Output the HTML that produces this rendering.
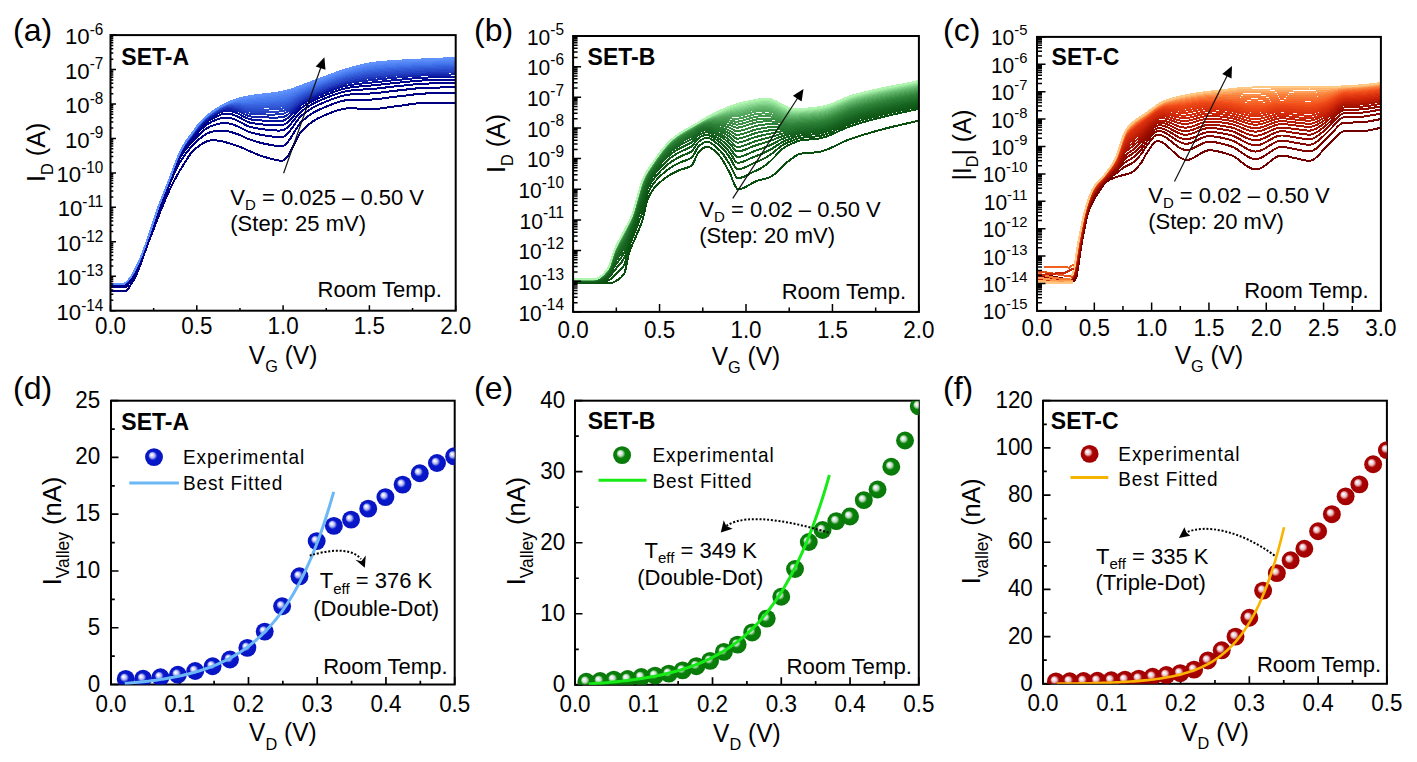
<!DOCTYPE html><html><head><meta charset="utf-8"><style>html,body{margin:0;padding:0;background:#fff;width:1417px;height:762px;overflow:hidden}text{font-family:"Liberation Sans",sans-serif;fill:#000}</style></head><body><svg width="1417" height="762" viewBox="0 0 1417 762" style="display:block">
<defs>
<radialGradient id="gb" cx="0.5" cy="0.5" r="0.5" fx="0.36" fy="0.36"><stop offset="0" stop-color="#ffffff"/><stop offset="0.1" stop-color="#f4f4ff"/><stop offset="0.3" stop-color="#a8b0f0"/><stop offset="0.5" stop-color="#0818cc"/><stop offset="1" stop-color="#0814c0"/></radialGradient>
<radialGradient id="gg" cx="0.5" cy="0.5" r="0.5" fx="0.36" fy="0.36"><stop offset="0" stop-color="#ffffff"/><stop offset="0.1" stop-color="#f4f4ff"/><stop offset="0.3" stop-color="#b8dcb8"/><stop offset="0.5" stop-color="#0a800a"/><stop offset="1" stop-color="#087808"/></radialGradient>
<radialGradient id="gr" cx="0.5" cy="0.5" r="0.5" fx="0.36" fy="0.36"><stop offset="0" stop-color="#ffffff"/><stop offset="0.1" stop-color="#f4f4ff"/><stop offset="0.3" stop-color="#e8b8b8"/><stop offset="0.5" stop-color="#aa0404"/><stop offset="1" stop-color="#a00000"/></radialGradient>
<clipPath id="clipa"><rect x="110.5" y="35.1" width="345.2" height="275.6"/></clipPath>
<clipPath id="clipb"><rect x="573.1" y="36" width="345.8" height="275.9"/></clipPath>
<clipPath id="clipc"><rect x="1037" y="36.9" width="343.9" height="274"/></clipPath>
<clipPath id="clipd"><rect x="111" y="400.7" width="343.7" height="283.8"/></clipPath>
<clipPath id="clipe"><rect x="575" y="400.7" width="343.8" height="284.1"/></clipPath>
<clipPath id="clipf"><rect x="1043" y="400.7" width="343.9" height="283.1"/></clipPath>
</defs>
<rect width="1417" height="762" fill="#fff"/>
<g clip-path="url(#clipa)" fill="none" stroke-width="2.0" stroke-linejoin="round" shape-rendering="crispEdges">
<path d="M110.5 291.06 L112.23 291.06 L113.95 291.06 L115.68 291.06 L117.4 291.06 L119.13 291.06 L120.86 291.06 L122.58 291.06 L124.31 291.06 L126.03 290.83 L127.76 289.35 L129.49 286.75 L131.21 284.02 L132.94 281.28 L134.66 278.18 L136.39 274.66 L138.12 270.56 L139.84 266.16 L141.57 261.45 L143.29 256.58 L145.02 251.72 L146.75 246.88 L148.47 242.25 L150.2 237.79 L151.92 233.4 L153.65 229 L155.38 224.54 L157.1 220.04 L158.83 215.55 L160.55 211.15 L162.28 206.9 L164.01 202.79 L165.73 198.74 L167.46 194.79 L169.18 190.97 L170.91 187.3 L172.64 183.83 L174.36 180.5 L176.09 177.27 L177.81 174.17 L179.54 171.18 L181.27 168.31 L182.99 165.55 L184.72 162.76 L186.44 159.94 L188.17 157.2 L189.9 154.63 L191.62 152.34 L193.35 150.43 L195.07 148.96 L196.8 147.62 L198.53 146.32 L200.25 145.08 L201.98 143.93 L203.7 142.88 L205.43 141.97 L207.16 141.22 L208.88 140.66 L210.61 140.3 L212.33 140.17 L214.06 140.22 L215.79 140.34 L217.51 140.54 L219.24 140.81 L220.96 141.14 L222.69 141.52 L224.42 141.95 L226.14 142.42 L227.87 142.93 L229.59 143.46 L231.32 144.01 L233.05 144.57 L234.77 145.14 L236.5 145.71 L238.22 146.26 L239.95 146.85 L241.68 147.55 L243.4 148.31 L245.13 149.12 L246.85 149.93 L248.58 150.71 L250.31 151.44 L252.03 152.15 L253.76 152.88 L255.48 153.6 L257.21 154.31 L258.94 155 L260.66 155.66 L262.39 156.28 L264.11 156.85 L265.84 157.35 L267.57 157.82 L269.29 158.31 L271.02 158.79 L272.74 159.26 L274.47 159.69 L276.2 160.07 L277.92 160.37 L279.65 160.58 L281.37 160.69 L283.1 160.53 L284.83 159.5 L286.55 157.68 L288.28 155.23 L290 152.3 L291.73 149.02 L293.46 145.56 L295.18 142.06 L296.91 138.67 L298.63 135.53 L300.36 132.81 L302.09 130.64 L303.81 128.95 L305.54 127.34 L307.26 125.81 L308.99 124.36 L310.72 123 L312.44 121.73 L314.17 120.56 L315.89 119.5 L317.62 118.55 L319.35 117.71 L321.07 116.94 L322.8 116.16 L324.52 115.4 L326.25 114.65 L327.98 113.91 L329.7 113.2 L331.43 112.52 L333.15 111.87 L334.88 111.25 L336.61 110.68 L338.33 110.16 L340.06 109.68 L341.78 109.27 L343.51 108.91 L345.24 108.62 L346.96 108.4 L348.69 108.26 L350.41 108.2 L352.14 108.22 L353.87 108.28 L355.59 108.38 L357.32 108.51 L359.04 108.65 L360.77 108.8 L362.5 108.95 L364.22 109.08 L365.95 109.19 L367.67 109.27 L369.4 109.3 L371.13 109.29 L372.85 109.23 L374.58 109.12 L376.3 108.98 L378.03 108.8 L379.76 108.59 L381.48 108.37 L383.21 108.12 L384.93 107.86 L386.66 107.59 L388.39 107.32 L390.11 107.06 L391.84 106.79 L393.56 106.54 L395.29 106.31 L397.02 106.1 L398.74 105.89 L400.47 105.67 L402.19 105.43 L403.92 105.18 L405.65 104.93 L407.37 104.67 L409.1 104.42 L410.82 104.16 L412.55 103.92 L414.28 103.68 L416 103.46 L417.73 103.26 L419.45 103.07 L421.18 102.92 L422.91 102.78 L424.63 102.68 L426.36 102.62 L428.08 102.59 L429.81 102.59 L431.54 102.59 L433.26 102.59 L434.99 102.59 L436.71 102.59 L438.44 102.59 L440.17 102.59 L441.89 102.59 L443.62 102.59 L445.34 102.59 L447.07 102.59 L448.8 102.59 L450.52 102.59 L452.25 102.59 L453.97 102.59 L455.7 102.59" stroke="#000080"/>
<path d="M110.5 287.45 L112.23 287.45 L113.95 287.45 L115.68 287.45 L117.4 287.45 L119.13 287.45 L120.86 287.45 L122.58 287.45 L124.31 287.3 L126.03 286.66 L127.76 285.08 L129.49 282.83 L131.21 280.22 L132.94 277.39 L134.66 274.27 L136.39 270.8 L138.12 266.95 L139.84 262.84 L141.57 258.43 L143.29 253.74 L145.02 248.98 L146.75 244.15 L148.47 239.36 L150.2 234.63 L151.92 229.87 L153.65 225.03 L155.38 220.16 L157.1 215.33 L158.83 210.67 L160.55 206.21 L162.28 201.93 L164.01 197.78 L165.73 193.68 L167.46 189.59 L169.18 185.46 L170.91 181.3 L172.64 177.22 L174.36 173.29 L176.09 169.6 L177.81 166.2 L179.54 163.13 L181.27 160.32 L182.99 157.72 L184.72 155.24 L186.44 152.88 L188.17 150.63 L189.9 148.49 L191.62 146.45 L193.35 144.58 L195.07 142.94 L196.8 141.35 L198.53 139.8 L200.25 138.31 L201.98 136.92 L203.7 135.65 L205.43 134.52 L207.16 133.54 L208.88 132.73 L210.61 132.09 L212.33 131.63 L214.06 131.31 L215.79 131.06 L217.51 130.87 L219.24 130.75 L220.96 130.68 L222.69 130.69 L224.42 130.81 L226.14 131.02 L227.87 131.32 L229.59 131.69 L231.32 132.14 L233.05 132.65 L234.77 133.22 L236.5 133.83 L238.22 134.46 L239.95 135.13 L241.68 135.88 L243.4 136.7 L245.13 137.53 L246.85 138.33 L248.58 139.08 L250.31 139.71 L252.03 140.26 L253.76 140.78 L255.48 141.3 L257.21 141.82 L258.94 142.32 L260.66 142.8 L262.39 143.24 L264.11 143.65 L265.84 144 L267.57 144.33 L269.29 144.67 L271.02 145.01 L272.74 145.33 L274.47 145.62 L276.2 145.86 L277.92 146.04 L279.65 146.15 L281.37 146.17 L283.1 145.96 L284.83 145.07 L286.55 143.55 L288.28 141.52 L290 139.09 L291.73 136.39 L293.46 133.54 L295.18 130.65 L296.91 127.85 L298.63 125.24 L300.36 122.95 L302.09 121.1 L303.81 119.63 L305.54 118.22 L307.26 116.87 L308.99 115.59 L310.72 114.37 L312.44 113.24 L314.17 112.18 L315.89 111.21 L317.62 110.33 L319.35 109.54 L321.07 108.79 L322.8 108.05 L324.52 107.3 L326.25 106.57 L327.98 105.85 L329.7 105.15 L331.43 104.47 L333.15 103.82 L334.88 103.2 L336.61 102.61 L338.33 102.07 L340.06 101.57 L341.78 101.11 L343.51 100.71 L345.24 100.37 L346.96 100.09 L348.69 99.88 L350.41 99.73 L352.14 99.64 L353.87 99.59 L355.59 99.57 L357.32 99.57 L359.04 99.58 L360.77 99.61 L362.5 99.64 L364.22 99.66 L365.95 99.66 L367.67 99.65 L369.4 99.61 L371.13 99.54 L372.85 99.44 L374.58 99.31 L376.3 99.16 L378.03 98.99 L379.76 98.79 L381.48 98.58 L383.21 98.35 L384.93 98.12 L386.66 97.87 L388.39 97.63 L390.11 97.39 L391.84 97.16 L393.56 96.94 L395.29 96.73 L397.02 96.54 L398.74 96.35 L400.47 96.15 L402.19 95.94 L403.92 95.73 L405.65 95.51 L407.37 95.28 L409.1 95.06 L410.82 94.84 L412.55 94.63 L414.28 94.43 L416 94.24 L417.73 94.06 L419.45 93.9 L421.18 93.75 L422.91 93.63 L424.63 93.54 L426.36 93.47 L428.08 93.43 L429.81 93.41 L431.54 93.4 L433.26 93.38 L434.99 93.37 L436.71 93.35 L438.44 93.33 L440.17 93.31 L441.89 93.3 L443.62 93.28 L445.34 93.26 L447.07 93.24 L448.8 93.22 L450.52 93.2 L452.25 93.18 L453.97 93.16 L455.7 93.14" stroke="#000184"/>
<path d="M110.5 285.64 L112.23 285.64 L113.95 285.64 L115.68 285.64 L117.4 285.64 L119.13 285.64 L120.86 285.64 L122.58 285.64 L124.31 285.42 L126.03 284.58 L127.76 282.95 L129.49 280.87 L131.21 278.31 L132.94 275.44 L134.66 272.32 L136.39 268.87 L138.12 265.15 L139.84 261.18 L141.57 256.91 L143.29 252.32 L145.02 247.61 L146.75 242.78 L148.47 237.91 L150.2 233.05 L151.92 228.1 L153.65 223.04 L155.38 217.96 L157.1 212.98 L158.83 208.23 L160.55 203.73 L162.28 199.44 L164.01 195.28 L165.73 191.15 L167.46 186.98 L169.18 182.71 L170.91 178.3 L172.64 173.9 L174.36 169.65 L176.09 165.66 L177.81 162.03 L179.54 158.83 L181.27 155.93 L182.99 153.29 L184.72 150.85 L186.44 148.6 L188.17 146.51 L189.9 144.51 L191.62 142.52 L193.35 140.57 L195.07 138.76 L196.8 136.96 L198.53 135.23 L200.25 133.58 L201.98 132.02 L203.7 130.58 L205.43 129.3 L207.16 128.17 L208.88 127.18 L210.61 126.34 L212.33 125.66 L214.06 125.08 L215.79 124.56 L217.51 124.11 L219.24 123.7 L220.96 123.35 L222.69 123.11 L224.42 123.02 L226.14 123.08 L227.87 123.27 L229.59 123.58 L231.32 124.01 L233.05 124.54 L234.77 125.17 L236.5 125.88 L238.22 126.63 L239.95 127.43 L241.68 128.3 L243.4 129.22 L245.13 130.13 L246.85 130.99 L248.58 131.75 L250.31 132.36 L252.03 132.82 L253.76 133.22 L255.48 133.61 L257.21 134 L258.94 134.39 L260.66 134.75 L262.39 135.09 L264.11 135.39 L265.84 135.65 L267.57 135.9 L269.29 136.14 L271.02 136.39 L272.74 136.62 L274.47 136.82 L276.2 136.97 L277.92 137.08 L279.65 137.12 L281.37 137.08 L283.1 136.85 L284.83 136.04 L286.55 134.7 L288.28 132.93 L290 130.83 L291.73 128.49 L293.46 126.02 L295.18 123.52 L296.91 121.08 L298.63 118.8 L300.36 116.79 L302.09 115.14 L303.81 113.8 L305.54 112.52 L307.26 111.28 L308.99 110.1 L310.72 108.98 L312.44 107.92 L314.17 106.94 L315.89 106.03 L317.62 105.19 L319.35 104.43 L321.07 103.7 L322.8 102.97 L324.52 102.24 L326.25 101.52 L327.98 100.81 L329.7 100.11 L331.43 99.44 L333.15 98.78 L334.88 98.16 L336.61 97.57 L338.33 97.01 L340.06 96.49 L341.78 96.01 L343.51 95.58 L345.24 95.21 L346.96 94.89 L348.69 94.63 L350.41 94.42 L352.14 94.27 L353.87 94.15 L355.59 94.05 L357.32 93.97 L359.04 93.91 L360.77 93.86 L362.5 93.81 L364.22 93.76 L365.95 93.7 L367.67 93.64 L369.4 93.55 L371.13 93.44 L372.85 93.32 L374.58 93.18 L376.3 93.02 L378.03 92.85 L379.76 92.66 L381.48 92.45 L383.21 92.24 L384.93 92.02 L386.66 91.79 L388.39 91.57 L390.11 91.35 L391.84 91.13 L393.56 90.93 L395.29 90.73 L397.02 90.56 L398.74 90.38 L400.47 90.2 L402.19 90.01 L403.92 89.81 L405.65 89.61 L407.37 89.41 L409.1 89.21 L410.82 89.01 L412.55 88.82 L414.28 88.64 L416 88.46 L417.73 88.3 L419.45 88.15 L421.18 88.02 L422.91 87.91 L424.63 87.82 L426.36 87.75 L428.08 87.7 L429.81 87.67 L431.54 87.65 L433.26 87.62 L434.99 87.6 L436.71 87.57 L438.44 87.54 L440.17 87.51 L441.89 87.49 L443.62 87.46 L445.34 87.43 L447.07 87.4 L448.8 87.37 L450.52 87.33 L452.25 87.3 L453.97 87.27 L455.7 87.23" stroke="#000288"/>
<path d="M110.5 284.73 L112.23 284.73 L113.95 284.73 L115.68 284.73 L117.4 284.73 L119.13 284.73 L120.86 284.73 L122.58 284.73 L124.31 284.48 L126.03 283.53 L127.76 281.89 L129.49 279.89 L131.21 277.36 L132.94 274.47 L134.66 271.34 L136.39 267.91 L138.12 264.25 L139.84 260.35 L141.57 256.16 L143.29 251.62 L145.02 246.92 L146.75 242.09 L148.47 237.19 L150.2 232.26 L151.92 227.22 L153.65 222.05 L155.38 216.87 L157.1 211.81 L158.83 207 L160.55 202.5 L162.28 198.2 L164.01 194.03 L165.73 189.89 L167.46 185.68 L169.18 181.33 L170.91 176.8 L172.64 172.23 L174.36 167.8 L176.09 163.62 L177.81 159.82 L179.54 156.48 L181.27 153.46 L182.99 150.71 L184.72 148.21 L186.44 145.94 L188.17 143.87 L189.9 141.88 L191.62 139.87 L193.35 137.82 L195.07 135.84 L196.8 133.89 L198.53 132.03 L200.25 130.26 L201.98 128.59 L203.7 127.04 L205.43 125.64 L207.16 124.4 L208.88 123.3 L210.61 122.32 L212.33 121.47 L214.06 120.72 L215.79 120.02 L217.51 119.37 L219.24 118.77 L220.96 118.23 L222.69 117.8 L224.42 117.57 L226.14 117.51 L227.87 117.61 L229.59 117.87 L231.32 118.27 L233.05 118.81 L234.77 119.47 L236.5 120.23 L238.22 121.04 L239.95 121.91 L241.68 122.85 L243.4 123.82 L245.13 124.77 L246.85 125.66 L248.58 126.42 L250.31 127.01 L252.03 127.4 L253.76 127.7 L255.48 128 L257.21 128.3 L258.94 128.6 L260.66 128.88 L262.39 129.14 L264.11 129.37 L265.84 129.56 L267.57 129.74 L269.29 129.92 L271.02 130.1 L272.74 130.26 L274.47 130.39 L276.2 130.49 L277.92 130.54 L279.65 130.53 L281.37 130.45 L283.1 130.21 L284.83 129.46 L286.55 128.25 L288.28 126.67 L290 124.8 L291.73 122.73 L293.46 120.54 L295.18 118.32 L296.91 116.14 L298.63 114.11 L300.36 112.29 L302.09 110.79 L303.81 109.55 L305.54 108.35 L307.26 107.2 L308.99 106.09 L310.72 105.04 L312.44 104.04 L314.17 103.11 L315.89 102.24 L317.62 101.44 L319.35 100.7 L321.07 99.98 L322.8 99.26 L324.52 98.54 L326.25 97.83 L327.98 97.13 L329.7 96.44 L331.43 95.77 L333.15 95.11 L334.88 94.48 L336.61 93.88 L338.33 93.31 L340.06 92.78 L341.78 92.29 L343.51 91.84 L345.24 91.44 L346.96 91.09 L348.69 90.8 L350.41 90.56 L352.14 90.35 L353.87 90.18 L355.59 90.03 L357.32 89.89 L359.04 89.77 L360.77 89.66 L362.5 89.56 L364.22 89.46 L365.95 89.36 L367.67 89.25 L369.4 89.13 L371.13 89 L372.85 88.85 L374.58 88.7 L376.3 88.55 L378.03 88.37 L379.76 88.18 L381.48 87.99 L383.21 87.78 L384.93 87.57 L386.66 87.36 L388.39 87.15 L390.11 86.94 L391.84 86.74 L393.56 86.54 L395.29 86.36 L397.02 86.19 L398.74 86.03 L400.47 85.86 L402.19 85.68 L403.92 85.49 L405.65 85.31 L407.37 85.12 L409.1 84.94 L410.82 84.76 L412.55 84.58 L414.28 84.41 L416 84.25 L417.73 84.1 L419.45 83.97 L421.18 83.84 L422.91 83.73 L424.63 83.64 L426.36 83.57 L428.08 83.52 L429.81 83.49 L431.54 83.45 L433.26 83.42 L434.99 83.39 L436.71 83.35 L438.44 83.32 L440.17 83.28 L441.89 83.25 L443.62 83.21 L445.34 83.17 L447.07 83.13 L448.8 83.09 L450.52 83.05 L452.25 83.01 L453.97 82.97 L455.7 82.92" stroke="#00048c"/>
<path d="M110.5 284.28 L112.23 284.28 L113.95 284.28 L115.68 284.28 L117.4 284.28 L119.13 284.28 L120.86 284.28 L122.58 284.28 L124.31 284.01 L126.03 283.01 L127.76 281.35 L129.49 279.4 L131.21 276.88 L132.94 273.98 L134.66 270.85 L136.39 267.43 L138.12 263.8 L139.84 259.94 L141.57 255.78 L143.29 251.26 L145.02 246.58 L146.75 241.75 L148.47 236.83 L150.2 231.86 L151.92 226.78 L153.65 221.55 L155.38 216.32 L157.1 211.22 L158.83 206.39 L160.55 201.88 L162.28 197.58 L164.01 193.41 L165.73 189.25 L167.46 185.03 L169.18 180.65 L170.91 176.05 L172.64 171.4 L174.36 166.85 L176.09 162.55 L177.81 158.63 L179.54 155.17 L181.27 152.03 L182.99 149.17 L184.72 146.58 L186.44 144.25 L188.17 142.15 L189.9 140.12 L191.62 138.06 L193.35 135.91 L195.07 133.8 L196.8 131.73 L198.53 129.79 L200.25 127.94 L201.98 126.18 L203.7 124.56 L205.43 123.08 L207.16 121.77 L208.88 120.58 L210.61 119.51 L212.33 118.55 L214.06 117.67 L215.79 116.83 L217.51 116.05 L219.24 115.32 L220.96 114.64 L222.69 114.09 L224.42 113.74 L226.14 113.59 L227.87 113.61 L229.59 113.81 L231.32 114.16 L233.05 114.67 L234.77 115.31 L236.5 116.07 L238.22 116.9 L239.95 117.78 L241.68 118.72 L243.4 119.69 L245.13 120.64 L246.85 121.51 L248.58 122.25 L250.31 122.79 L252.03 123.12 L253.76 123.35 L255.48 123.58 L257.21 123.81 L258.94 124.04 L260.66 124.25 L262.39 124.45 L264.11 124.62 L265.84 124.77 L267.57 124.89 L269.29 125.02 L271.02 125.14 L272.74 125.25 L274.47 125.34 L276.2 125.39 L277.92 125.39 L279.65 125.34 L281.37 125.23 L283.1 124.97 L284.83 124.27 L286.55 123.17 L288.28 121.74 L290 120.06 L291.73 118.19 L293.46 116.22 L295.18 114.22 L296.91 112.25 L298.63 110.41 L300.36 108.75 L302.09 107.36 L303.81 106.2 L305.54 105.07 L307.26 103.98 L308.99 102.94 L310.72 101.94 L312.44 100.99 L314.17 100.1 L315.89 99.26 L317.62 98.49 L319.35 97.76 L321.07 97.05 L322.8 96.34 L324.52 95.63 L326.25 94.93 L327.98 94.23 L329.7 93.54 L331.43 92.87 L333.15 92.22 L334.88 91.59 L336.61 90.98 L338.33 90.41 L340.06 89.86 L341.78 89.36 L343.51 88.9 L345.24 88.47 L346.96 88.1 L348.69 87.78 L350.41 87.51 L352.14 87.27 L353.87 87.05 L355.59 86.86 L357.32 86.68 L359.04 86.51 L360.77 86.36 L362.5 86.21 L364.22 86.07 L365.95 85.93 L367.67 85.79 L369.4 85.64 L371.13 85.49 L372.85 85.34 L374.58 85.18 L376.3 85.02 L378.03 84.84 L379.76 84.66 L381.48 84.47 L383.21 84.27 L384.93 84.07 L386.66 83.87 L388.39 83.66 L390.11 83.47 L391.84 83.27 L393.56 83.09 L395.29 82.92 L397.02 82.76 L398.74 82.6 L400.47 82.43 L402.19 82.27 L403.92 82.09 L405.65 81.92 L407.37 81.75 L409.1 81.58 L410.82 81.41 L412.55 81.24 L414.28 81.09 L416 80.94 L417.73 80.8 L419.45 80.67 L421.18 80.55 L422.91 80.44 L424.63 80.36 L426.36 80.28 L428.08 80.23 L429.81 80.19 L431.54 80.15 L433.26 80.11 L434.99 80.07 L436.71 80.03 L438.44 79.99 L440.17 79.95 L441.89 79.91 L443.62 79.86 L445.34 79.82 L447.07 79.77 L448.8 79.73 L450.52 79.68 L452.25 79.63 L453.97 79.58 L455.7 79.53" stroke="#000590"/>
<path d="M110.5 284.06 L112.23 284.06 L113.95 284.06 L115.68 284.06 L117.4 284.06 L119.13 284.06 L120.86 284.06 L122.58 284.06 L124.31 283.78 L126.03 282.75 L127.76 281.09 L129.49 279.16 L131.21 276.65 L132.94 273.74 L134.66 270.61 L136.39 267.19 L138.12 263.58 L139.84 259.73 L141.57 255.59 L143.29 251.08 L145.02 246.41 L146.75 241.58 L148.47 236.64 L150.2 231.66 L151.92 226.56 L153.65 221.3 L155.38 216.05 L157.1 210.93 L158.83 206.09 L160.55 201.57 L162.28 197.27 L164.01 193.09 L165.73 188.94 L167.46 184.71 L169.18 180.3 L170.91 175.67 L172.64 170.97 L174.36 166.36 L176.09 161.98 L177.81 157.97 L179.54 154.42 L181.27 151.18 L182.99 148.23 L184.72 145.54 L186.44 143.15 L188.17 141 L189.9 138.93 L191.62 136.81 L193.35 134.59 L195.07 132.38 L196.8 130.23 L198.53 128.22 L200.25 126.31 L201.98 124.5 L203.7 122.82 L205.43 121.29 L207.16 119.92 L208.88 118.67 L210.61 117.54 L212.33 116.5 L214.06 115.53 L215.79 114.61 L217.51 113.73 L219.24 112.9 L220.96 112.13 L222.69 111.48 L224.42 111.05 L226.14 110.82 L227.87 110.77 L229.59 110.89 L231.32 111.18 L233.05 111.63 L234.77 112.23 L236.5 112.94 L238.22 113.73 L239.95 114.58 L241.68 115.48 L243.4 116.41 L245.13 117.31 L246.85 118.14 L248.58 118.83 L250.31 119.32 L252.03 119.6 L253.76 119.76 L255.48 119.93 L257.21 120.11 L258.94 120.28 L260.66 120.44 L262.39 120.58 L264.11 120.71 L265.84 120.81 L267.57 120.89 L269.29 120.97 L271.02 121.05 L272.74 121.12 L274.47 121.16 L276.2 121.17 L277.92 121.14 L279.65 121.06 L281.37 120.92 L283.1 120.65 L284.83 119.99 L286.55 118.98 L288.28 117.67 L290 116.14 L291.73 114.45 L293.46 112.65 L295.18 110.83 L296.91 109.04 L298.63 107.35 L300.36 105.83 L302.09 104.53 L303.81 103.43 L305.54 102.37 L307.26 101.33 L308.99 100.34 L310.72 99.38 L312.44 98.47 L314.17 97.61 L315.89 96.81 L317.62 96.05 L319.35 95.33 L321.07 94.64 L322.8 93.94 L324.52 93.23 L326.25 92.53 L327.98 91.84 L329.7 91.16 L331.43 90.49 L333.15 89.83 L334.88 89.2 L336.61 88.59 L338.33 88.01 L340.06 87.46 L341.78 86.94 L343.51 86.46 L345.24 86.03 L346.96 85.64 L348.69 85.29 L350.41 84.99 L352.14 84.72 L353.87 84.47 L355.59 84.24 L357.32 84.03 L359.04 83.82 L360.77 83.63 L362.5 83.45 L364.22 83.28 L365.95 83.11 L367.67 82.94 L369.4 82.77 L371.13 82.6 L372.85 82.43 L374.58 82.27 L376.3 82.11 L378.03 81.93 L379.76 81.75 L381.48 81.56 L383.21 81.37 L384.93 81.18 L386.66 80.98 L388.39 80.79 L390.11 80.6 L391.84 80.42 L393.56 80.24 L395.29 80.07 L397.02 79.92 L398.74 79.77 L400.47 79.61 L402.19 79.45 L403.92 79.29 L405.65 79.13 L407.37 78.96 L409.1 78.8 L410.82 78.64 L412.55 78.49 L414.28 78.34 L416 78.2 L417.73 78.07 L419.45 77.94 L421.18 77.83 L422.91 77.73 L424.63 77.64 L426.36 77.57 L428.08 77.51 L429.81 77.47 L431.54 77.42 L433.26 77.38 L434.99 77.34 L436.71 77.29 L438.44 77.24 L440.17 77.2 L441.89 77.15 L443.62 77.1 L445.34 77.05 L447.07 77 L448.8 76.95 L450.52 76.9 L452.25 76.84 L453.97 76.78 L455.7 76.73" stroke="#08139d"/>
<path d="M110.5 283.94 L112.23 283.94 L113.95 283.94 L115.68 283.94 L117.4 283.94 L119.13 283.94 L120.86 283.94 L122.58 283.94 L124.31 283.66 L126.03 282.62 L127.76 280.95 L129.49 279.03 L131.21 276.53 L132.94 273.62 L134.66 270.49 L136.39 267.07 L138.12 263.46 L139.84 259.63 L141.57 255.5 L143.29 251 L145.02 246.32 L146.75 241.49 L148.47 236.55 L150.2 231.56 L151.92 226.44 L153.65 221.18 L155.38 215.91 L157.1 210.78 L158.83 205.94 L160.55 201.42 L162.28 197.12 L164.01 192.94 L165.73 188.78 L167.46 184.55 L169.18 180.13 L170.91 175.49 L172.64 170.76 L174.36 166.11 L176.09 161.68 L177.81 157.6 L179.54 153.98 L181.27 150.66 L182.99 147.63 L184.72 144.87 L186.44 142.42 L188.17 140.23 L189.9 138.12 L191.62 135.95 L193.35 133.67 L195.07 131.39 L196.8 129.17 L198.53 127.13 L200.25 125.18 L201.98 123.33 L203.7 121.6 L205.43 120.04 L207.16 118.63 L208.88 117.34 L210.61 116.16 L212.33 115.06 L214.06 114.03 L215.79 113.05 L217.51 112.11 L219.24 111.21 L220.96 110.37 L222.69 109.65 L224.42 109.15 L226.14 108.85 L227.87 108.72 L229.59 108.77 L231.32 108.99 L233.05 109.36 L234.77 109.89 L236.5 110.53 L238.22 111.25 L239.95 112.03 L241.68 112.86 L243.4 113.72 L245.13 114.55 L246.85 115.31 L248.58 115.93 L250.31 116.37 L252.03 116.59 L253.76 116.71 L255.48 116.83 L257.21 116.95 L258.94 117.07 L260.66 117.19 L262.39 117.29 L264.11 117.38 L265.84 117.44 L267.57 117.48 L269.29 117.53 L271.02 117.57 L272.74 117.6 L274.47 117.61 L276.2 117.59 L277.92 117.52 L279.65 117.42 L281.37 117.25 L283.1 116.97 L284.83 116.35 L286.55 115.41 L288.28 114.21 L290 112.81 L291.73 111.26 L293.46 109.62 L295.18 107.95 L296.91 106.31 L298.63 104.76 L300.36 103.34 L302.09 102.12 L303.81 101.08 L305.54 100.06 L307.26 99.08 L308.99 98.12 L310.72 97.2 L312.44 96.32 L314.17 95.49 L315.89 94.71 L317.62 93.97 L319.35 93.27 L321.07 92.58 L322.8 91.89 L324.52 91.19 L326.25 90.49 L327.98 89.8 L329.7 89.12 L331.43 88.45 L333.15 87.8 L334.88 87.17 L336.61 86.55 L338.33 85.97 L340.06 85.41 L341.78 84.88 L343.51 84.39 L345.24 83.94 L346.96 83.54 L348.69 83.18 L350.41 82.85 L352.14 82.56 L353.87 82.28 L355.59 82.02 L357.32 81.77 L359.04 81.54 L360.77 81.31 L362.5 81.1 L364.22 80.9 L365.95 80.7 L367.67 80.51 L369.4 80.32 L371.13 80.14 L372.85 79.96 L374.58 79.8 L376.3 79.63 L378.03 79.46 L379.76 79.28 L381.48 79.09 L383.21 78.91 L384.93 78.72 L386.66 78.53 L388.39 78.34 L390.11 78.16 L391.84 77.98 L393.56 77.81 L395.29 77.65 L397.02 77.5 L398.74 77.36 L400.47 77.21 L402.19 77.06 L403.92 76.9 L405.65 76.75 L407.37 76.59 L409.1 76.44 L410.82 76.29 L412.55 76.15 L414.28 76 L416 75.87 L417.73 75.74 L419.45 75.63 L421.18 75.52 L422.91 75.42 L424.63 75.33 L426.36 75.26 L428.08 75.2 L429.81 75.15 L431.54 75.1 L433.26 75.06 L434.99 75.01 L436.71 74.96 L438.44 74.91 L440.17 74.86 L441.89 74.8 L443.62 74.75 L445.34 74.7 L447.07 74.64 L448.8 74.59 L450.52 74.53 L452.25 74.47 L453.97 74.41 L455.7 74.34" stroke="#1325ac"/>
<path d="M110.5 283.89 L112.23 283.89 L113.95 283.89 L115.68 283.89 L117.4 283.89 L119.13 283.89 L120.86 283.89 L122.58 283.89 L124.31 283.6 L126.03 282.56 L127.76 280.89 L129.49 278.97 L131.21 276.47 L132.94 273.55 L134.66 270.43 L136.39 267.01 L138.12 263.41 L139.84 259.58 L141.57 255.45 L143.29 250.95 L145.02 246.28 L146.75 241.45 L148.47 236.51 L150.2 231.51 L151.92 226.39 L153.65 221.12 L155.38 215.84 L157.1 210.71 L158.83 205.86 L160.55 201.34 L162.28 197.04 L164.01 192.86 L165.73 188.7 L167.46 184.46 L169.18 180.04 L170.91 175.39 L172.64 170.65 L174.36 165.97 L176.09 161.51 L177.81 157.38 L179.54 153.71 L181.27 150.34 L182.99 147.24 L184.72 144.43 L186.44 141.94 L188.17 139.7 L189.9 137.56 L191.62 135.36 L193.35 133.03 L195.07 130.69 L196.8 128.44 L198.53 126.36 L200.25 124.38 L201.98 122.5 L203.7 120.75 L205.43 119.16 L207.16 117.73 L208.88 116.41 L210.61 115.19 L212.33 114.06 L214.06 112.98 L215.79 111.95 L217.51 110.97 L219.24 110.03 L220.96 109.14 L222.69 108.37 L224.42 107.82 L226.14 107.45 L227.87 107.25 L229.59 107.22 L231.32 107.35 L233.05 107.64 L234.77 108.08 L236.5 108.64 L238.22 109.27 L239.95 109.95 L241.68 110.7 L243.4 111.46 L245.13 112.21 L246.85 112.88 L248.58 113.43 L250.31 113.81 L252.03 113.98 L253.76 114.05 L255.48 114.12 L257.21 114.21 L258.94 114.29 L260.66 114.36 L262.39 114.43 L264.11 114.47 L265.84 114.5 L267.57 114.52 L269.29 114.53 L271.02 114.54 L272.74 114.54 L274.47 114.52 L276.2 114.46 L277.92 114.37 L279.65 114.24 L281.37 114.06 L283.1 113.77 L284.83 113.18 L286.55 112.3 L288.28 111.19 L290 109.9 L291.73 108.48 L293.46 106.98 L295.18 105.45 L296.91 103.93 L298.63 102.49 L300.36 101.17 L302.09 100.03 L303.81 99.03 L305.54 98.06 L307.26 97.11 L308.99 96.19 L310.72 95.3 L312.44 94.46 L314.17 93.65 L315.89 92.89 L317.62 92.17 L319.35 91.47 L321.07 90.79 L322.8 90.1 L324.52 89.41 L326.25 88.72 L327.98 88.03 L329.7 87.35 L331.43 86.68 L333.15 86.03 L334.88 85.39 L336.61 84.78 L338.33 84.19 L340.06 83.62 L341.78 83.09 L343.51 82.59 L345.24 82.13 L346.96 81.71 L348.69 81.33 L350.41 80.99 L352.14 80.67 L353.87 80.37 L355.59 80.08 L357.32 79.8 L359.04 79.54 L360.77 79.29 L362.5 79.05 L364.22 78.83 L365.95 78.61 L367.67 78.4 L369.4 78.19 L371.13 78 L372.85 77.81 L374.58 77.64 L376.3 77.47 L378.03 77.3 L379.76 77.12 L381.48 76.94 L383.21 76.76 L384.93 76.57 L386.66 76.39 L388.39 76.21 L390.11 76.04 L391.84 75.87 L393.56 75.7 L395.29 75.55 L397.02 75.4 L398.74 75.26 L400.47 75.12 L402.19 74.97 L403.92 74.82 L405.65 74.68 L407.37 74.53 L409.1 74.38 L410.82 74.24 L412.55 74.1 L414.28 73.97 L416 73.84 L417.73 73.72 L419.45 73.61 L421.18 73.5 L422.91 73.41 L424.63 73.32 L426.36 73.25 L428.08 73.19 L429.81 73.14 L431.54 73.08 L433.26 73.03 L434.99 72.98 L436.71 72.93 L438.44 72.87 L440.17 72.82 L441.89 72.76 L443.62 72.71 L445.34 72.65 L447.07 72.59 L448.8 72.53 L450.52 72.46 L452.25 72.4 L453.97 72.33 L455.7 72.27" stroke="#1d36ba"/>
<path d="M110.5 283.86 L112.23 283.86 L113.95 283.86 L115.68 283.86 L117.4 283.86 L119.13 283.86 L120.86 283.86 L122.58 283.86 L124.31 283.57 L126.03 282.52 L127.76 280.85 L129.49 278.94 L131.21 276.44 L132.94 273.52 L134.66 270.4 L136.39 266.98 L138.12 263.38 L139.84 259.55 L141.57 255.43 L143.29 250.93 L145.02 246.26 L146.75 241.43 L148.47 236.49 L150.2 231.49 L151.92 226.36 L153.65 221.09 L155.38 215.81 L157.1 210.67 L158.83 205.82 L160.55 201.3 L162.28 197 L164.01 192.82 L165.73 188.66 L167.46 184.42 L169.18 180 L170.91 175.35 L172.64 170.6 L174.36 165.9 L176.09 161.41 L177.81 157.25 L179.54 153.54 L181.27 150.13 L182.99 146.99 L184.72 144.14 L186.44 141.6 L188.17 139.34 L189.9 137.18 L191.62 134.94 L193.35 132.58 L195.07 130.21 L196.8 127.92 L198.53 125.82 L200.25 123.82 L201.98 121.92 L203.7 120.16 L205.43 118.55 L207.16 117.1 L208.88 115.76 L210.61 114.51 L212.33 113.35 L214.06 112.25 L215.79 111.19 L217.51 110.17 L219.24 109.2 L220.96 108.27 L222.69 107.47 L224.42 106.87 L226.14 106.44 L227.87 106.17 L229.59 106.06 L231.32 106.11 L233.05 106.31 L234.77 106.65 L236.5 107.11 L238.22 107.64 L239.95 108.22 L241.68 108.86 L243.4 109.52 L245.13 110.17 L246.85 110.76 L248.58 111.23 L250.31 111.54 L252.03 111.67 L253.76 111.69 L255.48 111.73 L257.21 111.77 L258.94 111.82 L260.66 111.86 L262.39 111.89 L264.11 111.91 L265.84 111.9 L267.57 111.89 L269.29 111.88 L271.02 111.86 L272.74 111.83 L274.47 111.78 L276.2 111.7 L277.92 111.59 L279.65 111.43 L281.37 111.23 L283.1 110.94 L284.83 110.37 L286.55 109.55 L288.28 108.52 L290 107.33 L291.73 106.02 L293.46 104.64 L295.18 103.23 L296.91 101.83 L298.63 100.49 L300.36 99.26 L302.09 98.17 L303.81 97.22 L305.54 96.28 L307.26 95.37 L308.99 94.48 L310.72 93.63 L312.44 92.8 L314.17 92.02 L315.89 91.28 L317.62 90.57 L319.35 89.88 L321.07 89.21 L322.8 88.52 L324.52 87.83 L326.25 87.15 L327.98 86.46 L329.7 85.79 L331.43 85.12 L333.15 84.46 L334.88 83.83 L336.61 83.21 L338.33 82.61 L340.06 82.04 L341.78 81.5 L343.51 81 L345.24 80.52 L346.96 80.09 L348.69 79.7 L350.41 79.34 L352.14 79 L353.87 78.67 L355.59 78.36 L357.32 78.06 L359.04 77.78 L360.77 77.5 L362.5 77.24 L364.22 76.99 L365.95 76.75 L367.67 76.52 L369.4 76.31 L371.13 76.1 L372.85 75.91 L374.58 75.73 L376.3 75.56 L378.03 75.39 L379.76 75.21 L381.48 75.04 L383.21 74.86 L384.93 74.68 L386.66 74.5 L388.39 74.33 L390.11 74.16 L391.84 73.99 L393.56 73.83 L395.29 73.68 L397.02 73.54 L398.74 73.4 L400.47 73.26 L402.19 73.12 L403.92 72.98 L405.65 72.84 L407.37 72.7 L409.1 72.56 L410.82 72.43 L412.55 72.3 L414.28 72.17 L416 72.05 L417.73 71.93 L419.45 71.82 L421.18 71.72 L422.91 71.63 L424.63 71.54 L426.36 71.47 L428.08 71.41 L429.81 71.35 L431.54 71.3 L433.26 71.24 L434.99 71.18 L436.71 71.13 L438.44 71.07 L440.17 71.01 L441.89 70.95 L443.62 70.89 L445.34 70.83 L447.07 70.77 L448.8 70.7 L450.52 70.64 L452.25 70.57 L453.97 70.5 L455.7 70.43" stroke="#2545c6"/>
<path d="M110.5 283.84 L112.23 283.84 L113.95 283.84 L115.68 283.84 L117.4 283.84 L119.13 283.84 L120.86 283.84 L122.58 283.84 L124.31 283.56 L126.03 282.51 L127.76 280.84 L129.49 278.93 L131.21 276.42 L132.94 273.51 L134.66 270.38 L136.39 266.96 L138.12 263.37 L139.84 259.54 L141.57 255.41 L143.29 250.92 L145.02 246.25 L146.75 241.42 L148.47 236.48 L150.2 231.48 L151.92 226.35 L153.65 221.07 L155.38 215.79 L157.1 210.65 L158.83 205.8 L160.55 201.28 L162.28 196.98 L164.01 192.8 L165.73 188.64 L167.46 184.4 L169.18 179.98 L170.91 175.32 L172.64 170.57 L174.36 165.86 L176.09 161.35 L177.81 157.17 L179.54 153.44 L181.27 149.99 L182.99 146.82 L184.72 143.94 L186.44 141.38 L188.17 139.09 L189.9 136.91 L191.62 134.66 L193.35 132.27 L195.07 129.87 L196.8 127.56 L198.53 125.45 L200.25 123.43 L201.98 121.52 L203.7 119.74 L205.43 118.12 L207.16 116.65 L208.88 115.3 L210.61 114.04 L212.33 112.86 L214.06 111.74 L215.79 110.66 L217.51 109.61 L219.24 108.62 L220.96 107.67 L222.69 106.84 L224.42 106.19 L226.14 105.71 L227.87 105.38 L229.59 105.19 L231.32 105.15 L233.05 105.26 L234.77 105.5 L236.5 105.85 L238.22 106.27 L239.95 106.75 L241.68 107.28 L243.4 107.83 L245.13 108.38 L246.85 108.87 L248.58 109.26 L250.31 109.51 L252.03 109.59 L253.76 109.58 L255.48 109.58 L257.21 109.59 L258.94 109.6 L260.66 109.61 L262.39 109.61 L264.11 109.6 L265.84 109.57 L267.57 109.54 L269.29 109.5 L271.02 109.45 L272.74 109.4 L274.47 109.32 L276.2 109.22 L277.92 109.08 L279.65 108.91 L281.37 108.7 L283.1 108.4 L284.83 107.85 L286.55 107.08 L288.28 106.13 L290 105.03 L291.73 103.82 L293.46 102.54 L295.18 101.24 L296.91 99.94 L298.63 98.69 L300.36 97.54 L302.09 96.51 L303.81 95.59 L305.54 94.69 L307.26 93.81 L308.99 92.95 L310.72 92.12 L312.44 91.32 L314.17 90.55 L315.89 89.83 L317.62 89.13 L319.35 88.46 L321.07 87.78 L322.8 87.1 L324.52 86.42 L326.25 85.74 L327.98 85.06 L329.7 84.38 L331.43 83.71 L333.15 83.06 L334.88 82.42 L336.61 81.8 L338.33 81.2 L340.06 80.63 L341.78 80.08 L343.51 79.56 L345.24 79.08 L346.96 78.64 L348.69 78.23 L350.41 77.86 L352.14 77.5 L353.87 77.16 L355.59 76.82 L357.32 76.5 L359.04 76.19 L360.77 75.9 L362.5 75.62 L364.22 75.35 L365.95 75.09 L367.67 74.84 L369.4 74.61 L371.13 74.4 L372.85 74.2 L374.58 74.02 L376.3 73.85 L378.03 73.68 L379.76 73.5 L381.48 73.33 L383.21 73.15 L384.93 72.98 L386.66 72.8 L388.39 72.63 L390.11 72.47 L391.84 72.31 L393.56 72.16 L395.29 72.01 L397.02 71.87 L398.74 71.74 L400.47 71.6 L402.19 71.47 L403.92 71.33 L405.65 71.19 L407.37 71.06 L409.1 70.93 L410.82 70.8 L412.55 70.67 L414.28 70.55 L416 70.44 L417.73 70.32 L419.45 70.22 L421.18 70.12 L422.91 70.03 L424.63 69.95 L426.36 69.87 L428.08 69.81 L429.81 69.75 L431.54 69.69 L433.26 69.63 L434.99 69.57 L436.71 69.51 L438.44 69.45 L440.17 69.39 L441.89 69.33 L443.62 69.27 L445.34 69.2 L447.07 69.14 L448.8 69.07 L450.52 69 L452.25 68.93 L453.97 68.85 L455.7 68.78" stroke="#2a4dcd"/>
<path d="M110.5 283.84 L112.23 283.84 L113.95 283.84 L115.68 283.84 L117.4 283.84 L119.13 283.84 L120.86 283.84 L122.58 283.84 L124.31 283.55 L126.03 282.5 L127.76 280.83 L129.49 278.92 L131.21 276.42 L132.94 273.5 L134.66 270.37 L136.39 266.95 L138.12 263.36 L139.84 259.53 L141.57 255.41 L143.29 250.91 L145.02 246.24 L146.75 241.41 L148.47 236.47 L150.2 231.47 L151.92 226.34 L153.65 221.06 L155.38 215.78 L157.1 210.64 L158.83 205.79 L160.55 201.27 L162.28 196.97 L164.01 192.79 L165.73 188.63 L167.46 184.39 L169.18 179.97 L170.91 175.31 L172.64 170.55 L174.36 165.84 L176.09 161.32 L177.81 157.12 L179.54 153.37 L181.27 149.9 L182.99 146.71 L184.72 143.8 L186.44 141.22 L188.17 138.92 L189.9 136.72 L191.62 134.45 L193.35 132.05 L195.07 129.63 L196.8 127.3 L198.53 125.18 L200.25 123.16 L201.98 121.24 L203.7 119.45 L205.43 117.82 L207.16 116.34 L208.88 114.98 L210.61 113.71 L212.33 112.52 L214.06 111.38 L215.79 110.28 L217.51 109.22 L219.24 108.21 L220.96 107.25 L222.69 106.39 L224.42 105.71 L226.14 105.18 L227.87 104.78 L229.59 104.52 L231.32 104.4 L233.05 104.41 L234.77 104.54 L236.5 104.79 L238.22 105.11 L239.95 105.47 L241.68 105.89 L243.4 106.33 L245.13 106.78 L246.85 107.18 L248.58 107.49 L250.31 107.67 L252.03 107.71 L253.76 107.67 L255.48 107.64 L257.21 107.61 L258.94 107.59 L260.66 107.57 L262.39 107.55 L264.11 107.51 L265.84 107.46 L267.57 107.4 L269.29 107.34 L271.02 107.27 L272.74 107.19 L274.47 107.09 L276.2 106.97 L277.92 106.81 L279.65 106.63 L281.37 106.4 L283.1 106.09 L284.83 105.57 L286.55 104.84 L288.28 103.96 L290 102.94 L291.73 101.82 L293.46 100.64 L295.18 99.43 L296.91 98.23 L298.63 97.06 L300.36 95.98 L302.09 95 L303.81 94.11 L305.54 93.25 L307.26 92.39 L308.99 91.56 L310.72 90.75 L312.44 89.97 L314.17 89.23 L315.89 88.52 L317.62 87.83 L319.35 87.16 L321.07 86.49 L322.8 85.82 L324.52 85.14 L326.25 84.46 L327.98 83.78 L329.7 83.1 L331.43 82.44 L333.15 81.78 L334.88 81.14 L336.61 80.52 L338.33 79.92 L340.06 79.34 L341.78 78.79 L343.51 78.27 L345.24 77.78 L346.96 77.32 L348.69 76.91 L350.41 76.52 L352.14 76.14 L353.87 75.78 L355.59 75.43 L357.32 75.09 L359.04 74.76 L360.77 74.44 L362.5 74.14 L364.22 73.85 L365.95 73.58 L367.67 73.32 L369.4 73.08 L371.13 72.85 L372.85 72.65 L374.58 72.47 L376.3 72.3 L378.03 72.12 L379.76 71.95 L381.48 71.78 L383.21 71.6 L384.93 71.43 L386.66 71.26 L388.39 71.1 L390.11 70.94 L391.84 70.78 L393.56 70.63 L395.29 70.49 L397.02 70.36 L398.74 70.23 L400.47 70.09 L402.19 69.96 L403.92 69.83 L405.65 69.7 L407.37 69.57 L409.1 69.45 L410.82 69.32 L412.55 69.2 L414.28 69.09 L416 68.97 L417.73 68.87 L419.45 68.77 L421.18 68.67 L422.91 68.58 L424.63 68.5 L426.36 68.42 L428.08 68.36 L429.81 68.3 L431.54 68.23 L433.26 68.17 L434.99 68.11 L436.71 68.05 L438.44 67.99 L440.17 67.92 L441.89 67.86 L443.62 67.79 L445.34 67.73 L447.07 67.66 L448.8 67.59 L450.52 67.51 L452.25 67.44 L453.97 67.36 L455.7 67.28" stroke="#3056d4"/>
<path d="M110.5 283.83 L112.23 283.83 L113.95 283.83 L115.68 283.83 L117.4 283.83 L119.13 283.83 L120.86 283.83 L122.58 283.83 L124.31 283.55 L126.03 282.5 L127.76 280.82 L129.49 278.92 L131.21 276.41 L132.94 273.5 L134.66 270.37 L136.39 266.95 L138.12 263.36 L139.84 259.53 L141.57 255.4 L143.29 250.91 L145.02 246.24 L146.75 241.41 L148.47 236.47 L150.2 231.47 L151.92 226.34 L153.65 221.06 L155.38 215.78 L157.1 210.64 L158.83 205.79 L160.55 201.27 L162.28 196.97 L164.01 192.79 L165.73 188.63 L167.46 184.39 L169.18 179.96 L170.91 175.3 L172.64 170.54 L174.36 165.83 L176.09 161.3 L177.81 157.09 L179.54 153.32 L181.27 149.84 L182.99 146.63 L184.72 143.7 L186.44 141.11 L188.17 138.8 L189.9 136.59 L191.62 134.31 L193.35 131.9 L195.07 129.46 L196.8 127.13 L198.53 125 L200.25 122.97 L201.98 121.04 L203.7 119.24 L205.43 117.61 L207.16 116.13 L208.88 114.76 L210.61 113.48 L212.33 112.27 L214.06 111.13 L215.79 110.02 L217.51 108.95 L219.24 107.93 L220.96 106.95 L222.69 106.08 L224.42 105.36 L226.14 104.79 L227.87 104.33 L229.59 104 L231.32 103.79 L233.05 103.71 L234.77 103.74 L236.5 103.88 L238.22 104.09 L239.95 104.35 L241.68 104.65 L243.4 104.99 L245.13 105.33 L246.85 105.64 L248.58 105.87 L250.31 105.99 L252.03 105.98 L253.76 105.91 L255.48 105.85 L257.21 105.8 L258.94 105.76 L260.66 105.71 L262.39 105.66 L264.11 105.6 L265.84 105.53 L267.57 105.45 L269.29 105.36 L271.02 105.27 L272.74 105.17 L274.47 105.05 L276.2 104.91 L277.92 104.74 L279.65 104.54 L281.37 104.29 L283.1 103.98 L284.83 103.48 L286.55 102.8 L288.28 101.97 L290 101.02 L291.73 99.99 L293.46 98.9 L295.18 97.78 L296.91 96.66 L298.63 95.57 L300.36 94.55 L302.09 93.62 L303.81 92.76 L305.54 91.92 L307.26 91.1 L308.99 90.29 L310.72 89.5 L312.44 88.74 L314.17 88.01 L315.89 87.32 L317.62 86.64 L319.35 85.98 L321.07 85.31 L322.8 84.64 L324.52 83.97 L326.25 83.29 L327.98 82.61 L329.7 81.94 L331.43 81.27 L333.15 80.62 L334.88 79.98 L336.61 79.35 L338.33 78.75 L340.06 78.16 L341.78 77.61 L343.51 77.08 L345.24 76.58 L346.96 76.12 L348.69 75.69 L350.41 75.29 L352.14 74.9 L353.87 74.52 L355.59 74.15 L357.32 73.79 L359.04 73.44 L360.77 73.11 L362.5 72.79 L364.22 72.49 L365.95 72.2 L367.67 71.93 L369.4 71.68 L371.13 71.44 L372.85 71.23 L374.58 71.04 L376.3 70.87 L378.03 70.7 L379.76 70.53 L381.48 70.36 L383.21 70.19 L384.93 70.02 L386.66 69.86 L388.39 69.7 L390.11 69.54 L391.84 69.39 L393.56 69.24 L395.29 69.1 L397.02 68.97 L398.74 68.84 L400.47 68.72 L402.19 68.59 L403.92 68.46 L405.65 68.34 L407.37 68.21 L409.1 68.09 L410.82 67.97 L412.55 67.86 L414.28 67.75 L416 67.64 L417.73 67.53 L419.45 67.44 L421.18 67.34 L422.91 67.25 L424.63 67.17 L426.36 67.1 L428.08 67.03 L429.81 66.97 L431.54 66.9 L433.26 66.84 L434.99 66.78 L436.71 66.71 L438.44 66.65 L440.17 66.58 L441.89 66.51 L443.62 66.45 L445.34 66.38 L447.07 66.3 L448.8 66.23 L450.52 66.15 L452.25 66.08 L453.97 66 L455.7 65.91" stroke="#355fdb"/>
<path d="M110.5 283.83 L112.23 283.83 L113.95 283.83 L115.68 283.83 L117.4 283.83 L119.13 283.83 L120.86 283.83 L122.58 283.83 L124.31 283.54 L126.03 282.49 L127.76 280.82 L129.49 278.91 L131.21 276.41 L132.94 273.5 L134.66 270.37 L136.39 266.95 L138.12 263.35 L139.84 259.53 L141.57 255.4 L143.29 250.91 L145.02 246.24 L146.75 241.41 L148.47 236.47 L150.2 231.47 L151.92 226.34 L153.65 221.06 L155.38 215.77 L157.1 210.63 L158.83 205.78 L160.55 201.26 L162.28 196.96 L164.01 192.78 L165.73 188.62 L167.46 184.39 L169.18 179.96 L170.91 175.3 L172.64 170.54 L174.36 165.82 L176.09 161.28 L177.81 157.07 L179.54 153.29 L181.27 149.8 L182.99 146.57 L184.72 143.64 L186.44 141.04 L188.17 138.72 L189.9 136.5 L191.62 134.22 L193.35 131.79 L195.07 129.34 L196.8 127 L198.53 124.87 L200.25 122.84 L201.98 120.9 L203.7 119.1 L205.43 117.46 L207.16 115.98 L208.88 114.6 L210.61 113.32 L212.33 112.11 L214.06 110.95 L215.79 109.84 L217.51 108.76 L219.24 107.73 L220.96 106.75 L222.69 105.86 L224.42 105.11 L226.14 104.49 L227.87 103.98 L229.59 103.58 L231.32 103.29 L233.05 103.11 L234.77 103.05 L236.5 103.09 L238.22 103.19 L239.95 103.34 L241.68 103.54 L243.4 103.77 L245.13 104.01 L246.85 104.22 L248.58 104.38 L250.31 104.44 L252.03 104.4 L253.76 104.3 L255.48 104.21 L257.21 104.14 L258.94 104.06 L260.66 103.99 L262.39 103.92 L264.11 103.84 L265.84 103.74 L267.57 103.65 L269.29 103.54 L271.02 103.43 L272.74 103.31 L274.47 103.17 L276.2 103.01 L277.92 102.83 L279.65 102.61 L281.37 102.35 L283.1 102.03 L284.83 101.55 L286.55 100.91 L288.28 100.14 L290 99.26 L291.73 98.3 L293.46 97.29 L295.18 96.25 L296.91 95.21 L298.63 94.2 L300.36 93.23 L302.09 92.34 L303.81 91.52 L305.54 90.71 L307.26 89.9 L308.99 89.12 L310.72 88.35 L312.44 87.61 L314.17 86.89 L315.89 86.21 L317.62 85.55 L319.35 84.89 L321.07 84.23 L322.8 83.56 L324.52 82.88 L326.25 82.21 L327.98 81.53 L329.7 80.86 L331.43 80.2 L333.15 79.54 L334.88 78.9 L336.61 78.28 L338.33 77.67 L340.06 77.08 L341.78 76.52 L343.51 75.98 L345.24 75.48 L346.96 75.01 L348.69 74.57 L350.41 74.16 L352.14 73.75 L353.87 73.36 L355.59 72.97 L357.32 72.6 L359.04 72.23 L360.77 71.88 L362.5 71.55 L364.22 71.23 L365.95 70.93 L367.67 70.64 L369.4 70.38 L371.13 70.14 L372.85 69.92 L374.58 69.74 L376.3 69.56 L378.03 69.39 L379.76 69.22 L381.48 69.05 L383.21 68.88 L384.93 68.72 L386.66 68.56 L388.39 68.4 L390.11 68.25 L391.84 68.1 L393.56 67.96 L395.29 67.82 L397.02 67.7 L398.74 67.57 L400.47 67.45 L402.19 67.32 L403.92 67.2 L405.65 67.08 L407.37 66.96 L409.1 66.84 L410.82 66.73 L412.55 66.62 L414.28 66.51 L416 66.41 L417.73 66.31 L419.45 66.21 L421.18 66.12 L422.91 66.03 L424.63 65.95 L426.36 65.88 L428.08 65.81 L429.81 65.74 L431.54 65.68 L433.26 65.61 L434.99 65.55 L436.71 65.48 L438.44 65.41 L440.17 65.34 L441.89 65.27 L443.62 65.2 L445.34 65.13 L447.07 65.06 L448.8 64.98 L450.52 64.9 L452.25 64.82 L453.97 64.74 L455.7 64.65" stroke="#3a68e2"/>
<path d="M110.5 283.83 L112.23 283.83 L113.95 283.83 L115.68 283.83 L117.4 283.83 L119.13 283.83 L120.86 283.83 L122.58 283.83 L124.31 283.54 L126.03 282.49 L127.76 280.82 L129.49 278.91 L131.21 276.41 L132.94 273.49 L134.66 270.37 L136.39 266.95 L138.12 263.35 L139.84 259.53 L141.57 255.4 L143.29 250.91 L145.02 246.24 L146.75 241.41 L148.47 236.46 L150.2 231.47 L151.92 226.34 L153.65 221.06 L155.38 215.77 L157.1 210.63 L158.83 205.78 L160.55 201.26 L162.28 196.96 L164.01 192.78 L165.73 188.62 L167.46 184.38 L169.18 179.96 L170.91 175.3 L172.64 170.54 L174.36 165.82 L176.09 161.27 L177.81 157.06 L179.54 153.27 L181.27 149.77 L182.99 146.54 L184.72 143.59 L186.44 140.99 L188.17 138.66 L189.9 136.44 L191.62 134.15 L193.35 131.72 L195.07 129.26 L196.8 126.92 L198.53 124.78 L200.25 122.74 L201.98 120.8 L203.7 119 L205.43 117.36 L207.16 115.87 L208.88 114.49 L210.61 113.2 L212.33 111.99 L214.06 110.83 L215.79 109.71 L217.51 108.63 L219.24 107.59 L220.96 106.6 L222.69 105.7 L224.42 104.93 L226.14 104.27 L227.87 103.7 L229.59 103.23 L231.32 102.87 L233.05 102.61 L234.77 102.45 L236.5 102.39 L238.22 102.38 L239.95 102.43 L241.68 102.52 L243.4 102.64 L245.13 102.79 L246.85 102.92 L248.58 103 L250.31 103 L252.03 102.92 L253.76 102.8 L255.48 102.69 L257.21 102.59 L258.94 102.49 L260.66 102.4 L262.39 102.3 L264.11 102.2 L265.84 102.09 L267.57 101.98 L269.29 101.86 L271.02 101.73 L272.74 101.59 L274.47 101.43 L276.2 101.25 L277.92 101.05 L279.65 100.82 L281.37 100.56 L283.1 100.23 L284.83 99.76 L286.55 99.16 L288.28 98.44 L290 97.62 L291.73 96.74 L293.46 95.8 L295.18 94.84 L296.91 93.88 L298.63 92.93 L300.36 92.01 L302.09 91.16 L303.81 90.37 L305.54 89.58 L307.26 88.8 L308.99 88.03 L310.72 87.28 L312.44 86.56 L314.17 85.86 L315.89 85.18 L317.62 84.53 L319.35 83.88 L321.07 83.22 L322.8 82.55 L324.52 81.88 L326.25 81.21 L327.98 80.54 L329.7 79.87 L331.43 79.2 L333.15 78.55 L334.88 77.91 L336.61 77.28 L338.33 76.67 L340.06 76.08 L341.78 75.51 L343.51 74.97 L345.24 74.46 L346.96 73.98 L348.69 73.53 L350.41 73.11 L352.14 72.69 L353.87 72.28 L355.59 71.88 L357.32 71.49 L359.04 71.11 L360.77 70.75 L362.5 70.4 L364.22 70.06 L365.95 69.75 L367.67 69.45 L369.4 69.18 L371.13 68.93 L372.85 68.71 L374.58 68.52 L376.3 68.35 L378.03 68.18 L379.76 68.01 L381.48 67.84 L383.21 67.68 L384.93 67.51 L386.66 67.36 L388.39 67.2 L390.11 67.05 L391.84 66.91 L393.56 66.77 L395.29 66.64 L397.02 66.51 L398.74 66.39 L400.47 66.27 L402.19 66.15 L403.92 66.03 L405.65 65.91 L407.37 65.8 L409.1 65.69 L410.82 65.58 L412.55 65.47 L414.28 65.36 L416 65.26 L417.73 65.17 L419.45 65.07 L421.18 64.98 L422.91 64.9 L424.63 64.82 L426.36 64.74 L428.08 64.67 L429.81 64.61 L431.54 64.54 L433.26 64.47 L434.99 64.4 L436.71 64.34 L438.44 64.27 L440.17 64.2 L441.89 64.12 L443.62 64.05 L445.34 63.98 L447.07 63.9 L448.8 63.82 L450.52 63.74 L452.25 63.66 L453.97 63.57 L455.7 63.48" stroke="#3f70e9"/>
<path d="M110.5 283.83 L112.23 283.83 L113.95 283.83 L115.68 283.83 L117.4 283.83 L119.13 283.83 L120.86 283.83 L122.58 283.83 L124.31 283.54 L126.03 282.49 L127.76 280.82 L129.49 278.91 L131.21 276.41 L132.94 273.49 L134.66 270.37 L136.39 266.95 L138.12 263.35 L139.84 259.52 L141.57 255.4 L143.29 250.91 L145.02 246.23 L146.75 241.41 L148.47 236.46 L150.2 231.47 L151.92 226.33 L153.65 221.05 L155.38 215.77 L157.1 210.63 L158.83 205.78 L160.55 201.26 L162.28 196.96 L164.01 192.78 L165.73 188.62 L167.46 184.38 L169.18 179.96 L170.91 175.3 L172.64 170.54 L174.36 165.81 L176.09 161.27 L177.81 157.05 L179.54 153.25 L181.27 149.75 L182.99 146.51 L184.72 143.56 L186.44 140.95 L188.17 138.62 L189.9 136.4 L191.62 134.1 L193.35 131.66 L195.07 129.21 L196.8 126.86 L198.53 124.72 L200.25 122.68 L201.98 120.74 L203.7 118.93 L205.43 117.28 L207.16 115.79 L208.88 114.41 L210.61 113.12 L212.33 111.9 L214.06 110.74 L215.79 109.62 L217.51 108.53 L219.24 107.49 L220.96 106.5 L222.69 105.59 L224.42 104.79 L226.14 104.09 L227.87 103.47 L229.59 102.94 L231.32 102.5 L233.05 102.16 L234.77 101.91 L236.5 101.76 L238.22 101.65 L239.95 101.59 L241.68 101.58 L243.4 101.61 L245.13 101.66 L246.85 101.7 L248.58 101.71 L250.31 101.67 L252.03 101.55 L253.76 101.41 L255.48 101.27 L257.21 101.15 L258.94 101.03 L260.66 100.91 L262.39 100.8 L264.11 100.68 L265.84 100.55 L267.57 100.42 L269.29 100.28 L271.02 100.14 L272.74 99.98 L274.47 99.81 L276.2 99.62 L277.92 99.4 L279.65 99.16 L281.37 98.88 L283.1 98.55 L284.83 98.1 L286.55 97.53 L288.28 96.86 L290 96.1 L291.73 95.28 L293.46 94.42 L295.18 93.53 L296.91 92.63 L298.63 91.74 L300.36 90.88 L302.09 90.06 L303.81 89.29 L305.54 88.52 L307.26 87.77 L308.99 87.02 L310.72 86.29 L312.44 85.58 L314.17 84.89 L315.89 84.23 L317.62 83.58 L319.35 82.93 L321.07 82.28 L322.8 81.62 L324.52 80.95 L326.25 80.28 L327.98 79.61 L329.7 78.94 L331.43 78.27 L333.15 77.62 L334.88 76.98 L336.61 76.35 L338.33 75.73 L340.06 75.14 L341.78 74.57 L343.51 74.02 L345.24 73.5 L346.96 73.02 L348.69 72.56 L350.41 72.13 L352.14 71.7 L353.87 71.28 L355.59 70.86 L357.32 70.46 L359.04 70.07 L360.77 69.69 L362.5 69.32 L364.22 68.98 L365.95 68.65 L367.67 68.34 L369.4 68.06 L371.13 67.81 L372.85 67.58 L374.58 67.39 L376.3 67.22 L378.03 67.05 L379.76 66.88 L381.48 66.71 L383.21 66.55 L384.93 66.39 L386.66 66.23 L388.39 66.08 L390.11 65.94 L391.84 65.8 L393.56 65.66 L395.29 65.53 L397.02 65.41 L398.74 65.29 L400.47 65.17 L402.19 65.05 L403.92 64.94 L405.65 64.82 L407.37 64.71 L409.1 64.61 L410.82 64.5 L412.55 64.4 L414.28 64.3 L416 64.2 L417.73 64.11 L419.45 64.01 L421.18 63.93 L422.91 63.84 L424.63 63.76 L426.36 63.69 L428.08 63.62 L429.81 63.55 L431.54 63.48 L433.26 63.41 L434.99 63.34 L436.71 63.27 L438.44 63.2 L440.17 63.13 L441.89 63.05 L443.62 62.98 L445.34 62.9 L447.07 62.82 L448.8 62.74 L450.52 62.66 L452.25 62.57 L453.97 62.48 L455.7 62.39" stroke="#4577ed"/>
<path d="M110.5 283.83 L112.23 283.83 L113.95 283.83 L115.68 283.83 L117.4 283.83 L119.13 283.83 L120.86 283.83 L122.58 283.83 L124.31 283.54 L126.03 282.49 L127.76 280.82 L129.49 278.91 L131.21 276.41 L132.94 273.49 L134.66 270.37 L136.39 266.95 L138.12 263.35 L139.84 259.52 L141.57 255.4 L143.29 250.91 L145.02 246.23 L146.75 241.41 L148.47 236.46 L150.2 231.47 L151.92 226.33 L153.65 221.05 L155.38 215.77 L157.1 210.63 L158.83 205.78 L160.55 201.26 L162.28 196.96 L164.01 192.78 L165.73 188.62 L167.46 184.38 L169.18 179.96 L170.91 175.3 L172.64 170.54 L174.36 165.81 L176.09 161.26 L177.81 157.04 L179.54 153.24 L181.27 149.74 L182.99 146.49 L184.72 143.54 L186.44 140.92 L188.17 138.59 L189.9 136.36 L191.62 134.07 L193.35 131.63 L195.07 129.17 L196.8 126.81 L198.53 124.67 L200.25 122.63 L201.98 120.69 L203.7 118.88 L205.43 117.23 L207.16 115.74 L208.88 114.36 L210.61 113.07 L212.33 111.85 L214.06 110.68 L215.79 109.55 L217.51 108.47 L219.24 107.42 L220.96 106.43 L222.69 105.51 L224.42 104.69 L226.14 103.95 L227.87 103.29 L229.59 102.7 L231.32 102.19 L233.05 101.76 L234.77 101.43 L236.5 101.18 L238.22 100.98 L239.95 100.82 L241.68 100.72 L243.4 100.65 L245.13 100.61 L246.85 100.57 L248.58 100.51 L250.31 100.41 L252.03 100.27 L253.76 100.1 L255.48 99.94 L257.21 99.8 L258.94 99.66 L260.66 99.52 L262.39 99.39 L264.11 99.25 L265.84 99.11 L267.57 98.96 L269.29 98.81 L271.02 98.65 L272.74 98.48 L274.47 98.29 L276.2 98.08 L277.92 97.85 L279.65 97.6 L281.37 97.31 L283.1 96.98 L284.83 96.54 L286.55 96 L288.28 95.37 L290 94.67 L291.73 93.92 L293.46 93.12 L295.18 92.29 L296.91 91.46 L298.63 90.63 L300.36 89.81 L302.09 89.03 L303.81 88.28 L305.54 87.54 L307.26 86.8 L308.99 86.07 L310.72 85.36 L312.44 84.66 L314.17 83.98 L315.89 83.33 L317.62 82.69 L319.35 82.05 L321.07 81.4 L322.8 80.74 L324.52 80.07 L326.25 79.4 L327.98 78.73 L329.7 78.07 L331.43 77.4 L333.15 76.75 L334.88 76.11 L336.61 75.47 L338.33 74.86 L340.06 74.26 L341.78 73.69 L343.51 73.14 L345.24 72.61 L346.96 72.12 L348.69 71.66 L350.41 71.21 L352.14 70.77 L353.87 70.34 L355.59 69.91 L357.32 69.49 L359.04 69.09 L360.77 68.69 L362.5 68.32 L364.22 67.96 L365.95 67.62 L367.67 67.31 L369.4 67.02 L371.13 66.76 L372.85 66.53 L374.58 66.33 L376.3 66.16 L378.03 65.98 L379.76 65.82 L381.48 65.65 L383.21 65.49 L384.93 65.34 L386.66 65.18 L388.39 65.04 L390.11 64.89 L391.84 64.76 L393.56 64.62 L395.29 64.5 L397.02 64.37 L398.74 64.26 L400.47 64.14 L402.19 64.03 L403.92 63.92 L405.65 63.81 L407.37 63.7 L409.1 63.59 L410.82 63.49 L412.55 63.39 L414.28 63.3 L416 63.2 L417.73 63.11 L419.45 63.02 L421.18 62.94 L422.91 62.86 L424.63 62.78 L426.36 62.7 L428.08 62.63 L429.81 62.56 L431.54 62.49 L433.26 62.41 L434.99 62.34 L436.71 62.27 L438.44 62.2 L440.17 62.12 L441.89 62.05 L443.62 61.97 L445.34 61.89 L447.07 61.81 L448.8 61.73 L450.52 61.64 L452.25 61.56 L453.97 61.47 L455.7 61.37" stroke="#4a7cf0"/>
<path d="M110.5 283.83 L112.23 283.83 L113.95 283.83 L115.68 283.83 L117.4 283.83 L119.13 283.83 L120.86 283.83 L122.58 283.83 L124.31 283.54 L126.03 282.49 L127.76 280.82 L129.49 278.91 L131.21 276.41 L132.94 273.49 L134.66 270.36 L136.39 266.95 L138.12 263.35 L139.84 259.52 L141.57 255.4 L143.29 250.91 L145.02 246.23 L146.75 241.41 L148.47 236.46 L150.2 231.47 L151.92 226.33 L153.65 221.05 L155.38 215.77 L157.1 210.63 L158.83 205.78 L160.55 201.26 L162.28 196.96 L164.01 192.78 L165.73 188.62 L167.46 184.38 L169.18 179.96 L170.91 175.3 L172.64 170.54 L174.36 165.81 L176.09 161.26 L177.81 157.03 L179.54 153.24 L181.27 149.73 L182.99 146.48 L184.72 143.53 L186.44 140.91 L188.17 138.57 L189.9 136.34 L191.62 134.04 L193.35 131.6 L195.07 129.14 L196.8 126.78 L198.53 124.64 L200.25 122.6 L201.98 120.66 L203.7 118.85 L205.43 117.2 L207.16 115.71 L208.88 114.32 L210.61 113.03 L212.33 111.81 L214.06 110.64 L215.79 109.51 L217.51 108.42 L219.24 107.38 L220.96 106.38 L222.69 105.45 L224.42 104.61 L226.14 103.84 L227.87 103.13 L229.59 102.48 L231.32 101.9 L233.05 101.4 L234.77 100.99 L236.5 100.65 L238.22 100.36 L239.95 100.11 L241.68 99.91 L243.4 99.75 L245.13 99.62 L246.85 99.51 L248.58 99.38 L250.31 99.24 L252.03 99.06 L253.76 98.87 L255.48 98.69 L257.21 98.53 L258.94 98.37 L260.66 98.22 L262.39 98.07 L264.11 97.91 L265.84 97.75 L267.57 97.59 L269.29 97.42 L271.02 97.25 L272.74 97.06 L274.47 96.86 L276.2 96.64 L277.92 96.4 L279.65 96.13 L281.37 95.83 L283.1 95.5 L284.83 95.08 L286.55 94.57 L288.28 93.98 L290 93.33 L291.73 92.64 L293.46 91.9 L295.18 91.14 L296.91 90.36 L298.63 89.58 L300.36 88.81 L302.09 88.06 L303.81 87.34 L305.54 86.61 L307.26 85.89 L308.99 85.18 L310.72 84.48 L312.44 83.8 L314.17 83.13 L315.89 82.49 L317.62 81.86 L319.35 81.22 L321.07 80.57 L322.8 79.91 L324.52 79.25 L326.25 78.58 L327.98 77.92 L329.7 77.25 L331.43 76.59 L333.15 75.93 L334.88 75.29 L336.61 74.65 L338.33 74.04 L340.06 73.44 L341.78 72.86 L343.51 72.3 L345.24 71.77 L346.96 71.27 L348.69 70.8 L350.41 70.35 L352.14 69.9 L353.87 69.46 L355.59 69.02 L357.32 68.58 L359.04 68.16 L360.77 67.76 L362.5 67.37 L364.22 67 L365.95 66.65 L367.67 66.33 L369.4 66.03 L371.13 65.77 L372.85 65.53 L374.58 65.33 L376.3 65.16 L378.03 64.99 L379.76 64.82 L381.48 64.66 L383.21 64.5 L384.93 64.35 L386.66 64.2 L388.39 64.05 L390.11 63.91 L391.84 63.78 L393.56 63.65 L395.29 63.52 L397.02 63.4 L398.74 63.29 L400.47 63.17 L402.19 63.06 L403.92 62.95 L405.65 62.85 L407.37 62.75 L409.1 62.64 L410.82 62.55 L412.55 62.45 L414.28 62.36 L416 62.27 L417.73 62.18 L419.45 62.09 L421.18 62.01 L422.91 61.93 L424.63 61.85 L426.36 61.77 L428.08 61.7 L429.81 61.62 L431.54 61.55 L433.26 61.48 L434.99 61.41 L436.71 61.33 L438.44 61.26 L440.17 61.18 L441.89 61.1 L443.62 61.03 L445.34 60.94 L447.07 60.86 L448.8 60.78 L450.52 60.69 L452.25 60.6 L453.97 60.51 L455.7 60.41" stroke="#4f81f3"/>
<path d="M110.5 283.83 L112.23 283.83 L113.95 283.83 L115.68 283.83 L117.4 283.83 L119.13 283.83 L120.86 283.83 L122.58 283.83 L124.31 283.54 L126.03 282.49 L127.76 280.82 L129.49 278.91 L131.21 276.41 L132.94 273.49 L134.66 270.36 L136.39 266.95 L138.12 263.35 L139.84 259.52 L141.57 255.4 L143.29 250.91 L145.02 246.23 L146.75 241.41 L148.47 236.46 L150.2 231.47 L151.92 226.33 L153.65 221.05 L155.38 215.77 L157.1 210.63 L158.83 205.78 L160.55 201.26 L162.28 196.96 L164.01 192.78 L165.73 188.62 L167.46 184.38 L169.18 179.96 L170.91 175.3 L172.64 170.53 L174.36 165.81 L176.09 161.26 L177.81 157.03 L179.54 153.23 L181.27 149.72 L182.99 146.47 L184.72 143.52 L186.44 140.89 L188.17 138.56 L189.9 136.33 L191.62 134.03 L193.35 131.58 L195.07 129.12 L196.8 126.76 L198.53 124.62 L200.25 122.58 L201.98 120.63 L203.7 118.82 L205.43 117.17 L207.16 115.68 L208.88 114.3 L210.61 113 L212.33 111.78 L214.06 110.61 L215.79 109.48 L217.51 108.39 L219.24 107.34 L220.96 106.34 L222.69 105.41 L224.42 104.55 L226.14 103.75 L227.87 102.99 L229.59 102.29 L231.32 101.65 L233.05 101.07 L234.77 100.58 L236.5 100.15 L238.22 99.78 L239.95 99.44 L241.68 99.15 L243.4 98.9 L245.13 98.69 L246.85 98.51 L248.58 98.32 L250.31 98.13 L252.03 97.92 L253.76 97.71 L255.48 97.52 L257.21 97.33 L258.94 97.16 L260.66 96.98 L262.39 96.82 L264.11 96.65 L265.84 96.47 L267.57 96.3 L269.29 96.12 L271.02 95.93 L272.74 95.72 L274.47 95.51 L276.2 95.28 L277.92 95.02 L279.65 94.75 L281.37 94.44 L283.1 94.1 L284.83 93.69 L286.55 93.21 L288.28 92.67 L290 92.07 L291.73 91.42 L293.46 90.75 L295.18 90.04 L296.91 89.32 L298.63 88.59 L300.36 87.87 L302.09 87.15 L303.81 86.44 L305.54 85.74 L307.26 85.03 L308.99 84.34 L310.72 83.65 L312.44 82.98 L314.17 82.33 L315.89 81.7 L317.62 81.07 L319.35 80.44 L321.07 79.79 L322.8 79.14 L324.52 78.47 L326.25 77.81 L327.98 77.14 L329.7 76.48 L331.43 75.82 L333.15 75.16 L334.88 74.52 L336.61 73.88 L338.33 73.26 L340.06 72.66 L341.78 72.08 L343.51 71.52 L345.24 70.98 L346.96 70.48 L348.69 70 L350.41 69.54 L352.14 69.08 L353.87 68.62 L355.59 68.17 L357.32 67.73 L359.04 67.3 L360.77 66.88 L362.5 66.48 L364.22 66.1 L365.95 65.74 L367.67 65.41 L369.4 65.1 L371.13 64.83 L372.85 64.59 L374.58 64.39 L376.3 64.22 L378.03 64.05 L379.76 63.88 L381.48 63.72 L383.21 63.56 L384.93 63.41 L386.66 63.27 L388.39 63.12 L390.11 62.99 L391.84 62.85 L393.56 62.73 L395.29 62.6 L397.02 62.49 L398.74 62.37 L400.47 62.26 L402.19 62.15 L403.92 62.05 L405.65 61.95 L407.37 61.85 L409.1 61.75 L410.82 61.65 L412.55 61.56 L414.28 61.47 L416 61.38 L417.73 61.29 L419.45 61.21 L421.18 61.13 L422.91 61.05 L424.63 60.97 L426.36 60.89 L428.08 60.82 L429.81 60.74 L431.54 60.67 L433.26 60.6 L434.99 60.52 L436.71 60.45 L438.44 60.37 L440.17 60.29 L441.89 60.21 L443.62 60.13 L445.34 60.05 L447.07 59.97 L448.8 59.88 L450.52 59.79 L452.25 59.7 L453.97 59.61 L455.7 59.51" stroke="#5486f6"/>
<path d="M110.5 283.83 L112.23 283.83 L113.95 283.83 L115.68 283.83 L117.4 283.83 L119.13 283.83 L120.86 283.83 L122.58 283.83 L124.31 283.54 L126.03 282.49 L127.76 280.82 L129.49 278.91 L131.21 276.41 L132.94 273.49 L134.66 270.36 L136.39 266.95 L138.12 263.35 L139.84 259.52 L141.57 255.4 L143.29 250.91 L145.02 246.23 L146.75 241.41 L148.47 236.46 L150.2 231.47 L151.92 226.33 L153.65 221.05 L155.38 215.77 L157.1 210.63 L158.83 205.78 L160.55 201.26 L162.28 196.96 L164.01 192.78 L165.73 188.62 L167.46 184.38 L169.18 179.96 L170.91 175.3 L172.64 170.53 L174.36 165.81 L176.09 161.26 L177.81 157.03 L179.54 153.23 L181.27 149.72 L182.99 146.47 L184.72 143.51 L186.44 140.88 L188.17 138.55 L189.9 136.32 L191.62 134.01 L193.35 131.57 L195.07 129.1 L196.8 126.75 L198.53 124.6 L200.25 122.56 L201.98 120.62 L203.7 118.8 L205.43 117.15 L207.16 115.66 L208.88 114.28 L210.61 112.98 L212.33 111.76 L214.06 110.59 L215.79 109.46 L217.51 108.37 L219.24 107.32 L220.96 106.32 L222.69 105.38 L224.42 104.5 L226.14 103.67 L227.87 102.87 L229.59 102.12 L231.32 101.41 L233.05 100.77 L234.77 100.2 L236.5 99.69 L238.22 99.23 L239.95 98.81 L241.68 98.43 L243.4 98.1 L245.13 97.82 L246.85 97.56 L248.58 97.31 L250.31 97.08 L252.03 96.84 L253.76 96.61 L255.48 96.4 L257.21 96.2 L258.94 96 L260.66 95.82 L262.39 95.63 L264.11 95.45 L265.84 95.26 L267.57 95.07 L269.29 94.88 L271.02 94.67 L272.74 94.46 L274.47 94.23 L276.2 93.99 L277.92 93.72 L279.65 93.44 L281.37 93.12 L283.1 92.78 L284.83 92.38 L286.55 91.93 L288.28 91.42 L290 90.87 L291.73 90.28 L293.46 89.66 L295.18 89.01 L296.91 88.34 L298.63 87.66 L300.36 86.97 L302.09 86.28 L303.81 85.6 L305.54 84.91 L307.26 84.22 L308.99 83.54 L310.72 82.87 L312.44 82.21 L314.17 81.57 L315.89 80.94 L317.62 80.32 L319.35 79.69 L321.07 79.05 L322.8 78.4 L324.52 77.74 L326.25 77.08 L327.98 76.41 L329.7 75.75 L331.43 75.09 L333.15 74.43 L334.88 73.78 L336.61 73.15 L338.33 72.53 L340.06 71.92 L341.78 71.34 L343.51 70.77 L345.24 70.23 L346.96 69.72 L348.69 69.24 L350.41 68.77 L352.14 68.3 L353.87 67.83 L355.59 67.37 L357.32 66.92 L359.04 66.47 L360.77 66.04 L362.5 65.63 L364.22 65.24 L365.95 64.87 L367.67 64.53 L369.4 64.22 L371.13 63.95 L372.85 63.71 L374.58 63.5 L376.3 63.33 L378.03 63.16 L379.76 62.99 L381.48 62.83 L383.21 62.68 L384.93 62.53 L386.66 62.38 L388.39 62.24 L390.11 62.11 L391.84 61.98 L393.56 61.86 L395.29 61.73 L397.02 61.62 L398.74 61.51 L400.47 61.4 L402.19 61.29 L403.92 61.19 L405.65 61.09 L407.37 60.99 L409.1 60.9 L410.82 60.81 L412.55 60.72 L414.28 60.63 L416 60.54 L417.73 60.46 L419.45 60.38 L421.18 60.3 L422.91 60.22 L424.63 60.14 L426.36 60.06 L428.08 59.99 L429.81 59.91 L431.54 59.84 L433.26 59.76 L434.99 59.68 L436.71 59.61 L438.44 59.53 L440.17 59.45 L441.89 59.37 L443.62 59.29 L445.34 59.2 L447.07 59.12 L448.8 59.03 L450.52 58.94 L452.25 58.85 L453.97 58.75 L455.7 58.65" stroke="#5a8cf9"/>
<path d="M110.5 283.83 L112.23 283.83 L113.95 283.83 L115.68 283.83 L117.4 283.83 L119.13 283.83 L120.86 283.83 L122.58 283.83 L124.31 283.54 L126.03 282.49 L127.76 280.82 L129.49 278.91 L131.21 276.41 L132.94 273.49 L134.66 270.36 L136.39 266.95 L138.12 263.35 L139.84 259.52 L141.57 255.4 L143.29 250.91 L145.02 246.23 L146.75 241.41 L148.47 236.46 L150.2 231.46 L151.92 226.33 L153.65 221.05 L155.38 215.77 L157.1 210.63 L158.83 205.78 L160.55 201.26 L162.28 196.96 L164.01 192.78 L165.73 188.62 L167.46 184.38 L169.18 179.96 L170.91 175.3 L172.64 170.53 L174.36 165.81 L176.09 161.26 L177.81 157.03 L179.54 153.23 L181.27 149.71 L182.99 146.46 L184.72 143.5 L186.44 140.88 L188.17 138.54 L189.9 136.31 L191.62 134.01 L193.35 131.56 L195.07 129.09 L196.8 126.74 L198.53 124.59 L200.25 122.55 L201.98 120.6 L203.7 118.79 L205.43 117.14 L207.16 115.65 L208.88 114.26 L210.61 112.97 L212.33 111.74 L214.06 110.57 L215.79 109.44 L217.51 108.35 L219.24 107.3 L220.96 106.3 L222.69 105.35 L224.42 104.46 L226.14 103.6 L227.87 102.76 L229.59 101.96 L231.32 101.19 L233.05 100.49 L234.77 99.84 L236.5 99.26 L238.22 98.72 L239.95 98.21 L241.68 97.76 L243.4 97.34 L245.13 96.99 L246.85 96.66 L248.58 96.36 L250.31 96.08 L252.03 95.82 L253.76 95.57 L255.48 95.34 L257.21 95.12 L258.94 94.91 L260.66 94.71 L262.39 94.51 L264.11 94.31 L265.84 94.11 L267.57 93.91 L269.29 93.7 L271.02 93.49 L272.74 93.26 L274.47 93.02 L276.2 92.76 L277.92 92.49 L279.65 92.19 L281.37 91.87 L283.1 91.53 L284.83 91.14 L286.55 90.71 L288.28 90.24 L290 89.73 L291.73 89.19 L293.46 88.62 L295.18 88.03 L296.91 87.41 L298.63 86.77 L300.36 86.12 L302.09 85.46 L303.81 84.79 L305.54 84.12 L307.26 83.45 L308.99 82.79 L310.72 82.13 L312.44 81.48 L314.17 80.84 L315.89 80.23 L317.62 79.62 L319.35 78.99 L321.07 78.35 L322.8 77.7 L324.52 77.04 L326.25 76.38 L327.98 75.72 L329.7 75.05 L331.43 74.39 L333.15 73.74 L334.88 73.09 L336.61 72.45 L338.33 71.83 L340.06 71.22 L341.78 70.64 L343.51 70.07 L345.24 69.52 L346.96 69.01 L348.69 68.52 L350.41 68.04 L352.14 67.56 L353.87 67.08 L355.59 66.61 L357.32 66.15 L359.04 65.69 L360.77 65.25 L362.5 64.83 L364.22 64.43 L365.95 64.05 L367.67 63.71 L369.4 63.39 L371.13 63.11 L372.85 62.86 L374.58 62.66 L376.3 62.48 L378.03 62.31 L379.76 62.15 L381.48 61.99 L383.21 61.84 L384.93 61.69 L386.66 61.55 L388.39 61.41 L390.11 61.28 L391.84 61.15 L393.56 61.03 L395.29 60.91 L397.02 60.8 L398.74 60.68 L400.47 60.58 L402.19 60.47 L403.92 60.37 L405.65 60.28 L407.37 60.18 L409.1 60.09 L410.82 60 L412.55 59.92 L414.28 59.83 L416 59.75 L417.73 59.67 L419.45 59.59 L421.18 59.51 L422.91 59.43 L424.63 59.35 L426.36 59.28 L428.08 59.2 L429.81 59.12 L431.54 59.05 L433.26 58.97 L434.99 58.89 L436.71 58.81 L438.44 58.73 L440.17 58.65 L441.89 58.57 L443.62 58.49 L445.34 58.4 L447.07 58.31 L448.8 58.22 L450.52 58.13 L452.25 58.04 L453.97 57.94 L455.7 57.84" stroke="#5f91fc"/>
</g>
<g clip-path="url(#clipb)" fill="none" stroke-width="2.0" stroke-linejoin="round" shape-rendering="crispEdges">
<path d="M573.1 283.39 L574.83 283.39 L576.56 283.39 L578.29 283.39 L580.02 283.39 L581.75 283.39 L583.47 283.39 L585.2 283.39 L586.93 283.39 L588.66 283.39 L590.39 283.39 L592.12 283.39 L593.85 283.39 L595.58 283.39 L597.31 283.39 L599.03 283.39 L600.76 283.39 L602.49 283.39 L604.22 283.39 L605.95 283.39 L607.68 283.39 L609.41 283.39 L611.14 283.18 L612.87 282.61 L614.6 281.78 L616.33 280.79 L618.05 279.71 L619.78 278.54 L621.51 277.02 L623.24 274.93 L624.97 272.05 L626.7 264.26 L628.43 255.19 L630.16 249.93 L631.89 245.66 L633.62 241.82 L635.34 237.84 L637.07 233.69 L638.8 229.74 L640.53 225.58 L642.26 220.83 L643.99 214.38 L645.72 206.26 L647.45 199.58 L649.18 195.96 L650.91 192.94 L652.63 190.32 L654.36 188.03 L656.09 186.03 L657.82 184.26 L659.55 182.66 L661.28 181.18 L663.01 179.77 L664.74 178.43 L666.47 177.19 L668.2 176.03 L669.92 174.96 L671.65 173.95 L673.38 173.01 L675.11 172.12 L676.84 171.28 L678.57 170.47 L680.3 169.76 L682.03 169.2 L683.76 168.71 L685.49 168.22 L687.21 167.67 L688.94 166.99 L690.67 166.1 L692.4 164.59 L694.13 161.43 L695.86 157.48 L697.59 153.79 L699.32 151.41 L701.05 149.85 L702.78 148.45 L704.5 147.37 L706.23 146.75 L707.96 146.74 L709.69 147.26 L711.42 148.22 L713.15 149.53 L714.88 151.11 L716.61 152.86 L718.34 154.7 L720.07 156.55 L721.79 158.8 L723.52 161.53 L725.25 164.58 L726.98 167.8 L728.71 171.04 L730.44 174.48 L732.17 178.82 L733.9 183.28 L735.63 187 L737.36 189.09 L739.08 189.22 L740.81 188.9 L742.54 188.35 L744.27 187.62 L746 186.74 L747.73 185.78 L749.46 184.76 L751.19 183.75 L752.92 182.78 L754.65 181.9 L756.37 181.16 L758.1 180.57 L759.83 180.08 L761.56 179.63 L763.29 179.2 L765.02 178.76 L766.75 178.27 L768.48 177.7 L770.21 177.02 L771.94 176.09 L773.66 174.87 L775.39 173.41 L777.12 171.78 L778.85 170.04 L780.58 168.24 L782.31 166.46 L784.04 164.75 L785.77 163.18 L787.5 161.81 L789.23 160.55 L790.95 159.24 L792.68 157.93 L794.41 156.7 L796.14 155.58 L797.87 154.65 L799.6 153.96 L801.33 153.56 L803.06 153.33 L804.79 153.15 L806.52 153.01 L808.24 152.9 L809.97 152.8 L811.7 152.69 L813.43 152.57 L815.16 152.42 L816.89 152.23 L818.62 151.97 L820.35 151.61 L822.08 151.16 L823.81 150.64 L825.53 150.04 L827.26 149.38 L828.99 148.67 L830.72 147.92 L832.45 147.13 L834.18 146.31 L835.91 145.48 L837.64 144.64 L839.37 143.8 L841.1 142.96 L842.82 142.15 L844.55 141.36 L846.28 140.61 L848.01 139.9 L849.74 139.25 L851.47 138.65 L853.2 138.06 L854.93 137.49 L856.66 136.93 L858.39 136.37 L860.11 135.82 L861.84 135.28 L863.57 134.74 L865.3 134.22 L867.03 133.7 L868.76 133.18 L870.49 132.68 L872.22 132.18 L873.95 131.68 L875.68 131.2 L877.4 130.72 L879.13 130.24 L880.86 129.77 L882.59 129.3 L884.32 128.84 L886.05 128.39 L887.78 127.94 L889.51 127.5 L891.24 127.07 L892.97 126.65 L894.69 126.23 L896.42 125.82 L898.15 125.41 L899.88 125.01 L901.61 124.61 L903.34 124.21 L905.07 123.81 L906.8 123.42 L908.53 123.02 L910.26 122.62 L911.98 122.23 L913.71 121.83 L915.44 121.42 L917.17 121.02 L918.9 120.61" stroke="#084e0c"/>
<path d="M573.1 282.59 L574.83 282.59 L576.56 282.59 L578.29 282.59 L580.02 282.59 L581.75 282.59 L583.47 282.59 L585.2 282.59 L586.93 282.59 L588.66 282.59 L590.39 282.59 L592.12 282.59 L593.85 282.59 L595.58 282.53 L597.31 282.42 L599.03 282.25 L600.76 282.02 L602.49 281.72 L604.22 281.37 L605.95 280.96 L607.68 280.49 L609.41 279.82 L611.14 278.58 L612.87 276.97 L614.6 275.35 L616.33 273.8 L618.05 272.25 L619.78 270.66 L621.51 268.8 L623.24 266.46 L624.97 263.5 L626.7 256.65 L628.43 248.76 L630.16 243.85 L631.89 239.63 L633.62 235.53 L635.34 231.12 L637.07 226.58 L638.8 222.2 L640.53 217.65 L642.26 212.81 L643.99 206.88 L645.72 199.72 L647.45 193.8 L649.18 190.37 L650.91 187.46 L652.63 184.85 L654.36 182.52 L656.09 180.43 L657.82 178.53 L659.55 176.78 L661.28 175.14 L663.01 173.57 L664.74 172.08 L666.47 170.68 L668.2 169.38 L669.92 168.17 L671.65 167.05 L673.38 166 L675.11 165.02 L676.84 164.09 L678.57 163.2 L680.3 162.4 L682.03 161.73 L683.76 161.13 L685.49 160.53 L687.21 159.9 L688.94 159.16 L690.67 158.25 L692.4 156.85 L694.13 154.12 L695.86 150.8 L697.59 147.72 L699.32 145.72 L701.05 144.4 L702.78 143.24 L704.5 142.34 L706.23 141.86 L707.96 141.89 L709.69 142.39 L711.42 143.28 L713.15 144.48 L714.88 145.91 L716.61 147.46 L718.34 149.05 L720.07 150.6 L721.79 152.45 L723.52 154.73 L725.25 157.29 L726.98 159.99 L728.71 162.72 L730.44 165.62 L732.17 169.31 L733.9 173.12 L735.63 176.28 L737.36 178.04 L739.08 178.09 L740.81 177.76 L742.54 177.23 L744.27 176.53 L746 175.72 L747.73 174.83 L749.46 173.89 L751.19 172.96 L752.92 172.07 L754.65 171.27 L756.37 170.49 L758.1 169.66 L759.83 168.75 L761.56 167.74 L763.29 166.64 L765.02 165.44 L766.75 164.14 L768.48 162.74 L770.21 161.27 L771.94 159.66 L773.66 157.89 L775.39 156.04 L777.12 154.17 L778.85 152.35 L780.58 150.64 L782.31 149.06 L784.04 147.68 L785.77 146.51 L787.5 145.59 L789.23 144.85 L790.95 144.1 L792.68 143.29 L794.41 142.47 L796.14 141.68 L797.87 141.02 L799.6 140.51 L801.33 140.21 L803.06 140.02 L804.79 139.85 L806.52 139.71 L808.24 139.58 L809.97 139.46 L811.7 139.33 L813.43 139.18 L815.16 139.01 L816.89 138.81 L818.62 138.56 L820.35 138.24 L822.08 137.84 L823.81 137.36 L825.53 136.81 L827.26 136.2 L828.99 135.53 L830.72 134.82 L832.45 134.07 L834.18 133.3 L835.91 132.5 L837.64 131.7 L839.37 130.89 L841.1 130.08 L842.82 129.29 L844.55 128.52 L846.28 127.78 L848.01 127.07 L849.74 126.42 L851.47 125.81 L853.2 125.23 L854.93 124.67 L856.66 124.14 L858.39 123.61 L860.11 123.09 L861.84 122.58 L863.57 122.08 L865.3 121.58 L867.03 121.1 L868.76 120.62 L870.49 120.14 L872.22 119.68 L873.95 119.21 L875.68 118.76 L877.4 118.31 L879.13 117.87 L880.86 117.43 L882.59 117 L884.32 116.57 L886.05 116.15 L887.78 115.73 L889.51 115.32 L891.24 114.92 L892.97 114.52 L894.69 114.12 L896.42 113.73 L898.15 113.35 L899.88 112.96 L901.61 112.58 L903.34 112.2 L905.07 111.82 L906.8 111.44 L908.53 111.06 L910.26 110.68 L911.98 110.29 L913.71 109.91 L915.44 109.52 L917.17 109.12 L918.9 108.73" stroke="#0b5310"/>
<path d="M573.1 281.95 L574.83 281.95 L576.56 281.95 L578.29 281.95 L580.02 281.95 L581.75 281.95 L583.47 281.95 L585.2 281.95 L586.93 281.95 L588.66 281.95 L590.39 281.95 L592.12 281.95 L593.85 281.95 L595.58 281.84 L597.31 281.64 L599.03 281.33 L600.76 280.92 L602.49 280.39 L604.22 279.75 L605.95 279.01 L607.68 278.17 L609.41 276.96 L611.14 274.91 L612.87 272.45 L614.6 270.21 L616.33 268.2 L618.05 266.28 L619.78 264.35 L621.51 262.22 L623.24 259.68 L624.97 256.66 L626.7 250.57 L628.43 243.61 L630.16 238.99 L631.89 234.8 L633.62 230.5 L635.34 225.75 L637.07 220.89 L638.8 216.18 L640.53 211.31 L642.26 206.4 L643.99 200.88 L645.72 194.5 L647.45 189.18 L649.18 185.91 L650.91 183.07 L652.63 180.48 L654.36 178.12 L656.09 175.95 L657.82 173.95 L659.55 172.07 L661.28 170.31 L663.01 168.61 L664.74 166.99 L666.47 165.48 L668.2 164.06 L669.92 162.75 L671.65 161.53 L673.38 160.4 L675.11 159.34 L676.84 158.34 L678.57 157.38 L680.3 156.51 L682.03 155.76 L683.76 155.06 L685.49 154.38 L687.21 153.68 L688.94 152.89 L690.67 151.97 L692.4 150.65 L694.13 148.28 L695.86 145.45 L697.59 142.87 L699.32 141.17 L701.05 140.04 L702.78 139.06 L704.5 138.33 L706.23 137.94 L707.96 138.01 L709.69 138.49 L711.42 139.33 L713.15 140.44 L714.88 141.74 L716.61 143.14 L718.34 144.54 L720.07 145.84 L721.79 147.38 L723.52 149.29 L725.25 151.45 L726.98 153.75 L728.71 156.06 L730.44 158.54 L732.17 161.71 L733.9 164.99 L735.63 167.71 L737.36 169.19 L739.08 169.18 L740.81 168.84 L742.54 168.32 L744.27 167.67 L746 166.9 L747.73 166.07 L749.46 165.2 L751.19 164.34 L752.92 163.51 L754.65 162.76 L756.37 162.05 L758.1 161.34 L759.83 160.58 L761.56 159.77 L763.29 158.91 L765.02 157.97 L766.75 156.96 L768.48 155.88 L770.21 154.77 L771.94 153.55 L773.66 152.19 L775.39 150.77 L777.12 149.32 L778.85 147.9 L780.58 146.55 L782.31 145.31 L784.04 144.21 L785.77 143.28 L787.5 142.54 L789.23 141.93 L790.95 141.28 L792.68 140.56 L794.41 139.82 L796.14 139.09 L797.87 138.48 L799.6 138.01 L801.33 137.72 L803.06 137.54 L804.79 137.38 L806.52 137.23 L808.24 137.1 L809.97 136.97 L811.7 136.84 L813.43 136.69 L815.16 136.51 L816.89 136.31 L818.62 136.06 L820.35 135.75 L822.08 135.36 L823.81 134.89 L825.53 134.34 L827.26 133.74 L828.99 133.08 L830.72 132.38 L832.45 131.64 L834.18 130.87 L835.91 130.09 L837.64 129.29 L839.37 128.48 L841.1 127.68 L842.82 126.89 L844.55 126.12 L846.28 125.38 L848.01 124.68 L849.74 124.03 L851.47 123.42 L853.2 122.84 L854.93 122.29 L856.66 121.76 L858.39 121.23 L860.11 120.72 L861.84 120.22 L863.57 119.72 L865.3 119.23 L867.03 118.75 L868.76 118.27 L870.49 117.81 L872.22 117.35 L873.95 116.89 L875.68 116.44 L877.4 116 L879.13 115.56 L880.86 115.13 L882.59 114.7 L884.32 114.28 L886.05 113.87 L887.78 113.46 L889.51 113.05 L891.24 112.65 L892.97 112.26 L894.69 111.87 L896.42 111.48 L898.15 111.1 L899.88 110.72 L901.61 110.34 L903.34 109.96 L905.07 109.59 L906.8 109.21 L908.53 108.83 L910.26 108.45 L911.98 108.07 L913.71 107.69 L915.44 107.3 L917.17 106.91 L918.9 106.51" stroke="#0e5714"/>
<path d="M573.1 281.44 L574.83 281.44 L576.56 281.44 L578.29 281.44 L580.02 281.44 L581.75 281.44 L583.47 281.44 L585.2 281.44 L586.93 281.44 L588.66 281.44 L590.39 281.44 L592.12 281.44 L593.85 281.44 L595.58 281.29 L597.31 281.02 L599.03 280.6 L600.76 280.04 L602.49 279.32 L604.22 278.46 L605.95 277.46 L607.68 276.32 L609.41 274.68 L611.14 271.96 L612.87 268.83 L614.6 266.09 L616.33 263.73 L618.05 261.5 L619.78 259.31 L621.51 256.96 L623.24 254.26 L624.97 251.19 L626.7 245.7 L628.43 239.5 L630.16 235.1 L631.89 230.94 L633.62 226.48 L635.34 221.46 L637.07 216.33 L638.8 211.36 L640.53 206.24 L642.26 201.27 L643.99 196.08 L645.72 190.32 L647.45 185.49 L649.18 182.34 L650.91 179.56 L652.63 176.99 L654.36 174.6 L656.09 172.37 L657.82 170.28 L659.55 168.31 L661.28 166.44 L663.01 164.64 L664.74 162.93 L666.47 161.31 L668.2 159.81 L669.92 158.4 L671.65 157.11 L673.38 155.91 L675.11 154.79 L676.84 153.73 L678.57 152.73 L680.3 151.8 L682.03 150.98 L683.76 150.21 L685.49 149.46 L687.21 148.7 L688.94 147.87 L690.67 146.94 L692.4 145.7 L694.13 143.61 L695.86 141.18 L697.59 138.99 L699.32 137.55 L701.05 136.59 L702.78 135.78 L704.5 135.19 L706.23 134.91 L707.96 135.03 L709.69 135.52 L711.42 136.34 L713.15 137.42 L714.88 138.66 L716.61 139.97 L718.34 141.24 L720.07 142.36 L721.79 143.67 L723.52 145.31 L725.25 147.18 L726.98 149.18 L728.71 151.19 L730.44 153.36 L732.17 156.16 L733.9 159.05 L735.63 161.44 L737.36 162.73 L739.08 162.67 L740.81 162.32 L742.54 161.82 L744.27 161.19 L746 160.46 L747.73 159.67 L749.46 158.85 L751.19 158.03 L752.92 157.25 L754.65 156.55 L756.37 155.89 L758.1 155.24 L759.83 154.57 L761.56 153.87 L763.29 153.12 L765.02 152.33 L766.75 151.48 L768.48 150.58 L770.21 149.68 L771.94 148.69 L773.66 147.59 L775.39 146.44 L777.12 145.26 L778.85 144.11 L780.58 143.02 L782.31 142.01 L784.04 141.11 L785.77 140.36 L787.5 139.76 L789.23 139.26 L790.95 138.7 L792.68 138.07 L794.41 137.4 L796.14 136.73 L797.87 136.16 L799.6 135.73 L801.33 135.45 L803.06 135.27 L804.79 135.11 L806.52 134.97 L808.24 134.84 L809.97 134.7 L811.7 134.56 L813.43 134.41 L815.16 134.23 L816.89 134.03 L818.62 133.78 L820.35 133.48 L822.08 133.09 L823.81 132.63 L825.53 132.09 L827.26 131.5 L828.99 130.85 L830.72 130.15 L832.45 129.42 L834.18 128.66 L835.91 127.88 L837.64 127.08 L839.37 126.28 L841.1 125.49 L842.82 124.7 L844.55 123.94 L846.28 123.2 L848.01 122.5 L849.74 121.85 L851.47 121.24 L853.2 120.66 L854.93 120.11 L856.66 119.58 L858.39 119.06 L860.11 118.56 L861.84 118.06 L863.57 117.57 L865.3 117.08 L867.03 116.61 L868.76 116.14 L870.49 115.68 L872.22 115.22 L873.95 114.77 L875.68 114.33 L877.4 113.89 L879.13 113.46 L880.86 113.03 L882.59 112.61 L884.32 112.19 L886.05 111.78 L887.78 111.38 L889.51 110.98 L891.24 110.59 L892.97 110.2 L894.69 109.81 L896.42 109.43 L898.15 109.05 L899.88 108.67 L901.61 108.3 L903.34 107.92 L905.07 107.55 L906.8 107.17 L908.53 106.8 L910.26 106.42 L911.98 106.04 L913.71 105.66 L915.44 105.27 L917.17 104.89 L918.9 104.49" stroke="#115c18"/>
<path d="M573.1 281.03 L574.83 281.03 L576.56 281.03 L578.29 281.03 L580.02 281.03 L581.75 281.03 L583.47 281.03 L585.2 281.03 L586.93 281.03 L588.66 281.03 L590.39 281.03 L592.12 281.03 L593.85 281.03 L595.58 280.85 L597.31 280.52 L599.03 280.02 L600.76 279.33 L602.49 278.47 L604.22 277.42 L605.95 276.21 L607.68 274.83 L609.41 272.85 L611.14 269.61 L612.87 265.94 L614.6 262.8 L616.33 260.15 L618.05 257.68 L619.78 255.28 L621.51 252.75 L623.24 249.92 L624.97 246.82 L626.7 241.8 L628.43 236.21 L630.16 231.98 L631.89 227.85 L633.62 223.26 L635.34 218.02 L637.07 212.69 L638.8 207.5 L640.53 202.18 L642.26 197.16 L643.99 192.25 L645.72 186.98 L647.45 182.53 L649.18 179.48 L650.91 176.75 L652.63 174.19 L654.36 171.78 L656.09 169.5 L657.82 167.35 L659.55 165.3 L661.28 163.34 L663.01 161.47 L664.74 159.67 L666.47 157.98 L668.2 156.4 L669.92 154.93 L671.65 153.57 L673.38 152.33 L675.11 151.16 L676.84 150.05 L678.57 149.01 L680.3 148.03 L682.03 147.15 L683.76 146.33 L685.49 145.53 L687.21 144.72 L688.94 143.86 L690.67 142.92 L692.4 141.73 L694.13 139.87 L695.86 137.76 L697.59 135.89 L699.32 134.63 L701.05 133.8 L702.78 133.11 L704.5 132.61 L706.23 132.39 L707.96 132.54 L709.69 133.02 L711.42 133.8 L713.15 134.82 L714.88 135.98 L716.61 137.19 L718.34 138.33 L720.07 139.3 L721.79 140.4 L723.52 141.81 L725.25 143.42 L726.98 145.16 L728.71 146.91 L730.44 148.8 L732.17 151.26 L733.9 153.81 L735.63 155.92 L737.36 157.03 L739.08 156.93 L740.81 156.58 L742.54 156.09 L744.27 155.47 L746 154.78 L747.73 154.02 L749.46 153.25 L751.19 152.48 L752.92 151.74 L754.65 151.07 L756.37 150.45 L758.1 149.86 L759.83 149.26 L761.56 148.64 L763.29 148 L765.02 147.32 L766.75 146.61 L768.48 145.86 L770.21 145.13 L771.94 144.34 L773.66 143.46 L775.39 142.53 L777.12 141.59 L778.85 140.67 L780.58 139.79 L782.31 138.99 L784.04 138.27 L785.77 137.67 L787.5 137.2 L789.23 136.8 L790.95 136.33 L792.68 135.78 L794.41 135.17 L796.14 134.56 L797.87 134.03 L799.6 133.62 L801.33 133.37 L803.06 133.19 L804.79 133.03 L806.52 132.89 L808.24 132.75 L809.97 132.62 L811.7 132.47 L813.43 132.31 L815.16 132.14 L816.89 131.93 L818.62 131.69 L820.35 131.38 L822.08 131.01 L823.81 130.55 L825.53 130.02 L827.26 129.44 L828.99 128.79 L830.72 128.11 L832.45 127.38 L834.18 126.63 L835.91 125.85 L837.64 125.06 L839.37 124.26 L841.1 123.47 L842.82 122.69 L844.55 121.93 L846.28 121.2 L848.01 120.5 L849.74 119.84 L851.47 119.23 L853.2 118.65 L854.93 118.1 L856.66 117.58 L858.39 117.07 L860.11 116.57 L861.84 116.07 L863.57 115.58 L865.3 115.11 L867.03 114.63 L868.76 114.17 L870.49 113.71 L872.22 113.26 L873.95 112.82 L875.68 112.38 L877.4 111.95 L879.13 111.53 L880.86 111.1 L882.59 110.69 L884.32 110.28 L886.05 109.87 L887.78 109.47 L889.51 109.07 L891.24 108.68 L892.97 108.3 L894.69 107.92 L896.42 107.54 L898.15 107.16 L899.88 106.79 L901.61 106.41 L903.34 106.04 L905.07 105.67 L906.8 105.3 L908.53 104.93 L910.26 104.55 L911.98 104.17 L913.71 103.79 L915.44 103.41 L917.17 103.03 L918.9 102.63" stroke="#14601d"/>
<path d="M573.1 280.7 L574.83 280.7 L576.56 280.7 L578.29 280.7 L580.02 280.7 L581.75 280.7 L583.47 280.7 L585.2 280.7 L586.93 280.7 L588.66 280.7 L590.39 280.7 L592.12 280.7 L593.85 280.7 L595.58 280.5 L597.31 280.12 L599.03 279.55 L600.76 278.77 L602.49 277.78 L604.22 276.6 L605.95 275.22 L607.68 273.65 L609.41 271.39 L611.14 267.73 L612.87 263.63 L614.6 260.16 L616.33 257.29 L618.05 254.62 L619.78 252.05 L621.51 249.39 L623.24 246.45 L624.97 243.32 L626.7 238.68 L628.43 233.57 L630.16 229.49 L631.89 225.38 L633.62 220.69 L635.34 215.27 L637.07 209.78 L638.8 204.41 L640.53 198.93 L642.26 193.87 L643.99 189.17 L645.72 184.3 L647.45 180.16 L649.18 177.19 L650.91 174.5 L652.63 171.95 L654.36 169.52 L656.09 167.21 L657.82 165 L659.55 162.89 L661.28 160.87 L663.01 158.93 L664.74 157.07 L666.47 155.32 L668.2 153.68 L669.92 152.15 L671.65 150.75 L673.38 149.46 L675.11 148.25 L676.84 147.11 L678.57 146.03 L680.3 145.02 L682.03 144.1 L683.76 143.22 L685.49 142.38 L687.21 141.53 L688.94 140.65 L690.67 139.71 L692.4 138.56 L694.13 136.88 L695.86 135.02 L697.59 133.38 L699.32 132.27 L701.05 131.51 L702.78 130.88 L704.5 130.44 L706.23 130.24 L707.96 130.36 L709.69 130.79 L711.42 131.49 L713.15 132.41 L714.88 133.45 L716.61 134.52 L718.34 135.52 L720.07 136.32 L721.79 137.23 L723.52 138.41 L725.25 139.78 L726.98 141.25 L728.71 142.75 L730.44 144.37 L732.17 146.51 L733.9 148.73 L735.63 150.56 L737.36 151.5 L739.08 151.37 L740.81 151.01 L742.54 150.52 L744.27 149.93 L746 149.27 L747.73 148.55 L749.46 147.81 L751.19 147.08 L752.92 146.39 L754.65 145.75 L756.37 145.18 L758.1 144.64 L759.83 144.11 L761.56 143.59 L763.29 143.06 L765.02 142.51 L766.75 141.93 L768.48 141.34 L770.21 140.78 L771.94 140.19 L773.66 139.53 L775.39 138.84 L777.12 138.13 L778.85 137.44 L780.58 136.78 L782.31 136.17 L784.04 135.64 L785.77 135.19 L787.5 134.84 L789.23 134.53 L790.95 134.14 L792.68 133.66 L794.41 133.11 L796.14 132.54 L797.87 132.06 L799.6 131.68 L801.33 131.43 L803.06 131.26 L804.79 131.11 L806.52 130.96 L808.24 130.82 L809.97 130.68 L811.7 130.54 L813.43 130.37 L815.16 130.19 L816.89 129.99 L818.62 129.74 L820.35 129.45 L822.08 129.08 L823.81 128.63 L825.53 128.11 L827.26 127.53 L828.99 126.89 L830.72 126.21 L832.45 125.49 L834.18 124.74 L835.91 123.97 L837.64 123.19 L839.37 122.39 L841.1 121.61 L842.82 120.83 L844.55 120.07 L846.28 119.34 L848.01 118.64 L849.74 117.98 L851.47 117.37 L853.2 116.79 L854.93 116.25 L856.66 115.73 L858.39 115.22 L860.11 114.72 L861.84 114.23 L863.57 113.75 L865.3 113.28 L867.03 112.81 L868.76 112.35 L870.49 111.9 L872.22 111.45 L873.95 111.01 L875.68 110.58 L877.4 110.16 L879.13 109.73 L880.86 109.32 L882.59 108.91 L884.32 108.5 L886.05 108.1 L887.78 107.7 L889.51 107.31 L891.24 106.92 L892.97 106.54 L894.69 106.16 L896.42 105.79 L898.15 105.41 L899.88 105.04 L901.61 104.67 L903.34 104.3 L905.07 103.93 L906.8 103.56 L908.53 103.19 L910.26 102.82 L911.98 102.45 L913.71 102.07 L915.44 101.69 L917.17 101.3 L918.9 100.91" stroke="#176521"/>
<path d="M573.1 280.44 L574.83 280.44 L576.56 280.44 L578.29 280.44 L580.02 280.44 L581.75 280.44 L583.47 280.44 L585.2 280.44 L586.93 280.44 L588.66 280.44 L590.39 280.44 L592.12 280.44 L593.85 280.44 L595.58 280.22 L597.31 279.8 L599.03 279.18 L600.76 278.32 L602.49 277.24 L604.22 275.93 L605.95 274.42 L607.68 272.7 L609.41 270.22 L611.14 266.22 L612.87 261.77 L614.6 258.06 L616.33 255 L618.05 252.18 L619.78 249.47 L621.51 246.69 L623.24 243.68 L624.97 240.52 L626.7 236.19 L628.43 231.46 L630.16 227.5 L631.89 223.41 L633.62 218.63 L635.34 213.07 L637.07 207.45 L638.8 201.94 L640.53 196.33 L642.26 191.25 L643.99 186.72 L645.72 182.16 L647.45 178.27 L649.18 175.36 L650.91 172.71 L652.63 170.16 L654.36 167.72 L656.09 165.37 L657.82 163.12 L659.55 160.96 L661.28 158.89 L663.01 156.89 L664.74 154.99 L666.47 153.19 L668.2 151.5 L669.92 149.93 L671.65 148.48 L673.38 147.16 L675.11 145.92 L676.84 144.75 L678.57 143.65 L680.3 142.61 L682.03 141.65 L683.76 140.74 L685.49 139.86 L687.21 138.98 L688.94 138.08 L690.67 137.14 L692.4 136.03 L694.13 134.48 L695.86 132.83 L697.59 131.38 L699.32 130.37 L701.05 129.68 L702.78 129.11 L704.5 128.7 L706.23 128.51 L707.96 128.61 L709.69 129 L711.42 129.64 L713.15 130.48 L714.88 131.43 L716.61 132.39 L718.34 133.27 L720.07 133.94 L721.79 134.69 L723.52 135.69 L725.25 136.86 L726.98 138.13 L728.71 139.42 L730.44 140.83 L732.17 142.71 L733.9 144.67 L735.63 146.28 L737.36 147.08 L739.08 146.91 L740.81 146.55 L742.54 146.07 L744.27 145.5 L746 144.86 L747.73 144.17 L749.46 143.47 L751.19 142.77 L752.92 142.11 L754.65 141.5 L756.37 140.95 L758.1 140.45 L759.83 139.97 L761.56 139.5 L763.29 139.03 L765.02 138.55 L766.75 138.06 L768.48 137.56 L770.21 137.11 L771.94 136.66 L773.66 136.15 L775.39 135.62 L777.12 135.08 L778.85 134.55 L780.58 134.06 L782.31 133.6 L784.04 133.21 L785.77 132.88 L787.5 132.64 L789.23 132.41 L790.95 132.1 L792.68 131.69 L794.41 131.19 L796.14 130.67 L797.87 130.22 L799.6 129.86 L801.33 129.63 L803.06 129.47 L804.79 129.31 L806.52 129.17 L808.24 129.03 L809.97 128.88 L811.7 128.73 L813.43 128.57 L815.16 128.38 L816.89 128.18 L818.62 127.94 L820.35 127.65 L822.08 127.28 L823.81 126.84 L825.53 126.32 L827.26 125.75 L828.99 125.12 L830.72 124.44 L832.45 123.73 L834.18 122.99 L835.91 122.22 L837.64 121.44 L839.37 120.65 L841.1 119.87 L842.82 119.09 L844.55 118.34 L846.28 117.61 L848.01 116.91 L849.74 116.25 L851.47 115.64 L853.2 115.06 L854.93 114.52 L856.66 114 L858.39 113.5 L860.11 113.01 L861.84 112.52 L863.57 112.04 L865.3 111.57 L867.03 111.11 L868.76 110.66 L870.49 110.21 L872.22 109.77 L873.95 109.33 L875.68 108.91 L877.4 108.48 L879.13 108.07 L880.86 107.65 L882.59 107.25 L884.32 106.84 L886.05 106.45 L887.78 106.05 L889.51 105.67 L891.24 105.28 L892.97 104.9 L894.69 104.53 L896.42 104.16 L898.15 103.79 L899.88 103.42 L901.61 103.05 L903.34 102.68 L905.07 102.32 L906.8 101.95 L908.53 101.58 L910.26 101.21 L911.98 100.84 L913.71 100.46 L915.44 100.08 L917.17 99.7 L918.9 99.31" stroke="#1c6b26"/>
<path d="M573.1 280.23 L574.83 280.23 L576.56 280.23 L578.29 280.23 L580.02 280.23 L581.75 280.23 L583.47 280.23 L585.2 280.23 L586.93 280.23 L588.66 280.23 L590.39 280.23 L592.12 280.23 L593.85 280.23 L595.58 280 L597.31 279.54 L599.03 278.88 L600.76 277.96 L602.49 276.8 L604.22 275.4 L605.95 273.78 L607.68 271.94 L609.41 269.28 L611.14 265.01 L612.87 260.29 L614.6 256.37 L616.33 253.16 L618.05 250.22 L619.78 247.4 L621.51 244.54 L623.24 241.46 L624.97 238.28 L626.7 234.2 L628.43 229.78 L630.16 225.91 L631.89 221.83 L633.62 216.98 L635.34 211.31 L637.07 205.58 L638.8 199.97 L640.53 194.25 L642.26 189.14 L643.99 184.75 L645.72 180.45 L647.45 176.76 L649.18 173.9 L650.91 171.27 L652.63 168.73 L654.36 166.27 L656.09 163.9 L657.82 161.62 L659.55 159.42 L661.28 157.31 L663.01 155.27 L664.74 153.32 L666.47 151.48 L668.2 149.76 L669.92 148.15 L671.65 146.67 L673.38 145.32 L675.11 144.06 L676.84 142.87 L678.57 141.74 L680.3 140.68 L682.03 139.69 L683.76 138.75 L685.49 137.85 L687.21 136.94 L688.94 136.03 L690.67 135.08 L692.4 134 L694.13 132.57 L695.86 131.07 L697.59 129.76 L699.32 128.83 L701.05 128.16 L702.78 127.61 L704.5 127.21 L706.23 127.01 L707.96 127.07 L709.69 127.38 L711.42 127.93 L713.15 128.66 L714.88 129.49 L716.61 130.33 L718.34 131.07 L720.07 131.61 L721.79 132.2 L723.52 133.02 L725.25 134 L726.98 135.06 L728.71 136.15 L730.44 137.35 L732.17 138.98 L733.9 140.68 L735.63 142.07 L737.36 142.74 L739.08 142.55 L740.81 142.18 L742.54 141.71 L744.27 141.15 L746 140.53 L747.73 139.88 L749.46 139.2 L751.19 138.54 L752.92 137.91 L754.65 137.33 L756.37 136.81 L758.1 136.35 L759.83 135.92 L761.56 135.51 L763.29 135.1 L765.02 134.71 L766.75 134.3 L768.48 133.91 L770.21 133.58 L771.94 133.26 L773.66 132.91 L775.39 132.54 L777.12 132.18 L778.85 131.82 L780.58 131.49 L782.31 131.19 L784.04 130.93 L785.77 130.72 L787.5 130.58 L789.23 130.43 L790.95 130.19 L792.68 129.84 L794.41 129.4 L796.14 128.92 L797.87 128.5 L799.6 128.17 L801.33 127.95 L803.06 127.79 L804.79 127.64 L806.52 127.49 L808.24 127.35 L809.97 127.2 L811.7 127.05 L813.43 126.88 L815.16 126.69 L816.89 126.49 L818.62 126.24 L820.35 125.96 L822.08 125.6 L823.81 125.16 L825.53 124.65 L827.26 124.08 L828.99 123.46 L830.72 122.79 L832.45 122.08 L834.18 121.34 L835.91 120.58 L837.64 119.81 L839.37 119.03 L841.1 118.24 L842.82 117.47 L844.55 116.72 L846.28 115.99 L848.01 115.29 L849.74 114.63 L851.47 114.02 L853.2 113.45 L854.93 112.9 L856.66 112.39 L858.39 111.89 L860.11 111.4 L861.84 110.92 L863.57 110.44 L865.3 109.98 L867.03 109.52 L868.76 109.07 L870.49 108.63 L872.22 108.19 L873.95 107.76 L875.68 107.34 L877.4 106.92 L879.13 106.51 L880.86 106.1 L882.59 105.69 L884.32 105.29 L886.05 104.9 L887.78 104.51 L889.51 104.13 L891.24 103.75 L892.97 103.37 L894.69 103 L896.42 102.63 L898.15 102.26 L899.88 101.9 L901.61 101.53 L903.34 101.17 L905.07 100.8 L906.8 100.44 L908.53 100.07 L910.26 99.7 L911.98 99.33 L913.71 98.96 L915.44 98.58 L917.17 98.2 L918.9 97.81" stroke="#20712a"/>
<path d="M573.1 280.06 L574.83 280.06 L576.56 280.06 L578.29 280.06 L580.02 280.06 L581.75 280.06 L583.47 280.06 L585.2 280.06 L586.93 280.06 L588.66 280.06 L590.39 280.06 L592.12 280.06 L593.85 280.06 L595.58 279.81 L597.31 279.34 L599.03 278.64 L600.76 277.67 L602.49 276.45 L604.22 274.98 L605.95 273.27 L607.68 271.33 L609.41 268.53 L611.14 264.05 L612.87 259.11 L614.6 255.02 L616.33 251.7 L618.05 248.65 L619.78 245.75 L621.51 242.81 L623.24 239.68 L624.97 236.49 L626.7 232.6 L628.43 228.43 L630.16 224.63 L631.89 220.56 L633.62 215.66 L635.34 209.9 L637.07 204.09 L638.8 198.39 L640.53 192.59 L642.26 187.46 L643.99 183.18 L645.72 179.08 L647.45 175.55 L649.18 172.73 L650.91 170.12 L652.63 167.59 L654.36 165.12 L656.09 162.73 L657.82 160.42 L659.55 158.19 L661.28 156.04 L663.01 153.97 L664.74 151.99 L666.47 150.12 L668.2 148.36 L669.92 146.73 L671.65 145.23 L673.38 143.85 L675.11 142.57 L676.84 141.36 L678.57 140.21 L680.3 139.14 L682.03 138.13 L683.76 137.16 L685.49 136.23 L687.21 135.31 L688.94 134.39 L690.67 133.43 L692.4 132.37 L694.13 131.04 L695.86 129.66 L697.59 128.46 L699.32 127.57 L701.05 126.92 L702.78 126.37 L704.5 125.96 L706.23 125.73 L707.96 125.72 L709.69 125.96 L711.42 126.4 L713.15 127.02 L714.88 127.73 L716.61 128.44 L718.34 129.05 L720.07 129.46 L721.79 129.91 L723.52 130.56 L725.25 131.36 L726.98 132.24 L728.71 133.14 L730.44 134.15 L732.17 135.54 L733.9 137.01 L735.63 138.2 L737.36 138.75 L739.08 138.52 L740.81 138.15 L742.54 137.68 L744.27 137.14 L746 136.55 L747.73 135.92 L749.46 135.28 L751.19 134.64 L752.92 134.04 L754.65 133.49 L756.37 133 L758.1 132.57 L759.83 132.18 L761.56 131.82 L763.29 131.48 L765.02 131.15 L766.75 130.82 L768.48 130.52 L770.21 130.3 L771.94 130.1 L773.66 129.89 L775.39 129.68 L777.12 129.47 L778.85 129.27 L780.58 129.08 L782.31 128.92 L784.04 128.79 L785.77 128.7 L787.5 128.64 L789.23 128.57 L790.95 128.39 L792.68 128.1 L794.41 127.71 L796.14 127.27 L797.87 126.88 L799.6 126.58 L801.33 126.37 L803.06 126.21 L804.79 126.06 L806.52 125.92 L808.24 125.77 L809.97 125.62 L811.7 125.46 L813.43 125.29 L815.16 125.1 L816.89 124.9 L818.62 124.66 L820.35 124.37 L822.08 124.02 L823.81 123.59 L825.53 123.09 L827.26 122.52 L828.99 121.9 L830.72 121.24 L832.45 120.54 L834.18 119.8 L835.91 119.05 L837.64 118.27 L839.37 117.5 L841.1 116.72 L842.82 115.95 L844.55 115.2 L846.28 114.47 L848.01 113.77 L849.74 113.11 L851.47 112.5 L853.2 111.93 L854.93 111.38 L856.66 110.88 L858.39 110.38 L860.11 109.89 L861.84 109.41 L863.57 108.94 L865.3 108.48 L867.03 108.03 L868.76 107.58 L870.49 107.14 L872.22 106.71 L873.95 106.28 L875.68 105.86 L877.4 105.45 L879.13 105.04 L880.86 104.64 L882.59 104.24 L884.32 103.84 L886.05 103.45 L887.78 103.07 L889.51 102.69 L891.24 102.31 L892.97 101.94 L894.69 101.57 L896.42 101.2 L898.15 100.83 L899.88 100.47 L901.61 100.11 L903.34 99.75 L905.07 99.38 L906.8 99.02 L908.53 98.65 L910.26 98.29 L911.98 97.92 L913.71 97.55 L915.44 97.17 L917.17 96.79 L918.9 96.41" stroke="#25772f"/>
<path d="M573.1 279.92 L574.83 279.92 L576.56 279.92 L578.29 279.92 L580.02 279.92 L581.75 279.92 L583.47 279.92 L585.2 279.92 L586.93 279.92 L588.66 279.92 L590.39 279.92 L592.12 279.92 L593.85 279.92 L595.58 279.67 L597.31 279.18 L599.03 278.45 L600.76 277.44 L602.49 276.17 L604.22 274.64 L605.95 272.86 L607.68 270.84 L609.41 267.93 L611.14 263.28 L612.87 258.16 L614.6 253.94 L616.33 250.53 L618.05 247.4 L619.78 244.43 L621.51 241.44 L623.24 238.26 L624.97 235.05 L626.7 231.32 L628.43 227.35 L630.16 223.61 L631.89 219.55 L633.62 214.61 L635.34 208.78 L637.07 202.89 L638.8 197.13 L640.53 191.26 L642.26 186.12 L643.99 181.92 L645.72 177.99 L647.45 174.58 L649.18 171.79 L650.91 169.2 L652.63 166.67 L654.36 164.2 L656.09 161.79 L657.82 159.46 L659.55 157.2 L661.28 155.02 L663.01 152.93 L664.74 150.92 L666.47 149.03 L668.2 147.25 L669.92 145.59 L671.65 144.07 L673.38 142.68 L675.11 141.38 L676.84 140.15 L678.57 138.99 L680.3 137.9 L682.03 136.87 L683.76 135.89 L685.49 134.94 L687.21 134.01 L688.94 133.07 L690.67 132.11 L692.4 131.07 L694.13 129.81 L695.86 128.53 L697.59 127.41 L699.32 126.55 L701.05 125.89 L702.78 125.33 L704.5 124.9 L706.23 124.62 L707.96 124.55 L709.69 124.69 L711.42 125.03 L713.15 125.53 L714.88 126.11 L716.61 126.68 L718.34 127.16 L720.07 127.45 L721.79 127.76 L723.52 128.26 L725.25 128.89 L726.98 129.6 L728.71 130.33 L730.44 131.15 L732.17 132.33 L733.9 133.57 L735.63 134.57 L737.36 135 L739.08 134.75 L740.81 134.38 L742.54 133.92 L744.27 133.39 L746 132.82 L747.73 132.21 L749.46 131.6 L751.19 130.99 L752.92 130.42 L754.65 129.89 L756.37 129.43 L758.1 129.03 L759.83 128.68 L761.56 128.36 L763.29 128.08 L765.02 127.82 L766.75 127.56 L768.48 127.34 L770.21 127.22 L771.94 127.14 L773.66 127.06 L775.39 126.99 L777.12 126.92 L778.85 126.86 L780.58 126.82 L782.31 126.79 L784.04 126.78 L785.77 126.79 L787.5 126.82 L789.23 126.82 L790.95 126.7 L792.68 126.47 L794.41 126.12 L796.14 125.72 L797.87 125.36 L799.6 125.07 L801.33 124.88 L803.06 124.72 L804.79 124.58 L806.52 124.43 L808.24 124.28 L809.97 124.13 L811.7 123.97 L813.43 123.8 L815.16 123.61 L816.89 123.4 L818.62 123.16 L820.35 122.88 L822.08 122.53 L823.81 122.1 L825.53 121.61 L827.26 121.05 L828.99 120.43 L830.72 119.78 L832.45 119.08 L834.18 118.35 L835.91 117.6 L837.64 116.83 L839.37 116.05 L841.1 115.28 L842.82 114.51 L844.55 113.76 L846.28 113.03 L848.01 112.34 L849.74 111.68 L851.47 111.07 L853.2 110.49 L854.93 109.95 L856.66 109.45 L858.39 108.95 L860.11 108.47 L861.84 108 L863.57 107.53 L865.3 107.07 L867.03 106.62 L868.76 106.18 L870.49 105.74 L872.22 105.31 L873.95 104.89 L875.68 104.47 L877.4 104.06 L879.13 103.66 L880.86 103.26 L882.59 102.86 L884.32 102.47 L886.05 102.08 L887.78 101.7 L889.51 101.32 L891.24 100.95 L892.97 100.58 L894.69 100.21 L896.42 99.85 L898.15 99.49 L899.88 99.13 L901.61 98.76 L903.34 98.4 L905.07 98.04 L906.8 97.68 L908.53 97.32 L910.26 96.95 L911.98 96.58 L913.71 96.21 L915.44 95.84 L917.17 95.46 L918.9 95.08" stroke="#2a7c34"/>
<path d="M573.1 279.82 L574.83 279.82 L576.56 279.82 L578.29 279.82 L580.02 279.82 L581.75 279.82 L583.47 279.82 L585.2 279.82 L586.93 279.82 L588.66 279.82 L590.39 279.82 L592.12 279.82 L593.85 279.82 L595.58 279.56 L597.31 279.05 L599.03 278.29 L600.76 277.26 L602.49 275.95 L604.22 274.37 L605.95 272.54 L607.68 270.45 L609.41 267.46 L611.14 262.66 L612.87 257.4 L614.6 253.08 L616.33 249.59 L618.05 246.4 L619.78 243.37 L621.51 240.33 L623.24 237.12 L624.97 233.9 L626.7 230.3 L628.43 226.49 L630.16 222.8 L631.89 218.74 L633.62 213.76 L635.34 207.88 L637.07 201.94 L638.8 196.12 L640.53 190.2 L642.26 185.04 L643.99 180.92 L645.72 177.11 L647.45 173.8 L649.18 171.04 L650.91 168.46 L652.63 165.94 L654.36 163.46 L656.09 161.04 L657.82 158.69 L659.55 156.41 L661.28 154.21 L663.01 152.1 L664.74 150.07 L666.47 148.15 L668.2 146.35 L669.92 144.68 L671.65 143.14 L673.38 141.74 L675.11 140.43 L676.84 139.19 L678.57 138.02 L680.3 136.91 L682.03 135.87 L683.76 134.88 L685.49 133.91 L687.21 132.97 L688.94 132.02 L690.67 131.06 L692.4 130.04 L694.13 128.83 L695.86 127.62 L697.59 126.56 L699.32 125.71 L701.05 125.03 L702.78 124.44 L704.5 123.95 L706.23 123.61 L707.96 123.46 L709.69 123.49 L711.42 123.71 L713.15 124.07 L714.88 124.51 L716.61 124.93 L718.34 125.27 L720.07 125.43 L721.79 125.61 L723.52 125.96 L725.25 126.42 L726.98 126.95 L728.71 127.51 L730.44 128.15 L732.17 129.11 L733.9 130.13 L735.63 130.94 L737.36 131.26 L739.08 130.99 L740.81 130.6 L742.54 130.15 L744.27 129.64 L746 129.09 L747.73 128.51 L749.46 127.92 L751.19 127.34 L752.92 126.79 L754.65 126.29 L756.37 125.85 L758.1 125.49 L759.83 125.19 L761.56 124.93 L763.29 124.7 L765.02 124.51 L766.75 124.34 L768.48 124.22 L770.21 124.2 L771.94 124.25 L773.66 124.31 L775.39 124.38 L777.12 124.46 L778.85 124.55 L780.58 124.65 L782.31 124.76 L784.04 124.87 L785.77 124.98 L787.5 125.09 L789.23 125.16 L790.95 125.1 L792.68 124.92 L794.41 124.62 L796.14 124.25 L797.87 123.92 L799.6 123.65 L801.33 123.47 L803.06 123.32 L804.79 123.17 L806.52 123.03 L808.24 122.88 L809.97 122.72 L811.7 122.56 L813.43 122.38 L815.16 122.19 L816.89 121.98 L818.62 121.74 L820.35 121.47 L822.08 121.12 L823.81 120.7 L825.53 120.21 L827.26 119.65 L828.99 119.05 L830.72 118.39 L832.45 117.7 L834.18 116.97 L835.91 116.22 L837.64 115.46 L839.37 114.69 L841.1 113.92 L842.82 113.15 L844.55 112.4 L846.28 111.68 L848.01 110.98 L849.74 110.33 L851.47 109.71 L853.2 109.14 L854.93 108.6 L856.66 108.1 L858.39 107.61 L860.11 107.13 L861.84 106.65 L863.57 106.19 L865.3 105.74 L867.03 105.29 L868.76 104.85 L870.49 104.42 L872.22 103.99 L873.95 103.57 L875.68 103.16 L877.4 102.75 L879.13 102.35 L880.86 101.95 L882.59 101.56 L884.32 101.17 L886.05 100.79 L887.78 100.41 L889.51 100.04 L891.24 99.67 L892.97 99.3 L894.69 98.93 L896.42 98.57 L898.15 98.21 L899.88 97.85 L901.61 97.49 L903.34 97.13 L905.07 96.78 L906.8 96.42 L908.53 96.05 L910.26 95.69 L911.98 95.32 L913.71 94.95 L915.44 94.58 L917.17 94.2 L918.9 93.82" stroke="#2e8238"/>
<path d="M573.1 279.73 L574.83 279.73 L576.56 279.73 L578.29 279.73 L580.02 279.73 L581.75 279.73 L583.47 279.73 L585.2 279.73 L586.93 279.73 L588.66 279.73 L590.39 279.73 L592.12 279.73 L593.85 279.73 L595.58 279.46 L597.31 278.94 L599.03 278.17 L600.76 277.11 L602.49 275.77 L604.22 274.15 L605.95 272.28 L607.68 270.14 L609.41 267.07 L611.14 262.17 L612.87 256.8 L614.6 252.39 L616.33 248.84 L618.05 245.6 L619.78 242.52 L621.51 239.45 L623.24 236.21 L624.97 232.99 L626.7 229.48 L628.43 225.8 L630.16 222.14 L631.89 218.09 L633.62 213.09 L635.34 207.16 L637.07 201.18 L638.8 195.31 L640.53 189.34 L642.26 184.18 L643.99 180.11 L645.72 176.41 L647.45 173.18 L649.18 170.44 L650.91 167.87 L652.63 165.35 L654.36 162.86 L656.09 160.44 L657.82 158.07 L659.55 155.78 L661.28 153.56 L663.01 151.43 L664.74 149.39 L666.47 147.46 L668.2 145.64 L669.92 143.95 L671.65 142.4 L673.38 140.99 L675.11 139.66 L676.84 138.42 L678.57 137.24 L680.3 136.12 L682.03 135.07 L683.76 134.06 L685.49 133.09 L687.21 132.13 L688.94 131.18 L690.67 130.22 L692.4 129.2 L694.13 128.05 L695.86 126.89 L697.59 125.86 L699.32 125.01 L701.05 124.3 L702.78 123.67 L704.5 123.13 L706.23 122.72 L707.96 122.48 L709.69 122.4 L711.42 122.49 L713.15 122.71 L714.88 123 L716.61 123.28 L718.34 123.47 L720.07 123.51 L721.79 123.56 L723.52 123.76 L725.25 124.06 L726.98 124.43 L728.71 124.82 L730.44 125.29 L732.17 126.04 L733.9 126.85 L735.63 127.48 L737.36 127.69 L739.08 127.39 L740.81 127 L742.54 126.56 L744.27 126.06 L746 125.52 L747.73 124.97 L749.46 124.41 L751.19 123.86 L752.92 123.34 L754.65 122.86 L756.37 122.45 L758.1 122.12 L759.83 121.85 L761.56 121.64 L763.29 121.49 L765.02 121.36 L766.75 121.28 L768.48 121.24 L770.21 121.33 L771.94 121.49 L773.66 121.69 L775.39 121.9 L777.12 122.13 L778.85 122.36 L780.58 122.6 L782.31 122.83 L784.04 123.05 L785.77 123.26 L787.5 123.46 L789.23 123.58 L790.95 123.58 L792.68 123.45 L794.41 123.19 L796.14 122.86 L797.87 122.56 L799.6 122.31 L801.33 122.13 L803.06 121.98 L804.79 121.84 L806.52 121.69 L808.24 121.54 L809.97 121.38 L811.7 121.22 L813.43 121.04 L815.16 120.85 L816.89 120.63 L818.62 120.4 L820.35 120.13 L822.08 119.79 L823.81 119.37 L825.53 118.88 L827.26 118.33 L828.99 117.73 L830.72 117.08 L832.45 116.39 L834.18 115.67 L835.91 114.92 L837.64 114.16 L839.37 113.39 L841.1 112.62 L842.82 111.86 L844.55 111.12 L846.28 110.39 L848.01 109.7 L849.74 109.04 L851.47 108.43 L853.2 107.85 L854.93 107.31 L856.66 106.82 L858.39 106.33 L860.11 105.85 L861.84 105.38 L863.57 104.92 L865.3 104.47 L867.03 104.03 L868.76 103.59 L870.49 103.16 L872.22 102.74 L873.95 102.32 L875.68 101.91 L877.4 101.51 L879.13 101.11 L880.86 100.72 L882.59 100.33 L884.32 99.94 L886.05 99.56 L887.78 99.19 L889.51 98.82 L891.24 98.45 L892.97 98.08 L894.69 97.72 L896.42 97.36 L898.15 97 L899.88 96.64 L901.61 96.29 L903.34 95.93 L905.07 95.57 L906.8 95.21 L908.53 94.85 L910.26 94.49 L911.98 94.13 L913.71 93.76 L915.44 93.39 L917.17 93.01 L918.9 92.63" stroke="#34893e"/>
<path d="M573.1 279.66 L574.83 279.66 L576.56 279.66 L578.29 279.66 L580.02 279.66 L581.75 279.66 L583.47 279.66 L585.2 279.66 L586.93 279.66 L588.66 279.66 L590.39 279.66 L592.12 279.66 L593.85 279.66 L595.58 279.39 L597.31 278.86 L599.03 278.07 L600.76 276.99 L602.49 275.62 L604.22 273.98 L605.95 272.07 L607.68 269.89 L609.41 266.77 L611.14 261.77 L612.87 256.31 L614.6 251.84 L616.33 248.24 L618.05 244.96 L619.78 241.85 L621.51 238.74 L623.24 235.48 L624.97 232.25 L626.7 228.83 L628.43 225.25 L630.16 221.62 L631.89 217.57 L633.62 212.55 L635.34 206.58 L637.07 200.56 L638.8 194.66 L640.53 188.66 L642.26 183.49 L643.99 179.47 L645.72 175.85 L647.45 172.68 L649.18 169.96 L650.91 167.4 L652.63 164.88 L654.36 162.39 L656.09 159.96 L657.82 157.58 L659.55 155.28 L661.28 153.04 L663.01 150.9 L664.74 148.84 L666.47 146.9 L668.2 145.07 L669.92 143.37 L671.65 141.81 L673.38 140.38 L675.11 139.05 L676.84 137.8 L678.57 136.61 L680.3 135.49 L682.03 134.43 L683.76 133.41 L685.49 132.43 L687.21 131.46 L688.94 130.51 L690.67 129.54 L692.4 128.54 L694.13 127.42 L695.86 126.31 L697.59 125.3 L699.32 124.44 L701.05 123.71 L702.78 123.04 L704.5 122.45 L706.23 121.98 L707.96 121.65 L709.69 121.48 L711.42 121.45 L713.15 121.55 L714.88 121.71 L716.61 121.86 L718.34 121.93 L720.07 121.86 L721.79 121.81 L723.52 121.88 L725.25 122.04 L726.98 122.27 L728.71 122.52 L730.44 122.84 L732.17 123.41 L733.9 124.03 L735.63 124.51 L737.36 124.63 L739.08 124.31 L740.81 123.92 L742.54 123.48 L744.27 122.99 L746 122.47 L747.73 121.94 L749.46 121.4 L751.19 120.87 L752.92 120.37 L754.65 119.91 L756.37 119.52 L758.1 119.22 L759.83 118.98 L761.56 118.81 L763.29 118.69 L765.02 118.62 L766.75 118.58 L768.48 118.61 L770.21 118.77 L771.94 119.02 L773.66 119.32 L775.39 119.64 L777.12 119.98 L778.85 120.33 L780.58 120.68 L782.31 121.02 L784.04 121.34 L785.77 121.64 L787.5 121.9 L789.23 122.09 L790.95 122.14 L792.68 122.06 L794.41 121.83 L796.14 121.53 L797.87 121.26 L799.6 121.02 L801.33 120.85 L803.06 120.71 L804.79 120.57 L806.52 120.42 L808.24 120.27 L809.97 120.11 L811.7 119.94 L813.43 119.76 L815.16 119.57 L816.89 119.35 L818.62 119.12 L820.35 118.85 L822.08 118.52 L823.81 118.1 L825.53 117.62 L827.26 117.08 L828.99 116.48 L830.72 115.83 L832.45 115.14 L834.18 114.43 L835.91 113.69 L837.64 112.93 L839.37 112.16 L841.1 111.4 L842.82 110.64 L844.55 109.89 L846.28 109.17 L848.01 108.47 L849.74 107.82 L851.47 107.2 L853.2 106.63 L854.93 106.09 L856.66 105.6 L858.39 105.11 L860.11 104.64 L861.84 104.17 L863.57 103.71 L865.3 103.26 L867.03 102.82 L868.76 102.39 L870.49 101.97 L872.22 101.55 L873.95 101.13 L875.68 100.73 L877.4 100.33 L879.13 99.93 L880.86 99.54 L882.59 99.15 L884.32 98.77 L886.05 98.4 L887.78 98.02 L889.51 97.65 L891.24 97.29 L892.97 96.93 L894.69 96.57 L896.42 96.21 L898.15 95.85 L899.88 95.5 L901.61 95.14 L903.34 94.79 L905.07 94.43 L906.8 94.07 L908.53 93.71 L910.26 93.35 L911.98 92.99 L913.71 92.62 L915.44 92.25 L917.17 91.88 L918.9 91.5" stroke="#3b9045"/>
<path d="M573.1 279.61 L574.83 279.61 L576.56 279.61 L578.29 279.61 L580.02 279.61 L581.75 279.61 L583.47 279.61 L585.2 279.61 L586.93 279.61 L588.66 279.61 L590.39 279.61 L592.12 279.61 L593.85 279.61 L595.58 279.33 L597.31 278.79 L599.03 277.99 L600.76 276.9 L602.49 275.51 L604.22 273.84 L605.95 271.9 L607.68 269.69 L609.41 266.52 L611.14 261.46 L612.87 255.92 L614.6 251.39 L616.33 247.76 L618.05 244.44 L619.78 241.31 L621.51 238.18 L623.24 234.9 L624.97 231.67 L626.7 228.31 L628.43 224.8 L630.16 221.2 L631.89 217.16 L633.62 212.11 L635.34 206.12 L637.07 200.08 L638.8 194.14 L640.53 188.12 L642.26 182.94 L643.99 178.95 L645.72 175.4 L647.45 172.29 L649.18 169.58 L650.91 167.03 L652.63 164.5 L654.36 162.01 L656.09 159.57 L657.82 157.19 L659.55 154.87 L661.28 152.63 L663.01 150.47 L664.74 148.41 L666.47 146.45 L668.2 144.61 L669.92 142.9 L671.65 141.33 L673.38 139.9 L675.11 138.56 L676.84 137.3 L678.57 136.11 L680.3 134.98 L682.03 133.91 L683.76 132.89 L685.49 131.9 L687.21 130.93 L688.94 129.97 L690.67 129 L692.4 128.01 L694.13 126.92 L695.86 125.84 L697.59 124.85 L699.32 123.98 L701.05 123.21 L702.78 122.5 L704.5 121.86 L706.23 121.32 L707.96 120.9 L709.69 120.63 L711.42 120.49 L713.15 120.47 L714.88 120.5 L716.61 120.52 L718.34 120.48 L720.07 120.31 L721.79 120.15 L723.52 120.1 L725.25 120.14 L726.98 120.23 L728.71 120.34 L730.44 120.53 L732.17 120.92 L733.9 121.38 L735.63 121.71 L737.36 121.74 L739.08 121.4 L740.81 121 L742.54 120.57 L744.27 120.09 L746 119.59 L747.73 119.07 L749.46 118.56 L751.19 118.05 L752.92 117.57 L754.65 117.13 L756.37 116.76 L758.1 116.48 L759.83 116.27 L761.56 116.13 L763.29 116.05 L765.02 116.02 L766.75 116.03 L768.48 116.12 L770.21 116.35 L771.94 116.68 L773.66 117.07 L775.39 117.5 L777.12 117.95 L778.85 118.4 L780.58 118.86 L782.31 119.3 L784.04 119.71 L785.77 120.08 L787.5 120.42 L789.23 120.66 L790.95 120.76 L792.68 120.73 L794.41 120.54 L796.14 120.27 L797.87 120.02 L799.6 119.8 L801.33 119.64 L803.06 119.5 L804.79 119.36 L806.52 119.21 L808.24 119.06 L809.97 118.9 L811.7 118.73 L813.43 118.54 L815.16 118.35 L816.89 118.13 L818.62 117.9 L820.35 117.64 L822.08 117.31 L823.81 116.9 L825.53 116.42 L827.26 115.88 L828.99 115.28 L830.72 114.64 L832.45 113.96 L834.18 113.24 L835.91 112.51 L837.64 111.75 L839.37 110.99 L841.1 110.22 L842.82 109.47 L844.55 108.72 L846.28 108 L848.01 107.31 L849.74 106.65 L851.47 106.04 L853.2 105.46 L854.93 104.93 L856.66 104.43 L858.39 103.95 L860.11 103.48 L861.84 103.02 L863.57 102.56 L865.3 102.12 L867.03 101.68 L868.76 101.25 L870.49 100.83 L872.22 100.41 L873.95 100 L875.68 99.6 L877.4 99.2 L879.13 98.81 L880.86 98.42 L882.59 98.04 L884.32 97.66 L886.05 97.28 L887.78 96.91 L889.51 96.55 L891.24 96.18 L892.97 95.82 L894.69 95.47 L896.42 95.11 L898.15 94.75 L899.88 94.4 L901.61 94.05 L903.34 93.69 L905.07 93.34 L906.8 92.98 L908.53 92.63 L910.26 92.27 L911.98 91.9 L913.71 91.54 L915.44 91.17 L917.17 90.8 L918.9 90.42" stroke="#43984d"/>
<path d="M573.1 279.56 L574.83 279.56 L576.56 279.56 L578.29 279.56 L580.02 279.56 L581.75 279.56 L583.47 279.56 L585.2 279.56 L586.93 279.56 L588.66 279.56 L590.39 279.56 L592.12 279.56 L593.85 279.56 L595.58 279.28 L597.31 278.74 L599.03 277.93 L600.76 276.82 L602.49 275.42 L604.22 273.73 L605.95 271.77 L607.68 269.54 L609.41 266.32 L611.14 261.2 L612.87 255.61 L614.6 251.04 L616.33 247.37 L618.05 244.03 L619.78 240.87 L621.51 237.73 L623.24 234.44 L624.97 231.2 L626.7 227.89 L628.43 224.45 L630.16 220.87 L631.89 216.83 L633.62 211.77 L635.34 205.75 L637.07 199.68 L638.8 193.73 L640.53 187.68 L642.26 182.5 L643.99 178.54 L645.72 175.04 L647.45 171.97 L649.18 169.27 L650.91 166.72 L652.63 164.2 L654.36 161.71 L656.09 159.26 L657.82 156.87 L659.55 154.55 L661.28 152.3 L663.01 150.13 L664.74 148.06 L666.47 146.09 L668.2 144.25 L669.92 142.53 L671.65 140.95 L673.38 139.52 L675.11 138.17 L676.84 136.91 L678.57 135.71 L680.3 134.58 L682.03 133.5 L683.76 132.47 L685.49 131.48 L687.21 130.5 L688.94 129.54 L690.67 128.57 L692.4 127.58 L694.13 126.52 L695.86 125.46 L697.59 124.48 L699.32 123.59 L701.05 122.78 L702.78 122.02 L704.5 121.32 L706.23 120.71 L707.96 120.21 L709.69 119.84 L711.42 119.58 L713.15 119.44 L714.88 119.34 L716.61 119.23 L718.34 119.07 L720.07 118.8 L721.79 118.54 L723.52 118.37 L725.25 118.28 L726.98 118.24 L728.71 118.23 L730.44 118.28 L732.17 118.51 L733.9 118.8 L735.63 118.99 L737.36 118.93 L739.08 118.57 L740.81 118.17 L742.54 117.74 L744.27 117.28 L746 116.79 L747.73 116.29 L749.46 115.8 L751.19 115.32 L752.92 114.86 L754.65 114.43 L756.37 114.08 L758.1 113.82 L759.83 113.64 L761.56 113.53 L763.29 113.49 L765.02 113.5 L766.75 113.57 L768.48 113.71 L770.21 114.01 L771.94 114.42 L773.66 114.91 L775.39 115.43 L777.12 115.99 L778.85 116.55 L780.58 117.11 L782.31 117.64 L784.04 118.15 L785.77 118.6 L787.5 119 L789.23 119.29 L790.95 119.45 L792.68 119.45 L794.41 119.3 L796.14 119.06 L797.87 118.83 L799.6 118.63 L801.33 118.48 L803.06 118.35 L804.79 118.21 L806.52 118.06 L808.24 117.9 L809.97 117.74 L811.7 117.57 L813.43 117.38 L815.16 117.18 L816.89 116.97 L818.62 116.74 L820.35 116.48 L822.08 116.15 L823.81 115.74 L825.53 115.27 L827.26 114.73 L828.99 114.14 L830.72 113.5 L832.45 112.82 L834.18 112.11 L835.91 111.38 L837.64 110.63 L839.37 109.87 L841.1 109.11 L842.82 108.35 L844.55 107.61 L846.28 106.89 L848.01 106.19 L849.74 105.54 L851.47 104.92 L853.2 104.35 L854.93 103.81 L856.66 103.32 L858.39 102.84 L860.11 102.37 L861.84 101.91 L863.57 101.46 L865.3 101.02 L867.03 100.58 L868.76 100.16 L870.49 99.74 L872.22 99.32 L873.95 98.92 L875.68 98.52 L877.4 98.12 L879.13 97.73 L880.86 97.35 L882.59 96.97 L884.32 96.59 L886.05 96.22 L887.78 95.85 L889.51 95.49 L891.24 95.13 L892.97 94.77 L894.69 94.41 L896.42 94.06 L898.15 93.71 L899.88 93.35 L901.61 93 L903.34 92.65 L905.07 92.3 L906.8 91.94 L908.53 91.59 L910.26 91.23 L911.98 90.87 L913.71 90.5 L915.44 90.14 L917.17 89.76 L918.9 89.39" stroke="#4a9f54"/>
<path d="M573.1 279.53 L574.83 279.53 L576.56 279.53 L578.29 279.53 L580.02 279.53 L581.75 279.53 L583.47 279.53 L585.2 279.53 L586.93 279.53 L588.66 279.53 L590.39 279.53 L592.12 279.53 L593.85 279.53 L595.58 279.25 L597.31 278.69 L599.03 277.88 L600.76 276.76 L602.49 275.34 L604.22 273.64 L605.95 271.66 L607.68 269.41 L609.41 266.17 L611.14 261 L612.87 255.36 L614.6 250.76 L616.33 247.06 L618.05 243.71 L619.78 240.53 L621.51 237.37 L623.24 234.06 L624.97 230.82 L626.7 227.55 L628.43 224.17 L630.16 220.6 L631.89 216.56 L633.62 211.49 L635.34 205.46 L637.07 199.37 L638.8 193.4 L640.53 187.33 L642.26 182.14 L643.99 178.21 L645.72 174.75 L647.45 171.72 L649.18 169.03 L650.91 166.48 L652.63 163.96 L654.36 161.47 L656.09 159.02 L657.82 156.62 L659.55 154.29 L661.28 152.03 L663.01 149.86 L664.74 147.78 L666.47 145.81 L668.2 143.95 L669.92 142.23 L671.65 140.65 L673.38 139.21 L675.11 137.86 L676.84 136.59 L678.57 135.39 L680.3 134.26 L682.03 133.18 L683.76 132.14 L685.49 131.14 L687.21 130.16 L688.94 129.19 L690.67 128.23 L692.4 127.24 L694.13 126.2 L695.86 125.16 L697.59 124.17 L699.32 123.25 L701.05 122.4 L702.78 121.59 L704.5 120.84 L706.23 120.15 L707.96 119.57 L709.69 119.09 L711.42 118.72 L713.15 118.45 L714.88 118.22 L716.61 117.98 L718.34 117.7 L720.07 117.33 L721.79 116.97 L723.52 116.7 L725.25 116.49 L726.98 116.32 L728.71 116.18 L730.44 116.1 L732.17 116.17 L733.9 116.3 L735.63 116.35 L737.36 116.21 L739.08 115.83 L740.81 115.43 L742.54 115 L744.27 114.55 L746 114.08 L747.73 113.6 L749.46 113.12 L751.19 112.66 L752.92 112.22 L754.65 111.82 L756.37 111.48 L758.1 111.24 L759.83 111.09 L761.56 111.01 L763.29 111.01 L765.02 111.07 L766.75 111.18 L768.48 111.38 L770.21 111.75 L771.94 112.25 L773.66 112.82 L775.39 113.45 L777.12 114.11 L778.85 114.77 L780.58 115.43 L782.31 116.06 L784.04 116.65 L785.77 117.18 L787.5 117.64 L789.23 117.99 L790.95 118.19 L792.68 118.24 L794.41 118.12 L796.14 117.9 L797.87 117.7 L799.6 117.52 L801.33 117.37 L803.06 117.24 L804.79 117.1 L806.52 116.95 L808.24 116.8 L809.97 116.63 L811.7 116.46 L813.43 116.27 L815.16 116.07 L816.89 115.85 L818.62 115.62 L820.35 115.36 L822.08 115.04 L823.81 114.64 L825.53 114.17 L827.26 113.63 L828.99 113.05 L830.72 112.41 L832.45 111.74 L834.18 111.03 L835.91 110.3 L837.64 109.55 L839.37 108.79 L841.1 108.03 L842.82 107.28 L844.55 106.54 L846.28 105.82 L848.01 105.13 L849.74 104.47 L851.47 103.85 L853.2 103.28 L854.93 102.75 L856.66 102.26 L858.39 101.78 L860.11 101.31 L861.84 100.86 L863.57 100.41 L865.3 99.97 L867.03 99.54 L868.76 99.11 L870.49 98.69 L872.22 98.28 L873.95 97.88 L875.68 97.48 L877.4 97.09 L879.13 96.7 L880.86 96.32 L882.59 95.94 L884.32 95.57 L886.05 95.2 L887.78 94.84 L889.51 94.47 L891.24 94.12 L892.97 93.76 L894.69 93.41 L896.42 93.05 L898.15 92.7 L899.88 92.35 L901.61 92 L903.34 91.65 L905.07 91.3 L906.8 90.95 L908.53 90.59 L910.26 90.24 L911.98 89.88 L913.71 89.51 L915.44 89.14 L917.17 88.77 L918.9 88.4" stroke="#52a75c"/>
<path d="M573.1 279.5 L574.83 279.5 L576.56 279.5 L578.29 279.5 L580.02 279.5 L581.75 279.5 L583.47 279.5 L585.2 279.5 L586.93 279.5 L588.66 279.5 L590.39 279.5 L592.12 279.5 L593.85 279.5 L595.58 279.22 L597.31 278.66 L599.03 277.84 L600.76 276.71 L602.49 275.29 L604.22 273.57 L605.95 271.57 L607.68 269.31 L609.41 266.04 L611.14 260.84 L612.87 255.17 L614.6 250.53 L616.33 246.82 L618.05 243.44 L619.78 240.25 L621.51 237.08 L623.24 233.77 L624.97 230.52 L626.7 227.29 L628.43 223.94 L630.16 220.39 L631.89 216.35 L633.62 211.27 L635.34 205.22 L637.07 199.12 L638.8 193.13 L640.53 187.05 L642.26 181.86 L643.99 177.95 L645.72 174.52 L647.45 171.51 L649.18 168.83 L650.91 166.29 L652.63 163.77 L654.36 161.27 L656.09 158.82 L657.82 156.42 L659.55 154.08 L661.28 151.82 L663.01 149.64 L664.74 147.55 L666.47 145.58 L668.2 143.72 L669.92 141.99 L671.65 140.41 L673.38 138.96 L675.11 137.61 L676.84 136.34 L678.57 135.14 L680.3 134 L682.03 132.91 L683.76 131.87 L685.49 130.87 L687.21 129.88 L688.94 128.92 L690.67 127.95 L692.4 126.97 L694.13 125.94 L695.86 124.91 L697.59 123.92 L699.32 122.99 L701.05 122.1 L702.78 121.25 L704.5 120.44 L706.23 119.7 L707.96 119.04 L709.69 118.48 L711.42 118.02 L713.15 117.64 L714.88 117.31 L716.61 116.97 L718.34 116.59 L720.07 116.14 L721.79 115.71 L723.52 115.34 L725.25 115.03 L726.98 114.76 L728.71 114.52 L730.44 114.33 L732.17 114.27 L733.9 114.26 L735.63 114.21 L737.36 114 L739.08 113.6 L740.81 113.2 L742.54 112.78 L744.27 112.33 L746 111.87 L747.73 111.41 L749.46 110.95 L751.19 110.51 L752.92 110.08 L754.65 109.69 L756.37 109.37 L758.1 109.14 L759.83 109 L761.56 108.94 L763.29 108.95 L765.02 109.03 L766.75 109.16 L768.48 109.39 L770.21 109.8 L771.94 110.34 L773.66 110.97 L775.39 111.66 L777.12 112.39 L778.85 113.14 L780.58 113.87 L782.31 114.57 L784.04 115.23 L785.77 115.83 L787.5 116.34 L789.23 116.74 L790.95 116.98 L792.68 117.07 L794.41 116.99 L796.14 116.8 L797.87 116.61 L799.6 116.44 L801.33 116.31 L803.06 116.18 L804.79 116.04 L806.52 115.89 L808.24 115.73 L809.97 115.57 L811.7 115.39 L813.43 115.2 L815.16 115 L816.89 114.78 L818.62 114.55 L820.35 114.3 L822.08 113.98 L823.81 113.58 L825.53 113.11 L827.26 112.58 L828.99 112 L830.72 111.37 L832.45 110.69 L834.18 109.99 L835.91 109.26 L837.64 108.52 L839.37 107.76 L841.1 107.01 L842.82 106.25 L844.55 105.51 L846.28 104.79 L848.01 104.1 L849.74 103.44 L851.47 102.83 L853.2 102.25 L854.93 101.73 L856.66 101.24 L858.39 100.76 L860.11 100.3 L861.84 99.84 L863.57 99.4 L865.3 98.96 L867.03 98.53 L868.76 98.11 L870.49 97.69 L872.22 97.29 L873.95 96.88 L875.68 96.49 L877.4 96.1 L879.13 95.72 L880.86 95.34 L882.59 94.96 L884.32 94.59 L886.05 94.22 L887.78 93.86 L889.51 93.5 L891.24 93.15 L892.97 92.79 L894.69 92.44 L896.42 92.09 L898.15 91.74 L899.88 91.39 L901.61 91.04 L903.34 90.69 L905.07 90.34 L906.8 89.99 L908.53 89.64 L910.26 89.28 L911.98 88.92 L913.71 88.56 L915.44 88.2 L917.17 87.82 L918.9 87.45" stroke="#5aaf64"/>
<path d="M573.1 279.48 L574.83 279.48 L576.56 279.48 L578.29 279.48 L580.02 279.48 L581.75 279.48 L583.47 279.48 L585.2 279.48 L586.93 279.48 L588.66 279.48 L590.39 279.48 L592.12 279.48 L593.85 279.48 L595.58 279.19 L597.31 278.63 L599.03 277.81 L600.76 276.67 L602.49 275.24 L604.22 273.51 L605.95 271.5 L607.68 269.22 L609.41 265.94 L611.14 260.71 L612.87 255.01 L614.6 250.35 L616.33 246.62 L618.05 243.23 L619.78 240.03 L621.51 236.84 L623.24 233.53 L624.97 230.28 L626.7 227.07 L628.43 223.76 L630.16 220.22 L631.89 216.18 L633.62 211.09 L635.34 205.03 L637.07 198.92 L638.8 192.92 L640.53 186.83 L642.26 181.64 L643.99 177.73 L645.72 174.34 L647.45 171.35 L649.18 168.67 L650.91 166.14 L652.63 163.62 L654.36 161.12 L656.09 158.66 L657.82 156.26 L659.55 153.92 L661.28 151.65 L663.01 149.46 L664.74 147.38 L666.47 145.39 L668.2 143.53 L669.92 141.8 L671.65 140.21 L673.38 138.77 L675.11 137.41 L676.84 136.14 L678.57 134.93 L680.3 133.79 L682.03 132.7 L683.76 131.66 L685.49 130.65 L687.21 129.67 L688.94 128.7 L690.67 127.73 L692.4 126.75 L694.13 125.73 L695.86 124.72 L697.59 123.74 L699.32 122.79 L701.05 121.89 L702.78 121.02 L704.5 120.19 L706.23 119.42 L707.96 118.73 L709.69 118.12 L711.42 117.61 L713.15 117.18 L714.88 116.79 L716.61 116.39 L718.34 115.96 L720.07 115.47 L721.79 114.99 L723.52 114.57 L725.25 114.21 L726.98 113.88 L728.71 113.58 L730.44 113.33 L732.17 113.2 L733.9 113.12 L735.63 113 L737.36 112.75 L739.08 112.35 L740.81 111.95 L742.54 111.52 L744.27 111.08 L746 110.63 L747.73 110.18 L749.46 109.73 L751.19 109.29 L752.92 108.88 L754.65 108.5 L756.37 108.17 L758.1 107.94 L759.83 107.78 L761.56 107.69 L763.29 107.67 L765.02 107.71 L766.75 107.81 L768.48 108 L770.21 108.38 L771.94 108.9 L773.66 109.52 L775.39 110.21 L777.12 110.95 L778.85 111.71 L780.58 112.47 L782.31 113.21 L784.04 113.91 L785.77 114.54 L787.5 115.1 L789.23 115.53 L790.95 115.82 L792.68 115.94 L794.41 115.9 L796.14 115.73 L797.87 115.57 L799.6 115.41 L801.33 115.28 L803.06 115.16 L804.79 115.02 L806.52 114.87 L808.24 114.71 L809.97 114.54 L811.7 114.36 L813.43 114.17 L815.16 113.97 L816.89 113.75 L818.62 113.52 L820.35 113.27 L822.08 112.96 L823.81 112.56 L825.53 112.1 L827.26 111.57 L828.99 110.99 L830.72 110.36 L832.45 109.69 L834.18 108.99 L835.91 108.27 L837.64 107.53 L839.37 106.77 L841.1 106.02 L842.82 105.27 L844.55 104.53 L846.28 103.81 L848.01 103.12 L849.74 102.46 L851.47 101.85 L853.2 101.27 L854.93 100.74 L856.66 100.26 L858.39 99.79 L860.11 99.32 L861.84 98.87 L863.57 98.43 L865.3 97.99 L867.03 97.56 L868.76 97.14 L870.49 96.73 L872.22 96.33 L873.95 95.93 L875.68 95.54 L877.4 95.15 L879.13 94.77 L880.86 94.39 L882.59 94.02 L884.32 93.65 L886.05 93.29 L887.78 92.93 L889.51 92.57 L891.24 92.21 L892.97 91.86 L894.69 91.51 L896.42 91.16 L898.15 90.82 L899.88 90.47 L901.61 90.12 L903.34 89.77 L905.07 89.42 L906.8 89.07 L908.53 88.72 L910.26 88.37 L911.98 88.01 L913.71 87.65 L915.44 87.28 L917.17 86.91 L918.9 86.54" stroke="#61b66b"/>
<path d="M573.1 279.46 L574.83 279.46 L576.56 279.46 L578.29 279.46 L580.02 279.46 L581.75 279.46 L583.47 279.46 L585.2 279.46 L586.93 279.46 L588.66 279.46 L590.39 279.46 L592.12 279.46 L593.85 279.46 L595.58 279.17 L597.31 278.61 L599.03 277.78 L600.76 276.64 L602.49 275.2 L604.22 273.47 L605.95 271.45 L607.68 269.16 L609.41 265.86 L611.14 260.61 L612.87 254.88 L614.6 250.2 L616.33 246.46 L618.05 243.06 L619.78 239.85 L621.51 236.66 L623.24 233.34 L624.97 230.09 L626.7 226.9 L628.43 223.62 L630.16 220.08 L631.89 216.04 L633.62 210.95 L635.34 204.88 L637.07 198.76 L638.8 192.75 L640.53 186.65 L642.26 181.46 L643.99 177.57 L645.72 174.19 L647.45 171.22 L649.18 168.55 L650.91 166.01 L652.63 163.49 L654.36 161 L656.09 158.54 L657.82 156.13 L659.55 153.78 L661.28 151.51 L663.01 149.32 L664.74 147.23 L666.47 145.25 L668.2 143.38 L669.92 141.65 L671.65 140.06 L673.38 138.61 L675.11 137.25 L676.84 135.98 L678.57 134.77 L680.3 133.62 L682.03 132.53 L683.76 131.49 L685.49 130.48 L687.21 129.49 L688.94 128.52 L690.67 127.55 L692.4 126.58 L694.13 125.57 L695.86 124.56 L697.59 123.58 L699.32 122.63 L701.05 121.71 L702.78 120.82 L704.5 119.96 L706.23 119.16 L707.96 118.42 L709.69 117.77 L711.42 117.21 L713.15 116.73 L714.88 116.28 L716.61 115.82 L718.34 115.34 L720.07 114.81 L721.79 114.28 L723.52 113.81 L725.25 113.39 L726.98 113 L728.71 112.64 L730.44 112.33 L732.17 112.13 L733.9 111.98 L735.63 111.8 L737.36 111.51 L739.08 111.1 L740.81 110.69 L742.54 110.27 L744.27 109.84 L746 109.39 L747.73 108.95 L749.46 108.51 L751.19 108.08 L752.92 107.67 L754.65 107.3 L756.37 106.98 L758.1 106.74 L759.83 106.56 L761.56 106.45 L763.29 106.4 L765.02 106.42 L766.75 106.49 L768.48 106.64 L770.21 106.99 L771.94 107.5 L773.66 108.11 L775.39 108.8 L777.12 109.55 L778.85 110.34 L780.58 111.12 L782.31 111.89 L784.04 112.63 L785.77 113.3 L787.5 113.9 L789.23 114.38 L790.95 114.7 L792.68 114.86 L794.41 114.85 L796.14 114.71 L797.87 114.56 L799.6 114.42 L801.33 114.3 L803.06 114.17 L804.79 114.04 L806.52 113.89 L808.24 113.73 L809.97 113.56 L811.7 113.38 L813.43 113.18 L815.16 112.98 L816.89 112.76 L818.62 112.53 L820.35 112.29 L822.08 111.97 L823.81 111.58 L825.53 111.12 L827.26 110.6 L828.99 110.02 L830.72 109.4 L832.45 108.73 L834.18 108.03 L835.91 107.31 L837.64 106.57 L839.37 105.82 L841.1 105.07 L842.82 104.32 L844.55 103.58 L846.28 102.86 L848.01 102.17 L849.74 101.52 L851.47 100.9 L853.2 100.32 L854.93 99.8 L856.66 99.32 L858.39 98.85 L860.11 98.39 L861.84 97.93 L863.57 97.49 L865.3 97.06 L867.03 96.63 L868.76 96.22 L870.49 95.81 L872.22 95.41 L873.95 95.01 L875.68 94.62 L877.4 94.23 L879.13 93.86 L880.86 93.48 L882.59 93.11 L884.32 92.74 L886.05 92.38 L887.78 92.02 L889.51 91.67 L891.24 91.32 L892.97 90.97 L894.69 90.62 L896.42 90.27 L898.15 89.93 L899.88 89.58 L901.61 89.23 L903.34 88.89 L905.07 88.54 L906.8 88.19 L908.53 87.84 L910.26 87.49 L911.98 87.13 L913.71 86.77 L915.44 86.4 L917.17 86.04 L918.9 85.66" stroke="#69be73"/>
<path d="M573.1 279.44 L574.83 279.44 L576.56 279.44 L578.29 279.44 L580.02 279.44 L581.75 279.44 L583.47 279.44 L585.2 279.44 L586.93 279.44 L588.66 279.44 L590.39 279.44 L592.12 279.44 L593.85 279.44 L595.58 279.16 L597.31 278.59 L599.03 277.76 L600.76 276.62 L602.49 275.17 L604.22 273.43 L605.95 271.41 L607.68 269.11 L609.41 265.8 L611.14 260.53 L612.87 254.78 L614.6 250.09 L616.33 246.34 L618.05 242.93 L619.78 239.71 L621.51 236.51 L623.24 233.18 L624.97 229.93 L626.7 226.76 L628.43 223.5 L630.16 219.97 L631.89 215.93 L633.62 210.84 L635.34 204.76 L637.07 198.63 L638.8 192.61 L640.53 186.51 L642.26 181.31 L643.99 177.43 L645.72 174.07 L647.45 171.12 L649.18 168.45 L650.91 165.91 L652.63 163.4 L654.36 160.9 L656.09 158.44 L657.82 156.03 L659.55 153.68 L661.28 151.4 L663.01 149.21 L664.74 147.12 L666.47 145.13 L668.2 143.26 L669.92 141.53 L671.65 139.93 L673.38 138.48 L675.11 137.12 L676.84 135.85 L678.57 134.64 L680.3 133.49 L682.03 132.4 L683.76 131.35 L685.49 130.34 L687.21 129.35 L688.94 128.38 L690.67 127.41 L692.4 126.44 L694.13 125.44 L695.86 124.44 L697.59 123.46 L699.32 122.49 L701.05 121.55 L702.78 120.63 L704.5 119.75 L706.23 118.91 L707.96 118.13 L709.69 117.43 L711.42 116.82 L713.15 116.28 L714.88 115.77 L716.61 115.25 L718.34 114.72 L720.07 114.14 L721.79 113.56 L723.52 113.04 L725.25 112.57 L726.98 112.12 L728.71 111.71 L730.44 111.34 L732.17 111.06 L733.9 110.83 L735.63 110.59 L737.36 110.27 L739.08 109.85 L740.81 109.44 L742.54 109.02 L744.27 108.59 L746 108.15 L747.73 107.71 L749.46 107.28 L751.19 106.87 L752.92 106.47 L754.65 106.1 L756.37 105.79 L758.1 105.54 L759.83 105.35 L761.56 105.22 L763.29 105.15 L765.02 105.13 L766.75 105.17 L768.48 105.31 L770.21 105.63 L771.94 106.12 L773.66 106.73 L775.39 107.43 L777.12 108.2 L778.85 109 L780.58 109.82 L782.31 110.62 L784.04 111.39 L785.77 112.11 L787.5 112.74 L789.23 113.26 L790.95 113.62 L792.68 113.82 L794.41 113.83 L796.14 113.72 L797.87 113.59 L799.6 113.47 L801.33 113.35 L803.06 113.23 L804.79 113.09 L806.52 112.94 L808.24 112.78 L809.97 112.61 L811.7 112.43 L813.43 112.23 L815.16 112.03 L816.89 111.81 L818.62 111.58 L820.35 111.34 L822.08 111.03 L823.81 110.64 L825.53 110.18 L827.26 109.66 L828.99 109.09 L830.72 108.46 L832.45 107.8 L834.18 107.11 L835.91 106.39 L837.64 105.65 L839.37 104.9 L841.1 104.15 L842.82 103.4 L844.55 102.67 L846.28 101.95 L848.01 101.26 L849.74 100.6 L851.47 99.99 L853.2 99.41 L854.93 98.89 L856.66 98.41 L858.39 97.94 L860.11 97.48 L861.84 97.03 L863.57 96.59 L865.3 96.16 L867.03 95.74 L868.76 95.32 L870.49 94.92 L872.22 94.52 L873.95 94.12 L875.68 93.73 L877.4 93.35 L879.13 92.98 L880.86 92.6 L882.59 92.24 L884.32 91.87 L886.05 91.51 L887.78 91.16 L889.51 90.8 L891.24 90.45 L892.97 90.1 L894.69 89.76 L896.42 89.41 L898.15 89.07 L899.88 88.72 L901.61 88.38 L903.34 88.03 L905.07 87.69 L906.8 87.34 L908.53 86.99 L910.26 86.64 L911.98 86.28 L913.71 85.92 L915.44 85.56 L917.17 85.19 L918.9 84.82" stroke="#75c77d"/>
<path d="M573.1 279.43 L574.83 279.43 L576.56 279.43 L578.29 279.43 L580.02 279.43 L581.75 279.43 L583.47 279.43 L585.2 279.43 L586.93 279.43 L588.66 279.43 L590.39 279.43 L592.12 279.43 L593.85 279.43 L595.58 279.14 L597.31 278.58 L599.03 277.75 L600.76 276.6 L602.49 275.15 L604.22 273.4 L605.95 271.37 L607.68 269.07 L609.41 265.74 L611.14 260.46 L612.87 254.7 L614.6 250 L616.33 246.24 L618.05 242.82 L619.78 239.59 L621.51 236.39 L623.24 233.06 L624.97 229.81 L626.7 226.65 L628.43 223.41 L630.16 219.88 L631.89 215.85 L633.62 210.75 L635.34 204.66 L637.07 198.53 L638.8 192.5 L640.53 186.4 L642.26 181.2 L643.99 177.32 L645.72 173.98 L647.45 171.03 L649.18 168.37 L650.91 165.83 L652.63 163.32 L654.36 160.82 L656.09 158.36 L657.82 155.94 L659.55 153.59 L661.28 151.32 L663.01 149.12 L664.74 147.03 L666.47 145.04 L668.2 143.17 L669.92 141.43 L671.65 139.83 L673.38 138.38 L675.11 137.02 L676.84 135.74 L678.57 134.53 L680.3 133.39 L682.03 132.29 L683.76 131.24 L685.49 130.23 L687.21 129.24 L688.94 128.26 L690.67 127.3 L692.4 126.33 L694.13 125.33 L695.86 124.34 L697.59 123.35 L699.32 122.37 L701.05 121.41 L702.78 120.46 L704.5 119.55 L706.23 118.67 L707.96 117.85 L709.69 117.11 L711.42 116.43 L713.15 115.83 L714.88 115.26 L716.61 114.68 L718.34 114.09 L720.07 113.47 L721.79 112.85 L723.52 112.28 L725.25 111.75 L726.98 111.25 L728.71 110.77 L730.44 110.34 L732.17 109.99 L733.9 109.69 L735.63 109.38 L737.36 109.02 L739.08 108.59 L740.81 108.18 L742.54 107.77 L744.27 107.34 L746 106.91 L747.73 106.48 L749.46 106.06 L751.19 105.65 L752.92 105.27 L754.65 104.91 L756.37 104.59 L758.1 104.34 L759.83 104.14 L761.56 103.99 L763.29 103.9 L765.02 103.86 L766.75 103.88 L768.48 103.99 L770.21 104.3 L771.94 104.78 L773.66 105.38 L775.39 106.09 L777.12 106.88 L778.85 107.7 L780.58 108.55 L782.31 109.39 L784.04 110.2 L785.77 110.96 L787.5 111.63 L789.23 112.18 L790.95 112.59 L792.68 112.82 L794.41 112.86 L796.14 112.76 L797.87 112.66 L799.6 112.55 L801.33 112.43 L803.06 112.31 L804.79 112.18 L806.52 112.03 L808.24 111.87 L809.97 111.7 L811.7 111.51 L813.43 111.31 L815.16 111.11 L816.89 110.89 L818.62 110.66 L820.35 110.42 L822.08 110.11 L823.81 109.73 L825.53 109.27 L827.26 108.76 L828.99 108.19 L830.72 107.57 L832.45 106.91 L834.18 106.22 L835.91 105.5 L837.64 104.76 L839.37 104.02 L841.1 103.27 L842.82 102.52 L844.55 101.79 L846.28 101.07 L848.01 100.38 L849.74 99.72 L851.47 99.11 L853.2 98.53 L854.93 98.01 L856.66 97.53 L858.39 97.06 L860.11 96.61 L861.84 96.16 L863.57 95.72 L865.3 95.3 L867.03 94.88 L868.76 94.46 L870.49 94.06 L872.22 93.66 L873.95 93.27 L875.68 92.88 L877.4 92.5 L879.13 92.13 L880.86 91.76 L882.59 91.39 L884.32 91.03 L886.05 90.67 L887.78 90.32 L889.51 89.97 L891.24 89.62 L892.97 89.27 L894.69 88.93 L896.42 88.58 L898.15 88.24 L899.88 87.9 L901.61 87.55 L903.34 87.21 L905.07 86.86 L906.8 86.52 L908.53 86.17 L910.26 85.82 L911.98 85.46 L913.71 85.1 L915.44 84.74 L917.17 84.37 L918.9 84" stroke="#80d087"/>
<path d="M573.1 279.42 L574.83 279.42 L576.56 279.42 L578.29 279.42 L580.02 279.42 L581.75 279.42 L583.47 279.42 L585.2 279.42 L586.93 279.42 L588.66 279.42 L590.39 279.42 L592.12 279.42 L593.85 279.42 L595.58 279.13 L597.31 278.57 L599.03 277.73 L600.76 276.58 L602.49 275.13 L604.22 273.38 L605.95 271.34 L607.68 269.03 L609.41 265.7 L611.14 260.41 L612.87 254.63 L614.6 249.92 L616.33 246.16 L618.05 242.74 L619.78 239.5 L621.51 236.3 L623.24 232.96 L624.97 229.71 L626.7 226.57 L628.43 223.33 L630.16 219.81 L631.89 215.78 L633.62 210.68 L635.34 204.58 L637.07 198.45 L638.8 192.42 L640.53 186.3 L642.26 181.1 L643.99 177.24 L645.72 173.9 L647.45 170.97 L649.18 168.3 L650.91 165.77 L652.63 163.25 L654.36 160.75 L656.09 158.29 L657.82 155.88 L659.55 153.53 L661.28 151.25 L663.01 149.05 L664.74 146.95 L666.47 144.96 L668.2 143.09 L669.92 141.35 L671.65 139.75 L673.38 138.3 L675.11 136.94 L676.84 135.66 L678.57 134.45 L680.3 133.3 L682.03 132.21 L683.76 131.16 L685.49 130.14 L687.21 129.15 L688.94 128.17 L690.67 127.21 L692.4 126.24 L694.13 125.25 L695.86 124.25 L697.59 123.26 L699.32 122.26 L701.05 121.28 L702.78 120.31 L704.5 119.36 L706.23 118.45 L707.96 117.58 L709.69 116.78 L711.42 116.05 L713.15 115.39 L714.88 114.75 L716.61 114.12 L718.34 113.47 L720.07 112.8 L721.79 112.14 L723.52 111.51 L725.25 110.93 L726.98 110.37 L728.71 109.84 L730.44 109.34 L732.17 108.93 L733.9 108.55 L735.63 108.18 L737.36 107.78 L739.08 107.34 L740.81 106.93 L742.54 106.52 L744.27 106.1 L746 105.67 L747.73 105.25 L749.46 104.84 L751.19 104.44 L752.92 104.06 L754.65 103.71 L756.37 103.4 L758.1 103.14 L759.83 102.93 L761.56 102.77 L763.29 102.66 L765.02 102.6 L766.75 102.6 L768.48 102.69 L770.21 102.99 L771.94 103.46 L773.66 104.07 L775.39 104.79 L777.12 105.59 L778.85 106.45 L780.58 107.33 L782.31 108.2 L784.04 109.05 L785.77 109.84 L787.5 110.55 L789.23 111.14 L790.95 111.58 L792.68 111.85 L794.41 111.92 L796.14 111.84 L797.87 111.75 L799.6 111.66 L801.33 111.55 L803.06 111.43 L804.79 111.3 L806.52 111.15 L808.24 110.99 L809.97 110.81 L811.7 110.63 L813.43 110.43 L815.16 110.22 L816.89 110 L818.62 109.77 L820.35 109.53 L822.08 109.23 L823.81 108.85 L825.53 108.4 L827.26 107.88 L828.99 107.31 L830.72 106.7 L832.45 106.04 L834.18 105.35 L835.91 104.64 L837.64 103.91 L839.37 103.16 L841.1 102.41 L842.82 101.67 L844.55 100.94 L846.28 100.22 L848.01 99.53 L849.74 98.87 L851.47 98.26 L853.2 97.68 L854.93 97.16 L856.66 96.68 L858.39 96.22 L860.11 95.76 L861.84 95.32 L863.57 94.88 L865.3 94.46 L867.03 94.04 L868.76 93.63 L870.49 93.23 L872.22 92.83 L873.95 92.44 L875.68 92.06 L877.4 91.68 L879.13 91.31 L880.86 90.94 L882.59 90.58 L884.32 90.22 L886.05 89.86 L887.78 89.51 L889.51 89.16 L891.24 88.81 L892.97 88.47 L894.69 88.13 L896.42 87.78 L898.15 87.44 L899.88 87.1 L901.61 86.76 L903.34 86.41 L905.07 86.07 L906.8 85.72 L908.53 85.38 L910.26 85.02 L911.98 84.67 L913.71 84.31 L915.44 83.95 L917.17 83.59 L918.9 83.22" stroke="#8cda91"/>
<path d="M573.1 279.42 L574.83 279.42 L576.56 279.42 L578.29 279.42 L580.02 279.42 L581.75 279.42 L583.47 279.42 L585.2 279.42 L586.93 279.42 L588.66 279.42 L590.39 279.42 L592.12 279.42 L593.85 279.42 L595.58 279.13 L597.31 278.56 L599.03 277.72 L600.76 276.57 L602.49 275.11 L604.22 273.36 L605.95 271.32 L607.68 269 L609.41 265.67 L611.14 260.36 L612.87 254.58 L614.6 249.86 L616.33 246.09 L618.05 242.67 L619.78 239.43 L621.51 236.22 L623.24 232.89 L624.97 229.63 L626.7 226.5 L628.43 223.27 L630.16 219.76 L631.89 215.72 L633.62 210.62 L635.34 204.52 L637.07 198.38 L638.8 192.35 L640.53 186.23 L642.26 181.03 L643.99 177.17 L645.72 173.84 L647.45 170.91 L649.18 168.25 L650.91 165.72 L652.63 163.2 L654.36 160.7 L656.09 158.24 L657.82 155.83 L659.55 153.47 L661.28 151.19 L663.01 148.99 L664.74 146.89 L666.47 144.9 L668.2 143.03 L669.92 141.29 L671.65 139.69 L673.38 138.24 L675.11 136.87 L676.84 135.59 L678.57 134.38 L680.3 133.23 L682.03 132.14 L683.76 131.09 L685.49 130.07 L687.21 129.08 L688.94 128.1 L690.67 127.13 L692.4 126.17 L694.13 125.18 L695.86 124.19 L697.59 123.18 L699.32 122.17 L701.05 121.16 L702.78 120.16 L704.5 119.18 L706.23 118.23 L707.96 117.32 L709.69 116.46 L711.42 115.67 L713.15 114.95 L714.88 114.25 L716.61 113.55 L718.34 112.85 L720.07 112.13 L721.79 111.42 L723.52 110.75 L725.25 110.1 L726.98 109.49 L728.71 108.9 L730.44 108.35 L732.17 107.86 L733.9 107.41 L735.63 106.97 L737.36 106.54 L739.08 106.09 L740.81 105.68 L742.54 105.27 L744.27 104.85 L746 104.43 L747.73 104.02 L749.46 103.62 L751.19 103.23 L752.92 102.86 L754.65 102.52 L756.37 102.21 L758.1 101.95 L759.83 101.73 L761.56 101.55 L763.29 101.43 L765.02 101.36 L766.75 101.34 L768.48 101.41 L770.21 101.7 L771.94 102.16 L773.66 102.78 L775.39 103.51 L777.12 104.34 L778.85 105.22 L780.58 106.13 L782.31 107.05 L784.04 107.93 L785.77 108.76 L787.5 109.51 L789.23 110.14 L790.95 110.61 L792.68 110.91 L794.41 111 L796.14 110.95 L797.87 110.88 L799.6 110.79 L801.33 110.69 L803.06 110.58 L804.79 110.45 L806.52 110.3 L808.24 110.14 L809.97 109.96 L811.7 109.77 L813.43 109.57 L815.16 109.36 L816.89 109.14 L818.62 108.91 L820.35 108.68 L822.08 108.37 L823.81 108 L825.53 107.55 L827.26 107.04 L828.99 106.47 L830.72 105.86 L832.45 105.21 L834.18 104.52 L835.91 103.81 L837.64 103.08 L839.37 102.33 L841.1 101.59 L842.82 100.85 L844.55 100.11 L846.28 99.4 L848.01 98.71 L849.74 98.05 L851.47 97.43 L853.2 96.86 L854.93 96.34 L856.66 95.86 L858.39 95.4 L860.11 94.95 L861.84 94.51 L863.57 94.07 L865.3 93.65 L867.03 93.23 L868.76 92.82 L870.49 92.42 L872.22 92.03 L873.95 91.64 L875.68 91.26 L877.4 90.89 L879.13 90.52 L880.86 90.15 L882.59 89.79 L884.32 89.43 L886.05 89.08 L887.78 88.73 L889.51 88.38 L891.24 88.03 L892.97 87.69 L894.69 87.35 L896.42 87.01 L898.15 86.67 L899.88 86.33 L901.61 85.99 L903.34 85.64 L905.07 85.3 L906.8 84.96 L908.53 84.61 L910.26 84.26 L911.98 83.91 L913.71 83.55 L915.44 83.19 L917.17 82.82 L918.9 82.45" stroke="#98e39b"/>
<path d="M573.1 279.41 L574.83 279.41 L576.56 279.41 L578.29 279.41 L580.02 279.41 L581.75 279.41 L583.47 279.41 L585.2 279.41 L586.93 279.41 L588.66 279.41 L590.39 279.41 L592.12 279.41 L593.85 279.41 L595.58 279.12 L597.31 278.55 L599.03 277.71 L600.76 276.56 L602.49 275.1 L604.22 273.34 L605.95 271.3 L607.68 268.98 L609.41 265.64 L611.14 260.33 L612.87 254.54 L614.6 249.82 L616.33 246.04 L618.05 242.61 L619.78 239.37 L621.51 236.16 L623.24 232.82 L624.97 229.57 L626.7 226.44 L628.43 223.23 L630.16 219.71 L631.89 215.68 L633.62 210.57 L635.34 204.47 L637.07 198.33 L638.8 192.29 L640.53 186.17 L642.26 180.97 L643.99 177.11 L645.72 173.8 L647.45 170.87 L649.18 168.21 L650.91 165.68 L652.63 163.16 L654.36 160.66 L656.09 158.2 L657.82 155.78 L659.55 153.43 L661.28 151.15 L663.01 148.95 L664.74 146.85 L666.47 144.85 L668.2 142.98 L669.92 141.24 L671.65 139.64 L673.38 138.18 L675.11 136.82 L676.84 135.54 L678.57 134.33 L680.3 133.18 L682.03 132.08 L683.76 131.03 L685.49 130.01 L687.21 129.02 L688.94 128.04 L690.67 127.08 L692.4 126.11 L694.13 125.13 L695.86 124.13 L697.59 123.12 L699.32 122.09 L701.05 121.05 L702.78 120.02 L704.5 119 L706.23 118.01 L707.96 117.06 L709.69 116.15 L711.42 115.3 L713.15 114.51 L714.88 113.75 L716.61 112.98 L718.34 112.22 L720.07 111.46 L721.79 110.71 L723.52 109.98 L725.25 109.28 L726.98 108.61 L728.71 107.96 L730.44 107.35 L732.17 106.79 L733.9 106.26 L735.63 105.77 L737.36 105.29 L739.08 104.84 L740.81 104.42 L742.54 104.01 L744.27 103.6 L746 103.19 L747.73 102.79 L749.46 102.39 L751.19 102.01 L752.92 101.65 L754.65 101.32 L756.37 101.02 L758.1 100.75 L759.83 100.53 L761.56 100.34 L763.29 100.21 L765.02 100.12 L766.75 100.08 L768.48 100.15 L770.21 100.42 L771.94 100.89 L773.66 101.52 L775.39 102.27 L777.12 103.12 L778.85 104.03 L780.58 104.97 L782.31 105.93 L784.04 106.85 L785.77 107.72 L787.5 108.5 L789.23 109.16 L790.95 109.67 L792.68 110 L794.41 110.12 L796.14 110.09 L797.87 110.04 L799.6 109.96 L801.33 109.87 L803.06 109.75 L804.79 109.62 L806.52 109.47 L808.24 109.31 L809.97 109.13 L811.7 108.94 L813.43 108.74 L815.16 108.53 L816.89 108.31 L818.62 108.08 L820.35 107.85 L822.08 107.55 L823.81 107.17 L825.53 106.73 L827.26 106.22 L828.99 105.66 L830.72 105.05 L832.45 104.4 L834.18 103.71 L835.91 103 L837.64 102.27 L839.37 101.53 L841.1 100.79 L842.82 100.05 L844.55 99.32 L846.28 98.6 L848.01 97.91 L849.74 97.26 L851.47 96.64 L853.2 96.06 L854.93 95.54 L856.66 95.07 L858.39 94.61 L860.11 94.16 L861.84 93.72 L863.57 93.29 L865.3 92.86 L867.03 92.45 L868.76 92.04 L870.49 91.65 L872.22 91.25 L873.95 90.87 L875.68 90.49 L877.4 90.12 L879.13 89.75 L880.86 89.38 L882.59 89.03 L884.32 88.67 L886.05 88.32 L887.78 87.97 L889.51 87.62 L891.24 87.28 L892.97 86.94 L894.69 86.6 L896.42 86.26 L898.15 85.92 L899.88 85.58 L901.61 85.24 L903.34 84.9 L905.07 84.56 L906.8 84.21 L908.53 83.87 L910.26 83.52 L911.98 83.17 L913.71 82.81 L915.44 82.45 L917.17 82.09 L918.9 81.72" stroke="#a3eca5"/>
<path d="M573.1 279.41 L574.83 279.41 L576.56 279.41 L578.29 279.41 L580.02 279.41 L581.75 279.41 L583.47 279.41 L585.2 279.41 L586.93 279.41 L588.66 279.41 L590.39 279.41 L592.12 279.41 L593.85 279.41 L595.58 279.11 L597.31 278.55 L599.03 277.71 L600.76 276.55 L602.49 275.09 L604.22 273.33 L605.95 271.29 L607.68 268.97 L609.41 265.62 L611.14 260.3 L612.87 254.5 L614.6 249.78 L616.33 246 L618.05 242.57 L619.78 239.33 L621.51 236.11 L623.24 232.77 L624.97 229.52 L626.7 226.4 L628.43 223.19 L630.16 219.68 L631.89 215.64 L633.62 210.54 L635.34 204.43 L637.07 198.29 L638.8 192.25 L640.53 186.13 L642.26 180.92 L643.99 177.07 L645.72 173.76 L647.45 170.84 L649.18 168.18 L650.91 165.65 L652.63 163.13 L654.36 160.63 L656.09 158.17 L657.82 155.75 L659.55 153.39 L661.28 151.11 L663.01 148.91 L664.74 146.81 L666.47 144.82 L668.2 142.94 L669.92 141.2 L671.65 139.6 L673.38 138.14 L675.11 136.78 L676.84 135.5 L678.57 134.29 L680.3 133.14 L682.03 132.04 L683.76 130.98 L685.49 129.97 L687.21 128.97 L688.94 128 L690.67 127.03 L692.4 126.06 L694.13 125.08 L695.86 124.09 L697.59 123.06 L699.32 122.01 L701.05 120.95 L702.78 119.89 L704.5 118.83 L706.23 117.8 L707.96 116.8 L709.69 115.84 L711.42 114.93 L713.15 114.08 L714.88 113.25 L716.61 112.42 L718.34 111.6 L720.07 110.79 L721.79 110 L723.52 109.22 L725.25 108.46 L726.98 107.73 L728.71 107.03 L730.44 106.36 L732.17 105.72 L733.9 105.12 L735.63 104.56 L737.36 104.05 L739.08 103.58 L740.81 103.17 L742.54 102.76 L744.27 102.36 L746 101.95 L747.73 101.56 L749.46 101.17 L751.19 100.8 L752.92 100.45 L754.65 100.12 L756.37 99.83 L758.1 99.56 L759.83 99.33 L761.56 99.14 L763.29 98.99 L765.02 98.89 L766.75 98.85 L768.48 98.9 L770.21 99.17 L771.94 99.64 L773.66 100.28 L775.39 101.05 L777.12 101.92 L778.85 102.87 L780.58 103.85 L782.31 104.84 L784.04 105.8 L785.77 106.7 L787.5 107.52 L789.23 108.22 L790.95 108.76 L792.68 109.12 L794.41 109.27 L796.14 109.26 L797.87 109.22 L799.6 109.15 L801.33 109.06 L803.06 108.95 L804.79 108.82 L806.52 108.67 L808.24 108.51 L809.97 108.33 L811.7 108.14 L813.43 107.93 L815.16 107.72 L816.89 107.5 L818.62 107.28 L820.35 107.04 L822.08 106.75 L823.81 106.37 L825.53 105.93 L827.26 105.43 L828.99 104.87 L830.72 104.26 L832.45 103.61 L834.18 102.93 L835.91 102.22 L837.64 101.5 L839.37 100.76 L841.1 100.01 L842.82 99.27 L844.55 98.54 L846.28 97.83 L848.01 97.14 L849.74 96.48 L851.47 95.87 L853.2 95.29 L854.93 94.77 L856.66 94.3 L858.39 93.84 L860.11 93.39 L861.84 92.96 L863.57 92.53 L865.3 92.11 L867.03 91.69 L868.76 91.29 L870.49 90.89 L872.22 90.5 L873.95 90.12 L875.68 89.74 L877.4 89.37 L879.13 89 L880.86 88.64 L882.59 88.29 L884.32 87.93 L886.05 87.58 L887.78 87.24 L889.51 86.89 L891.24 86.55 L892.97 86.21 L894.69 85.87 L896.42 85.53 L898.15 85.19 L899.88 84.86 L901.61 84.52 L903.34 84.18 L905.07 83.84 L906.8 83.49 L908.53 83.15 L910.26 82.8 L911.98 82.45 L913.71 82.09 L915.44 81.73 L917.17 81.37 L918.9 81" stroke="#aff5af"/>
</g>
<g clip-path="url(#clipc)" fill="none" stroke-width="2.0" stroke-linejoin="round" shape-rendering="crispEdges">
<path d="M1037 275.28 L1038.72 275.36 L1040.44 275.42 L1042.16 275.49 L1043.88 275.56 L1045.6 275.64 L1047.32 275.75 L1049.04 275.88 L1050.76 276.1 L1052.48 276.4 L1054.19 276.76 L1055.91 277.15 L1057.63 277.54 L1059.35 277.91 L1061.07 278.24 L1062.79 278.58 L1064.51 278.92 L1066.23 279.26 L1067.95 279.59 L1069.67 279.91 L1071.39 280.21 L1073.11 280.56 L1074.83 280.76 L1076.55 276.72 L1078.27 266.9 L1079.99 254.72 L1081.71 243.62 L1083.43 234.4 L1085.15 225.09 L1086.87 217.11 L1088.59 211.6 L1090.3 207.17 L1092.02 203.36 L1093.74 200.02 L1095.46 197.05 L1097.18 194.3 L1098.9 191.65 L1100.62 189.04 L1102.34 186.56 L1104.06 184.31 L1105.78 182.41 L1107.5 180.97 L1109.22 179.96 L1110.94 179.12 L1112.66 178.41 L1114.38 177.78 L1116.1 177.21 L1117.82 176.66 L1119.54 176.09 L1121.26 175.56 L1122.98 175.11 L1124.69 174.69 L1126.41 174.26 L1128.13 173.78 L1129.85 173.19 L1131.57 172.45 L1133.29 171.39 L1135.01 169.94 L1136.73 168.19 L1138.45 166.22 L1140.17 164.09 L1141.89 161.7 L1143.61 158.61 L1145.33 155.34 L1147.05 152.53 L1148.77 150.02 L1150.49 147.41 L1152.21 144.96 L1153.93 142.91 L1155.65 141.52 L1157.37 141.02 L1159.08 141.22 L1160.8 141.76 L1162.52 142.59 L1164.24 143.68 L1165.96 144.97 L1167.68 146.42 L1169.4 147.98 L1171.12 149.62 L1172.84 151.27 L1174.56 152.91 L1176.28 154.48 L1178 155.93 L1179.72 157.23 L1181.44 158.32 L1183.16 159.16 L1184.88 159.71 L1186.6 159.93 L1188.32 159.79 L1190.04 159.36 L1191.75 158.69 L1193.47 157.84 L1195.19 156.86 L1196.91 155.79 L1198.63 154.69 L1200.35 153.61 L1202.07 152.61 L1203.79 151.73 L1205.51 151.02 L1207.23 150.54 L1208.95 150.34 L1210.67 150.37 L1212.39 150.49 L1214.11 150.69 L1215.83 150.96 L1217.55 151.29 L1219.27 151.67 L1220.99 152.1 L1222.71 152.57 L1224.43 153.06 L1226.14 153.57 L1227.86 154.09 L1229.58 154.62 L1231.3 155.21 L1233.02 156.03 L1234.74 157.03 L1236.46 158.18 L1238.18 159.43 L1239.9 160.75 L1241.62 162.11 L1243.34 163.46 L1245.06 164.76 L1246.78 165.98 L1248.5 167.08 L1250.22 168.02 L1251.94 168.76 L1253.66 169.27 L1255.38 169.5 L1257.1 169.42 L1258.82 169.01 L1260.53 168.31 L1262.25 167.38 L1263.97 166.26 L1265.69 165.01 L1267.41 163.66 L1269.13 162.28 L1270.85 160.91 L1272.57 159.59 L1274.29 158.38 L1276.01 157.32 L1277.73 156.47 L1279.45 155.87 L1281.17 155.57 L1282.89 155.57 L1284.61 155.75 L1286.33 156.04 L1288.05 156.42 L1289.77 156.86 L1291.49 157.31 L1293.21 157.75 L1294.92 158.15 L1296.64 158.49 L1298.36 158.87 L1300.08 159.28 L1301.8 159.68 L1303.52 160.06 L1305.24 160.38 L1306.96 160.61 L1308.68 160.74 L1310.4 160.66 L1312.12 160.15 L1313.84 159.24 L1315.56 158 L1317.28 156.48 L1319 154.76 L1320.72 152.88 L1322.44 150.92 L1324.16 148.93 L1325.88 146.99 L1327.6 145.15 L1329.32 143.47 L1331.03 141.96 L1332.75 140.26 L1334.47 138.42 L1336.19 136.56 L1337.91 134.81 L1339.63 133.31 L1341.35 132.17 L1343.07 131.53 L1344.79 131.43 L1346.51 131.43 L1348.23 131.43 L1349.95 131.43 L1351.67 131.43 L1353.39 131.43 L1355.11 131.43 L1356.83 131.43 L1358.55 131.43 L1360.27 131.42 L1361.99 131.34 L1363.71 131.19 L1365.42 130.97 L1367.14 130.69 L1368.86 130.37 L1370.58 130.02 L1372.3 129.65 L1374.02 129.27 L1375.74 128.89 L1377.46 128.52 L1379.18 128.18 L1380.9 127.87" stroke="#730000"/>
<path d="M1037 276.7 L1038.72 276.75 L1040.44 276.79 L1042.16 276.83 L1043.88 276.88 L1045.6 276.93 L1047.32 277 L1049.04 277.09 L1050.76 277.26 L1052.48 277.48 L1054.19 277.75 L1055.91 278.04 L1057.63 278.33 L1059.35 278.6 L1061.07 278.83 L1062.79 279.05 L1064.51 279.26 L1066.23 279.46 L1067.95 279.63 L1069.67 279.75 L1071.39 279.63 L1073.11 279.23 L1074.83 277.78 L1076.55 272.37 L1078.27 262.42 L1079.99 250.84 L1081.71 240.17 L1083.43 231.16 L1085.15 222.31 L1086.87 214.75 L1088.59 209.3 L1090.3 204.83 L1092.02 200.99 L1093.74 197.67 L1095.46 194.77 L1097.18 192.13 L1098.9 189.63 L1100.62 187.19 L1102.34 184.85 L1104.06 182.67 L1105.78 180.73 L1107.5 179.14 L1109.22 177.89 L1110.94 176.75 L1112.66 175.68 L1114.38 174.62 L1116.1 173.51 L1117.82 172.22 L1119.54 170.79 L1121.26 169.35 L1122.98 168.04 L1124.69 166.88 L1126.41 165.94 L1128.13 165.15 L1129.85 164.32 L1131.57 163.4 L1133.29 162.25 L1135.01 160.81 L1136.73 159.15 L1138.45 157.32 L1140.17 155.38 L1141.89 153.24 L1143.61 150.53 L1145.33 147.69 L1147.05 145.21 L1148.77 142.97 L1150.49 140.65 L1152.21 138.45 L1153.93 136.6 L1155.65 135.28 L1157.37 134.72 L1159.08 134.75 L1160.8 135.09 L1162.52 135.69 L1164.24 136.54 L1165.96 137.58 L1167.68 138.78 L1169.4 140.08 L1171.12 141.45 L1172.84 142.84 L1174.56 144.22 L1176.28 145.54 L1178 146.77 L1179.72 147.85 L1181.44 148.76 L1183.16 149.45 L1184.88 149.88 L1186.6 150.01 L1188.32 149.85 L1190.04 149.45 L1191.75 148.86 L1193.47 148.11 L1195.19 147.26 L1196.91 146.35 L1198.63 145.41 L1200.35 144.49 L1202.07 143.64 L1203.79 142.9 L1205.51 142.31 L1207.23 141.92 L1208.95 141.77 L1210.67 141.81 L1212.39 141.94 L1214.11 142.14 L1215.83 142.39 L1217.55 142.71 L1219.27 143.07 L1220.99 143.46 L1222.71 143.9 L1224.43 144.35 L1226.14 144.83 L1227.86 145.31 L1229.58 145.8 L1231.3 146.35 L1233.02 147.09 L1234.74 148 L1236.46 149.02 L1238.18 150.14 L1239.9 151.32 L1241.62 152.53 L1243.34 153.73 L1245.06 154.89 L1246.78 155.97 L1248.5 156.95 L1250.22 157.78 L1251.94 158.43 L1253.66 158.88 L1255.38 159.08 L1257.1 159 L1258.82 158.63 L1260.53 158.02 L1262.25 157.21 L1263.97 156.23 L1265.69 155.14 L1267.41 153.97 L1269.13 152.76 L1270.85 151.56 L1272.57 150.41 L1274.29 149.35 L1276.01 148.43 L1277.73 147.69 L1279.45 147.16 L1281.17 146.9 L1282.89 146.91 L1284.61 147.06 L1286.33 147.31 L1288.05 147.65 L1289.77 148.03 L1291.49 148.42 L1293.21 148.81 L1294.92 149.15 L1296.64 149.45 L1298.36 149.78 L1300.08 150.14 L1301.8 150.49 L1303.52 150.82 L1305.24 151.1 L1306.96 151.3 L1308.68 151.41 L1310.4 151.35 L1312.12 150.9 L1313.84 150.11 L1315.56 149.02 L1317.28 147.7 L1319 146.19 L1320.72 144.54 L1322.44 142.83 L1324.16 141.08 L1325.88 139.27 L1327.6 137.45 L1329.32 135.69 L1331.03 134.03 L1332.75 132.19 L1334.47 130.23 L1336.19 128.27 L1337.91 126.44 L1339.63 124.86 L1341.35 123.64 L1343.07 122.89 L1344.79 122.66 L1346.51 122.59 L1348.23 122.57 L1349.95 122.55 L1351.67 122.53 L1353.39 122.51 L1355.11 122.49 L1356.83 122.47 L1358.55 122.45 L1360.27 122.42 L1361.99 122.32 L1363.71 122.17 L1365.42 121.95 L1367.14 121.69 L1368.86 121.4 L1370.58 121.08 L1372.3 120.74 L1374.02 120.39 L1375.74 120.05 L1377.46 119.71 L1379.18 119.4 L1380.9 119.11" stroke="#7c0300"/>
<path d="M1037 277.46 L1038.72 277.49 L1040.44 277.52 L1042.16 277.55 L1043.88 277.58 L1045.6 277.62 L1047.32 277.67 L1049.04 277.74 L1050.76 277.88 L1052.48 278.06 L1054.19 278.28 L1055.91 278.52 L1057.63 278.76 L1059.35 278.97 L1061.07 279.14 L1062.79 279.3 L1064.51 279.44 L1066.23 279.56 L1067.95 279.65 L1069.67 279.67 L1071.39 279.32 L1073.11 278.52 L1074.83 276.18 L1076.55 270.04 L1078.27 260.02 L1079.99 248.77 L1081.71 238.33 L1083.43 229.43 L1085.15 220.82 L1086.87 213.49 L1088.59 208.06 L1090.3 203.58 L1092.02 199.72 L1093.74 196.42 L1095.46 193.56 L1097.18 190.98 L1098.9 188.55 L1100.62 186.2 L1102.34 183.93 L1104.06 181.79 L1105.78 179.83 L1107.5 178.16 L1109.22 176.78 L1110.94 175.48 L1112.66 174.22 L1114.38 172.93 L1116.1 171.53 L1117.82 169.84 L1119.54 167.95 L1121.26 166.03 L1122.98 164.25 L1124.69 162.7 L1126.41 161.49 L1128.13 160.53 L1129.85 159.57 L1131.57 158.56 L1133.29 157.36 L1135.01 155.93 L1136.73 154.32 L1138.45 152.57 L1140.17 150.72 L1141.89 148.71 L1143.61 146.2 L1145.33 143.57 L1147.05 141.25 L1148.77 139.14 L1150.49 136.95 L1152.21 134.88 L1153.93 133.1 L1155.65 131.8 L1157.37 131.18 L1159.08 131.08 L1160.8 131.27 L1162.52 131.71 L1164.24 132.37 L1165.96 133.23 L1167.68 134.24 L1169.4 135.34 L1171.12 136.5 L1172.84 137.69 L1174.56 138.87 L1176.28 140 L1178 141.04 L1179.72 141.97 L1181.44 142.74 L1183.16 143.31 L1184.88 143.65 L1186.6 143.73 L1188.32 143.55 L1190.04 143.16 L1191.75 142.61 L1193.47 141.92 L1195.19 141.14 L1196.91 140.31 L1198.63 139.46 L1200.35 138.63 L1202.07 137.87 L1203.79 137.19 L1205.51 136.66 L1207.23 136.3 L1208.95 136.16 L1210.67 136.19 L1212.39 136.3 L1214.11 136.47 L1215.83 136.69 L1217.55 136.96 L1219.27 137.27 L1220.99 137.63 L1222.71 138.01 L1224.43 138.41 L1226.14 138.83 L1227.86 139.26 L1229.58 139.69 L1231.3 140.18 L1233.02 140.84 L1234.74 141.64 L1236.46 142.56 L1238.18 143.56 L1239.9 144.61 L1241.62 145.69 L1243.34 146.76 L1245.06 147.8 L1246.78 148.76 L1248.5 149.63 L1250.22 150.37 L1251.94 150.96 L1253.66 151.35 L1255.38 151.52 L1257.1 151.45 L1258.82 151.12 L1260.53 150.57 L1262.25 149.84 L1263.97 148.97 L1265.69 147.99 L1267.41 146.94 L1269.13 145.86 L1270.85 144.79 L1272.57 143.76 L1274.29 142.81 L1276.01 141.99 L1277.73 141.32 L1279.45 140.85 L1281.17 140.62 L1282.89 140.63 L1284.61 140.76 L1286.33 140.99 L1288.05 141.29 L1289.77 141.63 L1291.49 141.98 L1293.21 142.33 L1294.92 142.63 L1296.64 142.9 L1298.36 143.2 L1300.08 143.52 L1301.8 143.83 L1303.52 144.13 L1305.24 144.38 L1306.96 144.56 L1308.68 144.66 L1310.4 144.6 L1312.12 144.2 L1313.84 143.49 L1315.56 142.52 L1317.28 141.33 L1319 139.98 L1320.72 138.51 L1322.44 136.97 L1324.16 135.4 L1325.88 133.71 L1327.6 131.96 L1329.32 130.23 L1331.03 128.56 L1332.75 126.71 L1334.47 124.75 L1336.19 122.81 L1337.91 121.01 L1339.63 119.45 L1341.35 118.23 L1343.07 117.45 L1344.79 117.16 L1346.51 117.06 L1348.23 117.03 L1349.95 117 L1351.67 116.97 L1353.39 116.93 L1355.11 116.9 L1356.83 116.87 L1358.55 116.83 L1360.27 116.78 L1361.99 116.68 L1363.71 116.52 L1365.42 116.31 L1367.14 116.07 L1368.86 115.79 L1370.58 115.48 L1372.3 115.16 L1374.02 114.84 L1375.74 114.51 L1377.46 114.2 L1379.18 113.9 L1380.9 113.64" stroke="#860600"/>
<path d="M1037 278.12 L1038.72 278.14 L1040.44 278.15 L1042.16 278.17 L1043.88 278.19 L1045.6 278.22 L1047.32 278.26 L1049.04 278.31 L1050.76 278.41 L1052.48 278.57 L1054.19 278.75 L1055.91 278.94 L1057.63 279.13 L1059.35 279.29 L1061.07 279.41 L1062.79 279.52 L1064.51 279.6 L1066.23 279.65 L1067.95 279.67 L1069.67 279.6 L1071.39 279.05 L1073.11 277.9 L1074.83 274.8 L1076.55 268.01 L1078.27 257.94 L1079.99 246.97 L1081.71 236.72 L1083.43 227.93 L1085.15 219.52 L1086.87 212.39 L1088.59 206.99 L1090.3 202.49 L1092.02 198.62 L1093.74 195.33 L1095.46 192.5 L1097.18 189.97 L1098.9 187.62 L1100.62 185.33 L1102.34 183.13 L1104.06 181.03 L1105.78 179.05 L1107.5 177.31 L1109.22 175.82 L1110.94 174.38 L1112.66 172.95 L1114.38 171.47 L1116.1 169.81 L1117.82 167.77 L1119.54 165.49 L1121.26 163.15 L1122.98 160.96 L1124.69 159.07 L1126.41 157.62 L1128.13 156.52 L1129.85 155.44 L1131.57 154.35 L1133.29 153.11 L1135.01 151.69 L1136.73 150.12 L1138.45 148.43 L1140.17 146.68 L1141.89 144.78 L1143.61 142.45 L1145.33 140.01 L1147.05 137.85 L1148.77 135.87 L1150.49 133.82 L1152.21 131.87 L1153.93 130.18 L1155.65 128.93 L1157.37 128.28 L1159.08 128.11 L1160.8 128.2 L1162.52 128.54 L1164.24 129.1 L1165.96 129.85 L1167.68 130.75 L1169.4 131.74 L1171.12 132.79 L1172.84 133.86 L1174.56 134.93 L1176.28 135.95 L1178 136.9 L1179.72 137.73 L1181.44 138.42 L1183.16 138.93 L1184.88 139.22 L1186.6 139.26 L1188.32 139.06 L1190.04 138.68 L1191.75 138.15 L1193.47 137.5 L1195.19 136.76 L1196.91 135.98 L1198.63 135.18 L1200.35 134.4 L1202.07 133.68 L1203.79 133.04 L1205.51 132.53 L1207.23 132.18 L1208.95 132.02 L1210.67 132.03 L1212.39 132.1 L1214.11 132.22 L1215.83 132.4 L1217.55 132.62 L1219.27 132.88 L1220.99 133.17 L1222.71 133.49 L1224.43 133.83 L1226.14 134.18 L1227.86 134.55 L1229.58 134.91 L1231.3 135.33 L1233.02 135.9 L1234.74 136.61 L1236.46 137.41 L1238.18 138.3 L1239.9 139.23 L1241.62 140.19 L1243.34 141.14 L1245.06 142.06 L1246.78 142.92 L1248.5 143.69 L1250.22 144.35 L1251.94 144.87 L1253.66 145.21 L1255.38 145.36 L1257.1 145.29 L1258.82 144.99 L1260.53 144.5 L1262.25 143.84 L1263.97 143.05 L1265.69 142.16 L1267.41 141.22 L1269.13 140.24 L1270.85 139.27 L1272.57 138.34 L1274.29 137.49 L1276.01 136.74 L1277.73 136.14 L1279.45 135.71 L1281.17 135.5 L1282.89 135.51 L1284.61 135.63 L1286.33 135.84 L1288.05 136.11 L1289.77 136.41 L1291.49 136.73 L1293.21 137.04 L1294.92 137.32 L1296.64 137.56 L1298.36 137.83 L1300.08 138.12 L1301.8 138.41 L1303.52 138.67 L1305.24 138.9 L1306.96 139.06 L1308.68 139.15 L1310.4 139.1 L1312.12 138.74 L1313.84 138.1 L1315.56 137.22 L1317.28 136.14 L1319 134.92 L1320.72 133.58 L1322.44 132.19 L1324.16 130.76 L1325.88 129.2 L1327.6 127.54 L1329.32 125.87 L1331.03 124.24 L1332.75 122.44 L1334.47 120.54 L1336.19 118.67 L1337.91 116.93 L1339.63 115.42 L1341.35 114.24 L1343.07 113.46 L1344.79 113.14 L1346.51 113.02 L1348.23 112.98 L1349.95 112.94 L1351.67 112.9 L1353.39 112.86 L1355.11 112.82 L1356.83 112.78 L1358.55 112.73 L1360.27 112.67 L1361.99 112.56 L1363.71 112.4 L1365.42 112.2 L1367.14 111.96 L1368.86 111.69 L1370.58 111.4 L1372.3 111.1 L1374.02 110.79 L1375.74 110.48 L1377.46 110.18 L1379.18 109.9 L1380.9 109.64" stroke="#8f0900"/>
<path d="M1037 278.69 L1038.72 278.69 L1040.44 278.7 L1042.16 278.71 L1043.88 278.72 L1045.6 278.73 L1047.32 278.76 L1049.04 278.8 L1050.76 278.88 L1052.48 279 L1054.19 279.14 L1055.91 279.3 L1057.63 279.45 L1059.35 279.57 L1061.07 279.65 L1062.79 279.71 L1064.51 279.74 L1066.23 279.73 L1067.95 279.68 L1069.67 279.54 L1071.39 278.82 L1073.11 277.37 L1074.83 273.6 L1076.55 266.27 L1078.27 256.14 L1079.99 245.42 L1081.71 235.35 L1083.43 226.63 L1085.15 218.41 L1086.87 211.45 L1088.59 206.07 L1090.3 201.56 L1092.02 197.67 L1093.74 194.39 L1095.46 191.59 L1097.18 189.11 L1098.9 186.81 L1100.62 184.59 L1102.34 182.45 L1104.06 180.37 L1105.78 178.38 L1107.5 176.58 L1109.22 174.99 L1110.94 173.43 L1112.66 171.86 L1114.38 170.2 L1116.1 168.33 L1117.82 166 L1119.54 163.36 L1121.26 160.67 L1122.98 158.14 L1124.69 155.95 L1126.41 154.29 L1128.13 153.06 L1129.85 151.89 L1131.57 150.73 L1133.29 149.45 L1135.01 148.04 L1136.73 146.5 L1138.45 144.88 L1140.17 143.19 L1141.89 141.39 L1143.61 139.21 L1145.33 136.94 L1147.05 134.9 L1148.77 133.01 L1150.49 131.07 L1152.21 129.21 L1153.93 127.59 L1155.65 126.35 L1157.37 125.66 L1159.08 125.4 L1160.8 125.39 L1162.52 125.61 L1164.24 126.04 L1165.96 126.66 L1167.68 127.43 L1169.4 128.28 L1171.12 129.18 L1172.84 130.11 L1174.56 131.04 L1176.28 131.93 L1178 132.76 L1179.72 133.48 L1181.44 134.07 L1183.16 134.5 L1184.88 134.72 L1186.6 134.73 L1188.32 134.52 L1190.04 134.15 L1191.75 133.64 L1193.47 133.04 L1195.19 132.36 L1196.91 131.64 L1198.63 130.91 L1200.35 130.2 L1202.07 129.54 L1203.79 128.96 L1205.51 128.5 L1207.23 128.18 L1208.95 128.04 L1210.67 128.05 L1212.39 128.11 L1214.11 128.23 L1215.83 128.39 L1217.55 128.59 L1219.27 128.83 L1220.99 129.09 L1222.71 129.39 L1224.43 129.7 L1226.14 130.03 L1227.86 130.36 L1229.58 130.7 L1231.3 131.09 L1233.02 131.62 L1234.74 132.26 L1236.46 133 L1238.18 133.81 L1239.9 134.67 L1241.62 135.54 L1243.34 136.42 L1245.06 137.26 L1246.78 138.05 L1248.5 138.75 L1250.22 139.35 L1251.94 139.82 L1253.66 140.14 L1255.38 140.27 L1257.1 140.2 L1258.82 139.93 L1260.53 139.48 L1262.25 138.88 L1263.97 138.16 L1265.69 137.35 L1267.41 136.48 L1269.13 135.59 L1270.85 134.71 L1272.57 133.86 L1274.29 133.08 L1276.01 132.4 L1277.73 131.85 L1279.45 131.46 L1281.17 131.27 L1282.89 131.27 L1284.61 131.39 L1286.33 131.58 L1288.05 131.82 L1289.77 132.1 L1291.49 132.39 L1293.21 132.68 L1294.92 132.93 L1296.64 133.15 L1298.36 133.4 L1300.08 133.66 L1301.8 133.92 L1303.52 134.16 L1305.24 134.37 L1306.96 134.52 L1308.68 134.6 L1310.4 134.55 L1312.12 134.22 L1313.84 133.64 L1315.56 132.83 L1317.28 131.85 L1319 130.73 L1320.72 129.51 L1322.44 128.24 L1324.16 126.93 L1325.88 125.47 L1327.6 123.9 L1329.32 122.3 L1331.03 120.72 L1332.75 118.97 L1334.47 117.15 L1336.19 115.34 L1337.91 113.67 L1339.63 112.22 L1341.35 111.08 L1343.07 110.31 L1344.79 109.98 L1346.51 109.84 L1348.23 109.8 L1349.95 109.75 L1351.67 109.71 L1353.39 109.66 L1355.11 109.61 L1356.83 109.56 L1358.55 109.51 L1360.27 109.44 L1361.99 109.32 L1363.71 109.16 L1365.42 108.96 L1367.14 108.72 L1368.86 108.46 L1370.58 108.18 L1372.3 107.89 L1374.02 107.59 L1375.74 107.3 L1377.46 107.01 L1379.18 106.74 L1380.9 106.49" stroke="#980c00"/>
<path d="M1037 279.26 L1038.72 279.26 L1040.44 279.25 L1042.16 279.25 L1043.88 279.25 L1045.6 279.26 L1047.32 279.27 L1049.04 279.29 L1050.76 279.35 L1052.48 279.44 L1054.19 279.55 L1055.91 279.66 L1057.63 279.77 L1059.35 279.85 L1061.07 279.89 L1062.79 279.9 L1064.51 279.88 L1066.23 279.81 L1067.95 279.7 L1069.67 279.47 L1071.39 278.58 L1073.11 276.83 L1074.83 272.39 L1076.55 264.5 L1078.27 254.33 L1079.99 243.84 L1081.71 233.95 L1083.43 225.32 L1085.15 217.28 L1086.87 210.49 L1088.59 205.14 L1090.3 200.61 L1092.02 196.71 L1093.74 193.43 L1095.46 190.67 L1097.18 188.23 L1098.9 185.99 L1100.62 183.84 L1102.34 181.75 L1104.06 179.71 L1105.78 177.7 L1107.5 175.83 L1109.22 174.15 L1110.94 172.47 L1112.66 170.75 L1114.38 168.92 L1116.1 166.83 L1117.82 164.2 L1119.54 161.21 L1121.26 158.15 L1122.98 155.27 L1124.69 152.78 L1126.41 150.91 L1128.13 149.57 L1129.85 148.29 L1131.57 147.06 L1133.29 145.75 L1135.01 144.34 L1136.73 142.84 L1138.45 141.27 L1140.17 139.66 L1141.89 137.96 L1143.61 135.94 L1145.33 133.84 L1147.05 131.95 L1148.77 130.18 L1150.49 128.36 L1152.21 126.62 L1153.93 125.08 L1155.65 123.89 L1157.37 123.18 L1159.08 122.88 L1160.8 122.8 L1162.52 122.95 L1164.24 123.31 L1165.96 123.85 L1167.68 124.54 L1169.4 125.31 L1171.12 126.14 L1172.84 126.99 L1174.56 127.84 L1176.28 128.66 L1178 129.42 L1179.72 130.08 L1181.44 130.62 L1183.16 131 L1184.88 131.19 L1186.6 131.16 L1188.32 130.95 L1190.04 130.58 L1191.75 130.1 L1193.47 129.52 L1195.19 128.88 L1196.91 128.21 L1198.63 127.52 L1200.35 126.86 L1202.07 126.24 L1203.79 125.7 L1205.51 125.26 L1207.23 124.96 L1208.95 124.82 L1210.67 124.81 L1212.39 124.86 L1214.11 124.95 L1215.83 125.08 L1217.55 125.26 L1219.27 125.46 L1220.99 125.69 L1222.71 125.95 L1224.43 126.22 L1226.14 126.51 L1227.86 126.81 L1229.58 127.11 L1231.3 127.45 L1233.02 127.93 L1234.74 128.51 L1236.46 129.18 L1238.18 129.91 L1239.9 130.68 L1241.62 131.48 L1243.34 132.27 L1245.06 133.03 L1246.78 133.74 L1248.5 134.39 L1250.22 134.93 L1251.94 135.36 L1253.66 135.64 L1255.38 135.76 L1257.1 135.69 L1258.82 135.44 L1260.53 135.02 L1262.25 134.47 L1263.97 133.81 L1265.69 133.08 L1267.41 132.28 L1269.13 131.47 L1270.85 130.66 L1272.57 129.88 L1274.29 129.17 L1276.01 128.55 L1277.73 128.05 L1279.45 127.69 L1281.17 127.52 L1282.89 127.52 L1284.61 127.62 L1286.33 127.8 L1288.05 128.02 L1289.77 128.28 L1291.49 128.54 L1293.21 128.8 L1294.92 129.03 L1296.64 129.24 L1298.36 129.46 L1300.08 129.7 L1301.8 129.94 L1303.52 130.16 L1305.24 130.35 L1306.96 130.49 L1308.68 130.56 L1310.4 130.52 L1312.12 130.22 L1313.84 129.68 L1315.56 128.95 L1317.28 128.05 L1319 127.02 L1320.72 125.9 L1322.44 124.73 L1324.16 123.53 L1325.88 122.17 L1327.6 120.69 L1329.32 119.17 L1331.03 117.65 L1332.75 115.98 L1334.47 114.24 L1336.19 112.52 L1337.91 110.92 L1339.63 109.54 L1341.35 108.44 L1343.07 107.71 L1344.79 107.36 L1346.51 107.22 L1348.23 107.17 L1349.95 107.12 L1351.67 107.07 L1353.39 107.01 L1355.11 106.96 L1356.83 106.91 L1358.55 106.84 L1360.27 106.77 L1361.99 106.65 L1363.71 106.48 L1365.42 106.29 L1367.14 106.06 L1368.86 105.8 L1370.58 105.53 L1372.3 105.25 L1374.02 104.96 L1375.74 104.68 L1377.46 104.4 L1379.18 104.14 L1380.9 103.89" stroke="#a21000"/>
<path d="M1037 279.73 L1038.72 279.72 L1040.44 279.7 L1042.16 279.69 L1043.88 279.69 L1045.6 279.68 L1047.32 279.68 L1049.04 279.69 L1050.76 279.73 L1052.48 279.79 L1054.19 279.87 L1055.91 279.96 L1057.63 280.03 L1059.35 280.08 L1061.07 280.08 L1062.79 280.06 L1064.51 279.99 L1066.23 279.88 L1067.95 279.71 L1069.67 279.42 L1071.39 278.39 L1073.11 276.39 L1074.83 271.41 L1076.55 263.07 L1078.27 252.85 L1079.99 242.57 L1081.71 232.81 L1083.43 224.25 L1085.15 216.36 L1086.87 209.71 L1088.59 204.38 L1090.3 199.84 L1092.02 195.93 L1093.74 192.66 L1095.46 189.92 L1097.18 187.52 L1098.9 185.32 L1100.62 183.23 L1102.34 181.19 L1104.06 179.17 L1105.78 177.14 L1107.5 175.23 L1109.22 173.46 L1110.94 171.69 L1112.66 169.85 L1114.38 167.88 L1116.1 165.61 L1117.82 162.73 L1119.54 159.47 L1121.26 156.11 L1122.98 152.94 L1124.69 150.21 L1126.41 148.17 L1128.13 146.72 L1129.85 145.37 L1131.57 144.07 L1133.29 142.74 L1135.01 141.33 L1136.73 139.86 L1138.45 138.34 L1140.17 136.79 L1141.89 135.17 L1143.61 133.28 L1145.33 131.31 L1147.05 129.52 L1148.77 127.84 L1150.49 126.1 L1152.21 124.44 L1153.93 122.96 L1155.65 121.78 L1157.37 121.04 L1159.08 120.67 L1160.8 120.51 L1162.52 120.57 L1164.24 120.82 L1165.96 121.27 L1167.68 121.86 L1169.4 122.52 L1171.12 123.23 L1172.84 123.98 L1174.56 124.72 L1176.28 125.44 L1178 126.1 L1179.72 126.67 L1181.44 127.13 L1183.16 127.45 L1184.88 127.59 L1186.6 127.53 L1188.32 127.31 L1190.04 126.95 L1191.75 126.49 L1193.47 125.95 L1195.19 125.36 L1196.91 124.73 L1198.63 124.1 L1200.35 123.49 L1202.07 122.92 L1203.79 122.43 L1205.51 122.02 L1207.23 121.74 L1208.95 121.61 L1210.67 121.6 L1212.39 121.64 L1214.11 121.72 L1215.83 121.84 L1217.55 121.99 L1219.27 122.18 L1220.99 122.39 L1222.71 122.62 L1224.43 122.87 L1226.14 123.13 L1227.86 123.4 L1229.58 123.68 L1231.3 123.99 L1233.02 124.42 L1234.74 124.96 L1236.46 125.57 L1238.18 126.24 L1239.9 126.94 L1241.62 127.67 L1243.34 128.39 L1245.06 129.09 L1246.78 129.74 L1248.5 130.33 L1250.22 130.82 L1251.94 131.21 L1253.66 131.47 L1255.38 131.57 L1257.1 131.51 L1258.82 131.27 L1260.53 130.89 L1262.25 130.39 L1263.97 129.79 L1265.69 129.11 L1267.41 128.39 L1269.13 127.65 L1270.85 126.91 L1272.57 126.2 L1274.29 125.55 L1276.01 124.98 L1277.73 124.52 L1279.45 124.2 L1281.17 124.04 L1282.89 124.04 L1284.61 124.13 L1286.33 124.29 L1288.05 124.5 L1289.77 124.73 L1291.49 124.97 L1293.21 125.21 L1294.92 125.42 L1296.64 125.61 L1298.36 125.81 L1300.08 126.03 L1301.8 126.25 L1303.52 126.45 L1305.24 126.62 L1306.96 126.75 L1308.68 126.82 L1310.4 126.78 L1312.12 126.5 L1313.84 126.01 L1315.56 125.34 L1317.28 124.52 L1319 123.58 L1320.72 122.56 L1322.44 121.48 L1324.16 120.38 L1325.88 119.12 L1327.6 117.74 L1329.32 116.3 L1331.03 114.87 L1332.75 113.29 L1334.47 111.64 L1336.19 110.02 L1337.91 108.52 L1339.63 107.22 L1341.35 106.18 L1343.07 105.47 L1344.79 105.13 L1346.51 104.99 L1348.23 104.93 L1349.95 104.88 L1351.67 104.82 L1353.39 104.76 L1355.11 104.7 L1356.83 104.64 L1358.55 104.57 L1360.27 104.49 L1361.99 104.37 L1363.71 104.21 L1365.42 104.01 L1367.14 103.78 L1368.86 103.54 L1370.58 103.27 L1372.3 103 L1374.02 102.72 L1375.74 102.44 L1377.46 102.17 L1379.18 101.92 L1380.9 101.68" stroke="#ac1502"/>
<path d="M1037 280.21 L1038.72 280.18 L1040.44 280.16 L1042.16 280.14 L1043.88 280.13 L1045.6 280.11 L1047.32 280.1 L1049.04 280.1 L1050.76 280.12 L1052.48 280.16 L1054.19 280.21 L1055.91 280.26 L1057.63 280.3 L1059.35 280.31 L1061.07 280.28 L1062.79 280.21 L1064.51 280.11 L1066.23 279.95 L1067.95 279.72 L1069.67 279.37 L1071.39 278.2 L1073.11 275.95 L1074.83 270.41 L1076.55 261.61 L1078.27 251.35 L1079.99 241.27 L1081.71 231.66 L1083.43 223.17 L1085.15 215.43 L1086.87 208.92 L1088.59 203.61 L1090.3 199.06 L1092.02 195.14 L1093.74 191.87 L1095.46 189.16 L1097.18 186.79 L1098.9 184.65 L1100.62 182.61 L1102.34 180.61 L1104.06 178.62 L1105.78 176.58 L1107.5 174.62 L1109.22 172.77 L1110.94 170.9 L1112.66 168.93 L1114.38 166.82 L1116.1 164.37 L1117.82 161.24 L1119.54 157.69 L1121.26 154.03 L1122.98 150.57 L1124.69 147.59 L1126.41 145.38 L1128.13 143.83 L1129.85 142.39 L1131.57 141.04 L1133.29 139.67 L1135.01 138.27 L1136.73 136.83 L1138.45 135.36 L1140.17 133.88 L1141.89 132.33 L1143.61 130.57 L1145.33 128.74 L1147.05 127.05 L1148.77 125.46 L1150.49 123.81 L1152.21 122.23 L1153.93 120.8 L1155.65 119.65 L1157.37 118.88 L1159.08 118.44 L1160.8 118.2 L1162.52 118.16 L1164.24 118.32 L1165.96 118.67 L1167.68 119.15 L1169.4 119.71 L1171.12 120.32 L1172.84 120.95 L1174.56 121.59 L1176.28 122.21 L1178 122.77 L1179.72 123.26 L1181.44 123.65 L1183.16 123.9 L1184.88 123.99 L1186.6 123.91 L1188.32 123.67 L1190.04 123.33 L1191.75 122.9 L1193.47 122.4 L1195.19 121.86 L1196.91 121.29 L1198.63 120.73 L1200.35 120.18 L1202.07 119.68 L1203.79 119.24 L1205.51 118.89 L1207.23 118.65 L1208.95 118.54 L1210.67 118.55 L1212.39 118.6 L1214.11 118.69 L1215.83 118.81 L1217.55 118.97 L1219.27 119.16 L1220.99 119.37 L1222.71 119.6 L1224.43 119.85 L1226.14 120.11 L1227.86 120.38 L1229.58 120.66 L1231.3 120.97 L1233.02 121.38 L1234.74 121.89 L1236.46 122.47 L1238.18 123.11 L1239.9 123.78 L1241.62 124.46 L1243.34 125.14 L1245.06 125.8 L1246.78 126.42 L1248.5 126.97 L1250.22 127.43 L1251.94 127.79 L1253.66 128.03 L1255.38 128.12 L1257.1 128.06 L1258.82 127.84 L1260.53 127.49 L1262.25 127.03 L1263.97 126.47 L1265.69 125.85 L1267.41 125.18 L1269.13 124.5 L1270.85 123.82 L1272.57 123.16 L1274.29 122.56 L1276.01 122.04 L1277.73 121.62 L1279.45 121.32 L1281.17 121.17 L1282.89 121.17 L1284.61 121.26 L1286.33 121.4 L1288.05 121.59 L1289.77 121.81 L1291.49 122.03 L1293.21 122.25 L1294.92 122.45 L1296.64 122.62 L1298.36 122.81 L1300.08 123.01 L1301.8 123.21 L1303.52 123.4 L1305.24 123.56 L1306.96 123.67 L1308.68 123.73 L1310.4 123.69 L1312.12 123.44 L1313.84 122.99 L1315.56 122.37 L1317.28 121.61 L1319 120.74 L1320.72 119.8 L1322.44 118.81 L1324.16 117.79 L1325.88 116.61 L1327.6 115.29 L1329.32 113.92 L1331.03 112.54 L1332.75 111.03 L1334.47 109.45 L1336.19 107.9 L1337.91 106.47 L1339.63 105.22 L1341.35 104.22 L1343.07 103.54 L1344.79 103.19 L1346.51 103.05 L1348.23 102.99 L1349.95 102.93 L1351.67 102.86 L1353.39 102.8 L1355.11 102.74 L1356.83 102.68 L1358.55 102.6 L1360.27 102.51 L1361.99 102.39 L1363.71 102.22 L1365.42 102.03 L1367.14 101.81 L1368.86 101.56 L1370.58 101.31 L1372.3 101.04 L1374.02 100.77 L1375.74 100.5 L1377.46 100.24 L1379.18 99.99 L1380.9 99.76" stroke="#b71a05"/>
<path d="M1037 280.58 L1038.72 280.55 L1040.44 280.52 L1042.16 280.5 L1043.88 280.47 L1045.6 280.45 L1047.32 280.43 L1049.04 280.42 L1050.76 280.42 L1052.48 280.44 L1054.19 280.47 L1055.91 280.5 L1057.63 280.51 L1059.35 280.49 L1061.07 280.43 L1062.79 280.34 L1064.51 280.2 L1066.23 280 L1067.95 279.74 L1069.67 279.33 L1071.39 278.05 L1073.11 275.59 L1074.83 269.62 L1076.55 260.45 L1078.27 250.16 L1079.99 240.24 L1081.71 230.75 L1083.43 222.31 L1085.15 214.69 L1086.87 208.29 L1088.59 203 L1090.3 198.44 L1092.02 194.51 L1093.74 191.25 L1095.46 188.55 L1097.18 186.22 L1098.9 184.11 L1100.62 182.11 L1102.34 180.16 L1104.06 178.18 L1105.78 176.13 L1107.5 174.13 L1109.22 172.22 L1110.94 170.27 L1112.66 168.21 L1114.38 165.98 L1116.1 163.39 L1117.82 160.06 L1119.54 156.28 L1121.26 152.38 L1122.98 148.69 L1124.69 145.52 L1126.41 143.18 L1128.13 141.54 L1129.85 140.04 L1131.57 138.64 L1133.29 137.25 L1135.01 135.85 L1136.73 134.43 L1138.45 133 L1140.17 131.57 L1141.89 130.09 L1143.61 128.42 L1145.33 126.7 L1147.05 125.1 L1148.77 123.56 L1150.49 121.99 L1152.21 120.46 L1153.93 119.08 L1155.65 117.94 L1157.37 117.14 L1159.08 116.63 L1160.8 116.32 L1162.52 116.21 L1164.24 116.28 L1165.96 116.54 L1167.68 116.94 L1169.4 117.4 L1171.12 117.91 L1172.84 118.45 L1174.56 118.99 L1176.28 119.51 L1178 119.99 L1179.72 120.41 L1181.44 120.72 L1183.16 120.92 L1184.88 120.98 L1186.6 120.86 L1188.32 120.62 L1190.04 120.28 L1191.75 119.87 L1193.47 119.41 L1195.19 118.9 L1196.91 118.38 L1198.63 117.86 L1200.35 117.36 L1202.07 116.9 L1203.79 116.5 L1205.51 116.18 L1207.23 115.96 L1208.95 115.86 L1210.67 115.87 L1212.39 115.91 L1214.11 115.99 L1215.83 116.11 L1217.55 116.26 L1219.27 116.43 L1220.99 116.62 L1222.71 116.84 L1224.43 117.07 L1226.14 117.31 L1227.86 117.56 L1229.58 117.81 L1231.3 118.1 L1233.02 118.49 L1234.74 118.95 L1236.46 119.49 L1238.18 120.07 L1239.9 120.69 L1241.62 121.32 L1243.34 121.95 L1245.06 122.55 L1246.78 123.12 L1248.5 123.62 L1250.22 124.05 L1251.94 124.38 L1253.66 124.59 L1255.38 124.67 L1257.1 124.61 L1258.82 124.41 L1260.53 124.09 L1262.25 123.66 L1263.97 123.16 L1265.69 122.59 L1267.41 121.98 L1269.13 121.35 L1270.85 120.73 L1272.57 120.13 L1274.29 119.58 L1276.01 119.1 L1277.73 118.71 L1279.45 118.44 L1281.17 118.3 L1282.89 118.31 L1284.61 118.38 L1286.33 118.52 L1288.05 118.69 L1289.77 118.89 L1291.49 119.09 L1293.21 119.29 L1294.92 119.47 L1296.64 119.63 L1298.36 119.8 L1300.08 119.99 L1301.8 120.17 L1303.52 120.34 L1305.24 120.49 L1306.96 120.59 L1308.68 120.65 L1310.4 120.61 L1312.12 120.38 L1313.84 119.97 L1315.56 119.4 L1317.28 118.71 L1319 117.91 L1320.72 117.04 L1322.44 116.13 L1324.16 115.2 L1325.88 114.1 L1327.6 112.87 L1329.32 111.59 L1331.03 110.29 L1332.75 108.86 L1334.47 107.38 L1336.19 105.92 L1337.91 104.57 L1339.63 103.4 L1341.35 102.46 L1343.07 101.81 L1344.79 101.47 L1346.51 101.32 L1348.23 101.26 L1349.95 101.2 L1351.67 101.13 L1353.39 101.07 L1355.11 101 L1356.83 100.93 L1358.55 100.85 L1360.27 100.76 L1361.99 100.63 L1363.71 100.47 L1365.42 100.27 L1367.14 100.05 L1368.86 99.82 L1370.58 99.57 L1372.3 99.3 L1374.02 99.04 L1375.74 98.78 L1377.46 98.52 L1379.18 98.28 L1380.9 98.05" stroke="#c12007"/>
<path d="M1037 280.96 L1038.72 280.93 L1040.44 280.89 L1042.16 280.86 L1043.88 280.83 L1045.6 280.8 L1047.32 280.77 L1049.04 280.75 L1050.76 280.74 L1052.48 280.74 L1054.19 280.74 L1055.91 280.74 L1057.63 280.72 L1059.35 280.68 L1061.07 280.59 L1062.79 280.47 L1064.51 280.29 L1066.23 280.05 L1067.95 279.75 L1069.67 279.29 L1071.39 277.89 L1073.11 275.23 L1074.83 268.81 L1076.55 259.28 L1078.27 248.95 L1079.99 239.19 L1081.71 229.82 L1083.43 221.44 L1085.15 213.94 L1086.87 207.66 L1088.59 202.38 L1090.3 197.8 L1092.02 193.87 L1093.74 190.61 L1095.46 187.94 L1097.18 185.63 L1098.9 183.57 L1100.62 181.61 L1102.34 179.7 L1104.06 177.74 L1105.78 175.68 L1107.5 173.64 L1109.22 171.66 L1110.94 169.63 L1112.66 167.47 L1114.38 165.13 L1116.1 162.39 L1117.82 158.86 L1119.54 154.85 L1121.26 150.71 L1122.98 146.78 L1124.69 143.41 L1126.41 140.93 L1128.13 139.21 L1129.85 137.65 L1131.57 136.19 L1133.29 134.78 L1135.01 133.38 L1136.73 131.99 L1138.45 130.6 L1140.17 129.22 L1141.89 127.8 L1143.61 126.24 L1145.33 124.63 L1147.05 123.11 L1148.77 121.65 L1150.49 120.15 L1152.21 118.69 L1153.93 117.35 L1155.65 116.23 L1157.37 115.4 L1159.08 114.85 L1160.8 114.48 L1162.52 114.29 L1164.24 114.29 L1165.96 114.48 L1167.68 114.79 L1169.4 115.17 L1171.12 115.6 L1172.84 116.05 L1174.56 116.52 L1176.28 116.96 L1178 117.37 L1179.72 117.72 L1181.44 117.98 L1183.16 118.13 L1184.88 118.15 L1186.6 118.01 L1188.32 117.76 L1190.04 117.44 L1191.75 117.05 L1193.47 116.62 L1195.19 116.15 L1196.91 115.68 L1198.63 115.21 L1200.35 114.76 L1202.07 114.35 L1203.79 114 L1205.51 113.72 L1207.23 113.53 L1208.95 113.45 L1210.67 113.47 L1212.39 113.52 L1214.11 113.61 L1215.83 113.73 L1217.55 113.88 L1219.27 114.05 L1220.99 114.25 L1222.71 114.47 L1224.43 114.7 L1226.14 114.94 L1227.86 115.19 L1229.58 115.44 L1231.3 115.72 L1233.02 116.1 L1234.74 116.55 L1236.46 117.06 L1238.18 117.62 L1239.9 118.2 L1241.62 118.8 L1243.34 119.4 L1245.06 119.97 L1246.78 120.5 L1248.5 120.98 L1250.22 121.38 L1251.94 121.69 L1253.66 121.89 L1255.38 121.96 L1257.1 121.9 L1258.82 121.71 L1260.53 121.41 L1262.25 121.02 L1263.97 120.55 L1265.69 120.02 L1267.41 119.46 L1269.13 118.88 L1270.85 118.3 L1272.57 117.74 L1274.29 117.23 L1276.01 116.79 L1277.73 116.43 L1279.45 116.18 L1281.17 116.05 L1282.89 116.05 L1284.61 116.13 L1286.33 116.25 L1288.05 116.41 L1289.77 116.59 L1291.49 116.78 L1293.21 116.97 L1294.92 117.14 L1296.64 117.28 L1298.36 117.44 L1300.08 117.61 L1301.8 117.78 L1303.52 117.94 L1305.24 118.08 L1306.96 118.17 L1308.68 118.23 L1310.4 118.19 L1312.12 117.98 L1313.84 117.6 L1315.56 117.07 L1317.28 116.42 L1319 115.68 L1320.72 114.88 L1322.44 114.03 L1324.16 113.16 L1325.88 112.12 L1327.6 110.95 L1329.32 109.71 L1331.03 108.46 L1332.75 107.08 L1334.47 105.65 L1336.19 104.25 L1337.91 102.95 L1339.63 101.81 L1341.35 100.91 L1343.07 100.27 L1344.79 99.93 L1346.51 99.78 L1348.23 99.71 L1349.95 99.65 L1351.67 99.58 L1353.39 99.51 L1355.11 99.44 L1356.83 99.37 L1358.55 99.28 L1360.27 99.19 L1361.99 99.05 L1363.71 98.89 L1365.42 98.7 L1367.14 98.48 L1368.86 98.25 L1370.58 98 L1372.3 97.75 L1374.02 97.49 L1375.74 97.23 L1377.46 96.98 L1379.18 96.75 L1380.9 96.53" stroke="#cc2509"/>
<path d="M1037 281.34 L1038.72 281.3 L1040.44 281.25 L1042.16 281.22 L1043.88 281.18 L1045.6 281.14 L1047.32 281.11 L1049.04 281.07 L1050.76 281.04 L1052.48 281.02 L1054.19 281 L1055.91 280.97 L1057.63 280.93 L1059.35 280.86 L1061.07 280.75 L1062.79 280.59 L1064.51 280.38 L1066.23 280.11 L1067.95 279.76 L1069.67 279.25 L1071.39 277.73 L1073.11 274.88 L1074.83 268.02 L1076.55 258.12 L1078.27 247.76 L1079.99 238.16 L1081.71 228.9 L1083.43 220.58 L1085.15 213.2 L1086.87 207.03 L1088.59 201.77 L1090.3 197.18 L1092.02 193.24 L1093.74 189.99 L1095.46 187.34 L1097.18 185.06 L1098.9 183.03 L1100.62 181.12 L1102.34 179.24 L1104.06 177.31 L1105.78 175.23 L1107.5 173.15 L1109.22 171.11 L1110.94 169 L1112.66 166.75 L1114.38 164.29 L1116.1 161.41 L1117.82 157.69 L1119.54 153.45 L1121.26 149.06 L1122.98 144.91 L1124.69 141.34 L1126.41 138.72 L1128.13 136.92 L1129.85 135.3 L1131.57 133.8 L1133.29 132.36 L1135.01 130.97 L1136.73 129.59 L1138.45 128.25 L1140.17 126.91 L1141.89 125.56 L1143.61 124.1 L1145.33 122.6 L1147.05 121.18 L1148.77 119.79 L1150.49 118.36 L1152.21 116.97 L1153.93 115.69 L1155.65 114.59 L1157.37 113.75 L1159.08 113.16 L1160.8 112.74 L1162.52 112.49 L1164.24 112.43 L1165.96 112.56 L1167.68 112.81 L1169.4 113.13 L1171.12 113.49 L1172.84 113.89 L1174.56 114.29 L1176.28 114.67 L1178 115.03 L1179.72 115.33 L1181.44 115.54 L1183.16 115.66 L1184.88 115.64 L1186.6 115.49 L1188.32 115.23 L1190.04 114.91 L1191.75 114.54 L1193.47 114.13 L1195.19 113.7 L1196.91 113.27 L1198.63 112.84 L1200.35 112.43 L1202.07 112.05 L1203.79 111.73 L1205.51 111.48 L1207.23 111.31 L1208.95 111.24 L1210.67 111.26 L1212.39 111.31 L1214.11 111.4 L1215.83 111.51 L1217.55 111.65 L1219.27 111.81 L1220.99 112 L1222.71 112.2 L1224.43 112.42 L1226.14 112.64 L1227.86 112.88 L1229.58 113.12 L1231.3 113.39 L1233.02 113.74 L1234.74 114.16 L1236.46 114.63 L1238.18 115.15 L1239.9 115.7 L1241.62 116.25 L1243.34 116.8 L1245.06 117.34 L1246.78 117.83 L1248.5 118.27 L1250.22 118.64 L1251.94 118.93 L1253.66 119.11 L1255.38 119.17 L1257.1 119.11 L1258.82 118.94 L1260.53 118.66 L1262.25 118.3 L1263.97 117.87 L1265.69 117.38 L1267.41 116.86 L1269.13 116.33 L1270.85 115.79 L1272.57 115.29 L1274.29 114.82 L1276.01 114.41 L1277.73 114.08 L1279.45 113.85 L1281.17 113.73 L1282.89 113.73 L1284.61 113.8 L1286.33 113.91 L1288.05 114.06 L1289.77 114.23 L1291.49 114.4 L1293.21 114.57 L1294.92 114.73 L1296.64 114.86 L1298.36 115.01 L1300.08 115.17 L1301.8 115.32 L1303.52 115.47 L1305.24 115.59 L1306.96 115.68 L1308.68 115.73 L1310.4 115.7 L1312.12 115.5 L1313.84 115.15 L1315.56 114.67 L1317.28 114.07 L1319 113.39 L1320.72 112.64 L1322.44 111.86 L1324.16 111.06 L1325.88 110.09 L1327.6 108.99 L1329.32 107.82 L1331.03 106.63 L1332.75 105.32 L1334.47 103.97 L1336.19 102.64 L1337.91 101.41 L1339.63 100.34 L1341.35 99.47 L1343.07 98.86 L1344.79 98.53 L1346.51 98.38 L1348.23 98.31 L1349.95 98.24 L1351.67 98.17 L1353.39 98.1 L1355.11 98.02 L1356.83 97.95 L1358.55 97.86 L1360.27 97.76 L1361.99 97.63 L1363.71 97.46 L1365.42 97.27 L1367.14 97.06 L1368.86 96.83 L1370.58 96.59 L1372.3 96.34 L1374.02 96.08 L1375.74 95.83 L1377.46 95.59 L1379.18 95.36 L1380.9 95.14" stroke="#d42b0b"/>
<path d="M1037 281.72 L1038.72 281.67 L1040.44 281.62 L1042.16 281.58 L1043.88 281.53 L1045.6 281.49 L1047.32 281.45 L1049.04 281.4 L1050.76 281.36 L1052.48 281.32 L1054.19 281.27 L1055.91 281.22 L1057.63 281.15 L1059.35 281.05 L1061.07 280.91 L1062.79 280.72 L1064.51 280.47 L1066.23 280.16 L1067.95 279.77 L1069.67 279.21 L1071.39 277.58 L1073.11 274.52 L1074.83 267.22 L1076.55 256.95 L1078.27 246.55 L1079.99 237.12 L1081.71 227.97 L1083.43 219.7 L1085.15 212.45 L1086.87 206.39 L1088.59 201.15 L1090.3 196.55 L1092.02 192.6 L1093.74 189.36 L1095.46 186.72 L1097.18 184.48 L1098.9 182.48 L1100.62 180.62 L1102.34 178.78 L1104.06 176.86 L1105.78 174.78 L1107.5 172.66 L1109.22 170.55 L1110.94 168.36 L1112.66 166.01 L1114.38 163.44 L1116.1 160.41 L1117.82 156.49 L1119.54 152.01 L1121.26 147.39 L1122.98 143 L1124.69 139.23 L1126.41 136.47 L1128.13 134.59 L1129.85 132.9 L1131.57 131.35 L1133.29 129.89 L1135.01 128.5 L1136.73 127.15 L1138.45 125.84 L1140.17 124.56 L1141.89 123.27 L1143.61 121.92 L1145.33 120.53 L1147.05 119.2 L1148.77 117.88 L1150.49 116.53 L1152.21 115.21 L1153.93 113.98 L1155.65 112.9 L1157.37 112.04 L1159.08 111.4 L1160.8 110.92 L1162.52 110.62 L1164.24 110.49 L1165.96 110.55 L1167.68 110.73 L1169.4 110.97 L1171.12 111.26 L1172.84 111.58 L1174.56 111.91 L1176.28 112.23 L1178 112.52 L1179.72 112.76 L1181.44 112.92 L1183.16 112.99 L1184.88 112.94 L1186.6 112.77 L1188.32 112.5 L1190.04 112.19 L1191.75 111.84 L1193.47 111.47 L1195.19 111.08 L1196.91 110.68 L1198.63 110.3 L1200.35 109.94 L1202.07 109.61 L1203.79 109.33 L1205.51 109.11 L1207.23 108.97 L1208.95 108.92 L1210.67 108.94 L1212.39 109 L1214.11 109.09 L1215.83 109.2 L1217.55 109.34 L1219.27 109.5 L1220.99 109.69 L1222.71 109.88 L1224.43 110.1 L1226.14 110.32 L1227.86 110.55 L1229.58 110.78 L1231.3 111.04 L1233.02 111.38 L1234.74 111.78 L1236.46 112.23 L1238.18 112.71 L1239.9 113.23 L1241.62 113.75 L1243.34 114.26 L1245.06 114.76 L1246.78 115.22 L1248.5 115.63 L1250.22 115.98 L1251.94 116.24 L1253.66 116.41 L1255.38 116.46 L1257.1 116.41 L1258.82 116.24 L1260.53 115.99 L1262.25 115.66 L1263.97 115.26 L1265.69 114.82 L1267.41 114.34 L1269.13 113.85 L1270.85 113.37 L1272.57 112.9 L1274.29 112.47 L1276.01 112.1 L1277.73 111.8 L1279.45 111.58 L1281.17 111.48 L1282.89 111.48 L1284.61 111.54 L1286.33 111.65 L1288.05 111.78 L1289.77 111.93 L1291.49 112.09 L1293.21 112.25 L1294.92 112.39 L1296.64 112.51 L1298.36 112.65 L1300.08 112.79 L1301.8 112.93 L1303.52 113.07 L1305.24 113.18 L1306.96 113.26 L1308.68 113.31 L1310.4 113.28 L1312.12 113.1 L1313.84 112.78 L1315.56 112.33 L1317.28 111.79 L1319 111.16 L1320.72 110.48 L1322.44 109.76 L1324.16 109.02 L1325.88 108.12 L1327.6 107.09 L1329.32 106 L1331.03 104.87 L1332.75 103.65 L1334.47 102.37 L1336.19 101.13 L1337.91 99.97 L1339.63 98.97 L1341.35 98.15 L1343.07 97.57 L1344.79 97.25 L1346.51 97.1 L1348.23 97.03 L1349.95 96.95 L1351.67 96.88 L1353.39 96.8 L1355.11 96.73 L1356.83 96.65 L1358.55 96.56 L1360.27 96.46 L1361.99 96.32 L1363.71 96.15 L1365.42 95.96 L1367.14 95.75 L1368.86 95.53 L1370.58 95.29 L1372.3 95.05 L1374.02 94.8 L1375.74 94.55 L1377.46 94.31 L1379.18 94.08 L1380.9 93.87" stroke="#d9310d"/>
<path d="M1037 282.01 L1038.72 281.95 L1040.44 281.9 L1042.16 281.85 L1043.88 281.8 L1045.6 281.75 L1047.32 281.7 L1049.04 281.64 L1050.76 281.59 L1052.48 281.53 L1054.19 281.47 L1055.91 281.4 L1057.63 281.31 L1059.35 281.19 L1061.07 281.02 L1062.79 280.81 L1064.51 280.54 L1066.23 280.2 L1067.95 279.77 L1069.67 279.18 L1071.39 277.46 L1073.11 274.26 L1074.83 266.62 L1076.55 256.07 L1078.27 245.65 L1079.99 236.34 L1081.71 227.28 L1083.43 219.06 L1085.15 211.89 L1086.87 205.92 L1088.59 200.69 L1090.3 196.08 L1092.02 192.13 L1093.74 188.89 L1095.46 186.27 L1097.18 184.04 L1098.9 182.08 L1100.62 180.25 L1102.34 178.44 L1104.06 176.54 L1105.78 174.44 L1107.5 172.29 L1109.22 170.14 L1110.94 167.88 L1112.66 165.47 L1114.38 162.81 L1116.1 159.66 L1117.82 155.6 L1119.54 150.95 L1121.26 146.14 L1122.98 141.58 L1124.69 137.67 L1126.41 134.81 L1128.13 132.87 L1129.85 131.12 L1131.57 129.54 L1133.29 128.07 L1135.01 126.67 L1136.73 125.34 L1138.45 124.06 L1140.17 122.82 L1141.89 121.58 L1143.61 120.3 L1145.33 118.99 L1147.05 117.72 L1148.77 116.45 L1150.49 115.15 L1152.21 113.88 L1153.93 112.67 L1155.65 111.6 L1157.37 110.72 L1159.08 110.03 L1160.8 109.5 L1162.52 109.13 L1164.24 108.94 L1165.96 108.93 L1167.68 109.04 L1169.4 109.21 L1171.12 109.42 L1172.84 109.66 L1174.56 109.92 L1176.28 110.17 L1178 110.39 L1179.72 110.57 L1181.44 110.68 L1183.16 110.71 L1184.88 110.63 L1186.6 110.43 L1188.32 110.17 L1190.04 109.86 L1191.75 109.53 L1193.47 109.18 L1195.19 108.82 L1196.91 108.46 L1198.63 108.12 L1200.35 107.8 L1202.07 107.51 L1203.79 107.26 L1205.51 107.07 L1207.23 106.95 L1208.95 106.91 L1210.67 106.94 L1212.39 107.01 L1214.11 107.09 L1215.83 107.21 L1217.55 107.35 L1219.27 107.5 L1220.99 107.68 L1222.71 107.88 L1224.43 108.08 L1226.14 108.3 L1227.86 108.52 L1229.58 108.75 L1231.3 109 L1233.02 109.32 L1234.74 109.7 L1236.46 110.12 L1238.18 110.58 L1239.9 111.06 L1241.62 111.55 L1243.34 112.04 L1245.06 112.5 L1246.78 112.93 L1248.5 113.32 L1250.22 113.64 L1251.94 113.88 L1253.66 114.03 L1255.38 114.08 L1257.1 114.03 L1258.82 113.87 L1260.53 113.64 L1262.25 113.34 L1263.97 112.97 L1265.69 112.57 L1267.41 112.13 L1269.13 111.68 L1270.85 111.23 L1272.57 110.8 L1274.29 110.41 L1276.01 110.07 L1277.73 109.79 L1279.45 109.6 L1281.17 109.5 L1282.89 109.5 L1284.61 109.56 L1286.33 109.65 L1288.05 109.78 L1289.77 109.92 L1291.49 110.06 L1293.21 110.21 L1294.92 110.34 L1296.64 110.45 L1298.36 110.57 L1300.08 110.7 L1301.8 110.84 L1303.52 110.96 L1305.24 111.06 L1306.96 111.14 L1308.68 111.18 L1310.4 111.15 L1312.12 110.99 L1313.84 110.69 L1315.56 110.28 L1317.28 109.78 L1319 109.2 L1320.72 108.58 L1322.44 107.91 L1324.16 107.23 L1325.88 106.39 L1327.6 105.42 L1329.32 104.39 L1331.03 103.32 L1332.75 102.16 L1334.47 100.95 L1336.19 99.77 L1337.91 98.67 L1339.63 97.72 L1341.35 96.94 L1343.07 96.39 L1344.79 96.07 L1346.51 95.92 L1348.23 95.84 L1349.95 95.77 L1351.67 95.69 L1353.39 95.61 L1355.11 95.54 L1356.83 95.46 L1358.55 95.36 L1360.27 95.25 L1361.99 95.12 L1363.71 94.95 L1365.42 94.76 L1367.14 94.55 L1368.86 94.33 L1370.58 94.1 L1372.3 93.86 L1374.02 93.61 L1375.74 93.37 L1377.46 93.14 L1379.18 92.91 L1380.9 92.7" stroke="#df3710"/>
<path d="M1037 282.09 L1038.72 282.03 L1040.44 281.97 L1042.16 281.92 L1043.88 281.87 L1045.6 281.82 L1047.32 281.77 L1049.04 281.71 L1050.76 281.65 L1052.48 281.59 L1054.19 281.52 L1055.91 281.45 L1057.63 281.35 L1059.35 281.22 L1061.07 281.06 L1062.79 280.84 L1064.51 280.56 L1066.23 280.21 L1067.95 279.78 L1069.67 279.17 L1071.39 277.43 L1073.11 274.18 L1074.83 266.46 L1076.55 255.83 L1078.27 245.41 L1079.99 236.13 L1081.71 227.09 L1083.43 218.88 L1085.15 211.74 L1086.87 205.79 L1088.59 200.56 L1090.3 195.95 L1092.02 192 L1093.74 188.76 L1095.46 186.14 L1097.18 183.92 L1098.9 181.97 L1100.62 180.15 L1102.34 178.34 L1104.06 176.44 L1105.78 174.35 L1107.5 172.19 L1109.22 170.02 L1110.94 167.75 L1112.66 165.31 L1114.38 162.63 L1116.1 159.46 L1117.82 155.35 L1119.54 150.66 L1121.26 145.8 L1122.98 141.19 L1124.69 137.24 L1126.41 134.35 L1128.13 132.39 L1129.85 130.63 L1131.57 129.04 L1133.29 127.56 L1135.01 126.17 L1136.73 124.84 L1138.45 123.57 L1140.17 122.33 L1141.89 121.11 L1143.61 119.83 L1145.33 118.53 L1147.05 117.25 L1148.77 115.97 L1150.49 114.66 L1152.21 113.37 L1153.93 112.14 L1155.65 111.03 L1157.37 110.09 L1159.08 109.34 L1160.8 108.72 L1162.52 108.27 L1164.24 107.98 L1165.96 107.87 L1167.68 107.88 L1169.4 107.93 L1171.12 108.03 L1172.84 108.16 L1174.56 108.3 L1176.28 108.44 L1178 108.56 L1179.72 108.64 L1181.44 108.67 L1183.16 108.64 L1184.88 108.52 L1186.6 108.3 L1188.32 108.02 L1190.04 107.72 L1191.75 107.41 L1193.47 107.08 L1195.19 106.75 L1196.91 106.43 L1198.63 106.12 L1200.35 105.83 L1202.07 105.58 L1203.79 105.36 L1205.51 105.2 L1207.23 105.1 L1208.95 105.07 L1210.67 105.11 L1212.39 105.17 L1214.11 105.26 L1215.83 105.37 L1217.55 105.51 L1219.27 105.66 L1220.99 105.83 L1222.71 106.02 L1224.43 106.22 L1226.14 106.43 L1227.86 106.64 L1229.58 106.87 L1231.3 107.11 L1233.02 107.41 L1234.74 107.77 L1236.46 108.17 L1238.18 108.6 L1239.9 109.05 L1241.62 109.51 L1243.34 109.97 L1245.06 110.4 L1246.78 110.81 L1248.5 111.16 L1250.22 111.46 L1251.94 111.69 L1253.66 111.82 L1255.38 111.86 L1257.1 111.81 L1258.82 111.67 L1260.53 111.45 L1262.25 111.17 L1263.97 110.84 L1265.69 110.47 L1267.41 110.07 L1269.13 109.66 L1270.85 109.25 L1272.57 108.85 L1274.29 108.49 L1276.01 108.18 L1277.73 107.92 L1279.45 107.74 L1281.17 107.65 L1282.89 107.66 L1284.61 107.71 L1286.33 107.8 L1288.05 107.91 L1289.77 108.04 L1291.49 108.17 L1293.21 108.31 L1294.92 108.42 L1296.64 108.53 L1298.36 108.64 L1300.08 108.76 L1301.8 108.88 L1303.52 108.99 L1305.24 109.09 L1306.96 109.16 L1308.68 109.2 L1310.4 109.17 L1312.12 109.02 L1313.84 108.75 L1315.56 108.37 L1317.28 107.91 L1319 107.38 L1320.72 106.8 L1322.44 106.19 L1324.16 105.56 L1325.88 104.78 L1327.6 103.87 L1329.32 102.89 L1331.03 101.87 L1332.75 100.77 L1334.47 99.62 L1336.19 98.5 L1337.91 97.46 L1339.63 96.56 L1341.35 95.82 L1343.07 95.29 L1344.79 94.98 L1346.51 94.82 L1348.23 94.75 L1349.95 94.67 L1351.67 94.59 L1353.39 94.51 L1355.11 94.43 L1356.83 94.35 L1358.55 94.25 L1360.27 94.14 L1361.99 94 L1363.71 93.83 L1365.42 93.65 L1367.14 93.44 L1368.86 93.22 L1370.58 92.99 L1372.3 92.75 L1374.02 92.51 L1375.74 92.28 L1377.46 92.05 L1379.18 91.83 L1380.9 91.62" stroke="#e43e12"/>
<path d="M1037 282.17 L1038.72 282.1 L1040.44 282.05 L1042.16 281.99 L1043.88 281.94 L1045.6 281.89 L1047.32 281.84 L1049.04 281.78 L1050.76 281.72 L1052.48 281.65 L1054.19 281.58 L1055.91 281.5 L1057.63 281.39 L1059.35 281.26 L1061.07 281.09 L1062.79 280.86 L1064.51 280.58 L1066.23 280.22 L1067.95 279.78 L1069.67 279.16 L1071.39 277.4 L1073.11 274.11 L1074.83 266.29 L1076.55 255.59 L1078.27 245.16 L1079.99 235.91 L1081.71 226.9 L1083.43 218.7 L1085.15 211.58 L1086.87 205.66 L1088.59 200.43 L1090.3 195.82 L1092.02 191.87 L1093.74 188.63 L1095.46 186.02 L1097.18 183.8 L1098.9 181.86 L1100.62 180.04 L1102.34 178.25 L1104.06 176.35 L1105.78 174.26 L1107.5 172.09 L1109.22 169.91 L1110.94 167.62 L1112.66 165.16 L1114.38 162.46 L1116.1 159.25 L1117.82 155.1 L1119.54 150.37 L1121.26 145.46 L1122.98 140.8 L1124.69 136.81 L1126.41 133.89 L1128.13 131.91 L1129.85 130.14 L1131.57 128.53 L1133.29 127.05 L1135.01 125.66 L1136.73 124.34 L1138.45 123.08 L1140.17 121.85 L1141.89 120.63 L1143.61 119.37 L1145.33 118.08 L1147.05 116.79 L1148.77 115.5 L1150.49 114.18 L1152.21 112.87 L1153.93 111.61 L1155.65 110.47 L1157.37 109.49 L1159.08 108.67 L1160.8 107.98 L1162.52 107.45 L1164.24 107.07 L1165.96 106.86 L1167.68 106.77 L1169.4 106.73 L1171.12 106.72 L1172.84 106.74 L1174.56 106.77 L1176.28 106.81 L1178 106.83 L1179.72 106.83 L1181.44 106.79 L1183.16 106.69 L1184.88 106.53 L1186.6 106.29 L1188.32 106.01 L1190.04 105.72 L1191.75 105.42 L1193.47 105.12 L1195.19 104.82 L1196.91 104.53 L1198.63 104.25 L1200.35 104 L1202.07 103.78 L1203.79 103.6 L1205.51 103.47 L1207.23 103.39 L1208.95 103.37 L1210.67 103.42 L1212.39 103.49 L1214.11 103.58 L1215.83 103.7 L1217.55 103.84 L1219.27 104 L1220.99 104.17 L1222.71 104.36 L1224.43 104.56 L1226.14 104.77 L1227.86 104.98 L1229.58 105.2 L1231.3 105.44 L1233.02 105.74 L1234.74 106.09 L1236.46 106.47 L1238.18 106.89 L1239.9 107.32 L1241.62 107.75 L1243.34 108.19 L1245.06 108.6 L1246.78 108.98 L1248.5 109.32 L1250.22 109.6 L1251.94 109.81 L1253.66 109.94 L1255.38 109.97 L1257.1 109.92 L1258.82 109.79 L1260.53 109.59 L1262.25 109.33 L1263.97 109.03 L1265.69 108.68 L1267.41 108.31 L1269.13 107.93 L1270.85 107.55 L1272.57 107.19 L1274.29 106.86 L1276.01 106.57 L1277.73 106.33 L1279.45 106.17 L1281.17 106.09 L1282.89 106.09 L1284.61 106.14 L1286.33 106.22 L1288.05 106.32 L1289.77 106.44 L1291.49 106.56 L1293.21 106.69 L1294.92 106.79 L1296.64 106.89 L1298.36 106.99 L1300.08 107.11 L1301.8 107.22 L1303.52 107.32 L1305.24 107.41 L1306.96 107.47 L1308.68 107.51 L1310.4 107.49 L1312.12 107.35 L1313.84 107.1 L1315.56 106.75 L1317.28 106.32 L1319 105.83 L1320.72 105.29 L1322.44 104.73 L1324.16 104.14 L1325.88 103.41 L1327.6 102.54 L1329.32 101.59 L1331.03 100.61 L1332.75 99.55 L1334.47 98.44 L1336.19 97.37 L1337.91 96.37 L1339.63 95.5 L1341.35 94.79 L1343.07 94.27 L1344.79 93.96 L1346.51 93.8 L1348.23 93.73 L1349.95 93.65 L1351.67 93.56 L1353.39 93.48 L1355.11 93.4 L1356.83 93.31 L1358.55 93.21 L1360.27 93.1 L1361.99 92.96 L1363.71 92.79 L1365.42 92.61 L1367.14 92.4 L1368.86 92.18 L1370.58 91.96 L1372.3 91.72 L1374.02 91.49 L1375.74 91.26 L1377.46 91.03 L1379.18 90.81 L1380.9 90.61" stroke="#e94415"/>
<path d="M1037 282.24 L1038.72 282.18 L1040.44 282.12 L1042.16 282.07 L1043.88 282.02 L1045.6 281.96 L1047.32 281.91 L1049.04 281.84 L1050.76 281.78 L1052.48 281.71 L1054.19 281.63 L1055.91 281.55 L1057.63 281.44 L1059.35 281.3 L1061.07 281.12 L1062.79 280.89 L1064.51 280.6 L1066.23 280.23 L1067.95 279.78 L1069.67 279.15 L1071.39 277.37 L1073.11 274.04 L1074.83 266.13 L1076.55 255.35 L1078.27 244.91 L1079.99 235.7 L1081.71 226.71 L1083.43 218.52 L1085.15 211.43 L1086.87 205.53 L1088.59 200.3 L1090.3 195.69 L1092.02 191.74 L1093.74 188.5 L1095.46 185.89 L1097.18 183.68 L1098.9 181.75 L1100.62 179.94 L1102.34 178.15 L1104.06 176.26 L1105.78 174.16 L1107.5 171.99 L1109.22 169.79 L1110.94 167.49 L1112.66 165.01 L1114.38 162.28 L1116.1 159.05 L1117.82 154.86 L1119.54 150.07 L1121.26 145.11 L1122.98 140.41 L1124.69 136.37 L1126.41 133.43 L1128.13 131.43 L1129.85 129.65 L1131.57 128.03 L1133.29 126.55 L1135.01 125.16 L1136.73 123.84 L1138.45 122.59 L1140.17 121.37 L1141.89 120.16 L1143.61 118.91 L1145.33 117.62 L1147.05 116.34 L1148.77 115.04 L1150.49 113.71 L1152.21 112.38 L1153.93 111.11 L1155.65 109.94 L1157.37 108.92 L1159.08 108.04 L1160.8 107.29 L1162.52 106.68 L1164.24 106.23 L1165.96 105.94 L1167.68 105.76 L1169.4 105.63 L1171.12 105.52 L1172.84 105.45 L1174.56 105.38 L1176.28 105.33 L1178 105.27 L1179.72 105.19 L1181.44 105.08 L1183.16 104.93 L1184.88 104.73 L1186.6 104.47 L1188.32 104.19 L1190.04 103.9 L1191.75 103.62 L1193.47 103.33 L1195.19 103.06 L1196.91 102.79 L1198.63 102.55 L1200.35 102.32 L1202.07 102.13 L1203.79 101.97 L1205.51 101.85 L1207.23 101.79 L1208.95 101.78 L1210.67 101.82 L1212.39 101.89 L1214.11 101.98 L1215.83 102.09 L1217.55 102.22 L1219.27 102.37 L1220.99 102.53 L1222.71 102.71 L1224.43 102.9 L1226.14 103.1 L1227.86 103.3 L1229.58 103.51 L1231.3 103.74 L1233.02 104.02 L1234.74 104.34 L1236.46 104.7 L1238.18 105.08 L1239.9 105.48 L1241.62 105.88 L1243.34 106.28 L1245.06 106.67 L1246.78 107.02 L1248.5 107.33 L1250.22 107.59 L1251.94 107.78 L1253.66 107.9 L1255.38 107.92 L1257.1 107.87 L1258.82 107.75 L1260.53 107.56 L1262.25 107.33 L1263.97 107.05 L1265.69 106.74 L1267.41 106.4 L1269.13 106.06 L1270.85 105.71 L1272.57 105.38 L1274.29 105.08 L1276.01 104.82 L1277.73 104.6 L1279.45 104.45 L1281.17 104.38 L1282.89 104.38 L1284.61 104.42 L1286.33 104.5 L1288.05 104.59 L1289.77 104.7 L1291.49 104.81 L1293.21 104.92 L1294.92 105.02 L1296.64 105.11 L1298.36 105.2 L1300.08 105.31 L1301.8 105.41 L1303.52 105.5 L1305.24 105.58 L1306.96 105.64 L1308.68 105.67 L1310.4 105.65 L1312.12 105.52 L1313.84 105.3 L1315.56 104.98 L1317.28 104.59 L1319 104.14 L1320.72 103.65 L1322.44 103.14 L1324.16 102.6 L1325.88 101.92 L1327.6 101.1 L1329.32 100.21 L1331.03 99.29 L1332.75 98.29 L1334.47 97.25 L1336.19 96.23 L1337.91 95.29 L1339.63 94.47 L1341.35 93.8 L1343.07 93.3 L1344.79 93 L1346.51 92.85 L1348.23 92.77 L1349.95 92.69 L1351.67 92.6 L1353.39 92.52 L1355.11 92.43 L1356.83 92.35 L1358.55 92.24 L1360.27 92.13 L1361.99 91.98 L1363.71 91.82 L1365.42 91.63 L1367.14 91.43 L1368.86 91.21 L1370.58 90.99 L1372.3 90.76 L1374.02 90.53 L1375.74 90.3 L1377.46 90.08 L1379.18 89.86 L1380.9 89.66" stroke="#ef4a18"/>
<path d="M1037 282.32 L1038.72 282.26 L1040.44 282.2 L1042.16 282.14 L1043.88 282.09 L1045.6 282.03 L1047.32 281.97 L1049.04 281.91 L1050.76 281.85 L1052.48 281.77 L1054.19 281.69 L1055.91 281.59 L1057.63 281.48 L1059.35 281.34 L1061.07 281.15 L1062.79 280.92 L1064.51 280.62 L1066.23 280.24 L1067.95 279.78 L1069.67 279.14 L1071.39 277.33 L1073.11 273.96 L1074.83 265.96 L1076.55 255.11 L1078.27 244.66 L1079.99 235.48 L1081.71 226.52 L1083.43 218.34 L1085.15 211.27 L1086.87 205.4 L1088.59 200.18 L1090.3 195.57 L1092.02 191.6 L1093.74 188.37 L1095.46 185.76 L1097.18 183.56 L1098.9 181.63 L1100.62 179.84 L1102.34 178.06 L1104.06 176.17 L1105.78 174.07 L1107.5 171.88 L1109.22 169.68 L1110.94 167.36 L1112.66 164.86 L1114.38 162.11 L1116.1 158.84 L1117.82 154.61 L1119.54 149.78 L1121.26 144.77 L1122.98 140.02 L1124.69 135.94 L1126.41 132.96 L1128.13 130.95 L1129.85 129.16 L1131.57 127.53 L1133.29 126.04 L1135.01 124.65 L1136.73 123.34 L1138.45 122.09 L1140.17 120.89 L1141.89 119.69 L1143.61 118.46 L1145.33 117.19 L1147.05 115.92 L1148.77 114.62 L1150.49 113.3 L1152.21 111.98 L1153.93 110.71 L1155.65 109.53 L1157.37 108.48 L1159.08 107.58 L1160.8 106.79 L1162.52 106.15 L1164.24 105.66 L1165.96 105.33 L1167.68 105.11 L1169.4 104.93 L1171.12 104.78 L1172.84 104.66 L1174.56 104.55 L1176.28 104.45 L1178 104.35 L1179.72 104.23 L1181.44 104.09 L1183.16 103.92 L1184.88 103.7 L1186.6 103.44 L1188.32 103.15 L1190.04 102.86 L1191.75 102.58 L1193.47 102.3 L1195.19 102.02 L1196.91 101.77 L1198.63 101.53 L1200.35 101.31 L1202.07 101.12 L1203.79 100.96 L1205.51 100.84 L1207.23 100.77 L1208.95 100.75 L1210.67 100.78 L1212.39 100.83 L1214.11 100.9 L1215.83 100.99 L1217.55 101.09 L1219.27 101.22 L1220.99 101.35 L1222.71 101.5 L1224.43 101.66 L1226.14 101.84 L1227.86 102.01 L1229.58 102.19 L1231.3 102.39 L1233.02 102.64 L1234.74 102.92 L1236.46 103.24 L1238.18 103.58 L1239.9 103.94 L1241.62 104.3 L1243.34 104.66 L1245.06 105 L1246.78 105.32 L1248.5 105.6 L1250.22 105.83 L1251.94 106 L1253.66 106.1 L1255.38 106.12 L1257.1 106.07 L1258.82 105.95 L1260.53 105.78 L1262.25 105.57 L1263.97 105.32 L1265.69 105.03 L1267.41 104.72 L1269.13 104.41 L1270.85 104.09 L1272.57 103.79 L1274.29 103.52 L1276.01 103.28 L1277.73 103.08 L1279.45 102.95 L1281.17 102.88 L1282.89 102.88 L1284.61 102.92 L1286.33 102.99 L1288.05 103.07 L1289.77 103.17 L1291.49 103.27 L1293.21 103.38 L1294.92 103.47 L1296.64 103.54 L1298.36 103.63 L1300.08 103.72 L1301.8 103.82 L1303.52 103.9 L1305.24 103.97 L1306.96 104.03 L1308.68 104.06 L1310.4 104.04 L1312.12 103.92 L1313.84 103.72 L1315.56 103.43 L1317.28 103.07 L1319 102.66 L1320.72 102.21 L1322.44 101.73 L1324.16 101.24 L1325.88 100.6 L1327.6 99.83 L1329.32 98.99 L1331.03 98.11 L1332.75 97.15 L1334.47 96.16 L1336.19 95.2 L1337.91 94.31 L1339.63 93.52 L1341.35 92.88 L1343.07 92.4 L1344.79 92.11 L1346.51 91.95 L1348.23 91.87 L1349.95 91.78 L1351.67 91.7 L1353.39 91.61 L1355.11 91.52 L1356.83 91.44 L1358.55 91.33 L1360.27 91.21 L1361.99 91.07 L1363.71 90.9 L1365.42 90.72 L1367.14 90.52 L1368.86 90.3 L1370.58 90.08 L1372.3 89.86 L1374.02 89.63 L1375.74 89.4 L1377.46 89.18 L1379.18 88.97 L1380.9 88.77" stroke="#f3521c"/>
<path d="M1037 282.4 L1038.72 282.33 L1040.44 282.27 L1042.16 282.22 L1043.88 282.16 L1045.6 282.1 L1047.32 282.04 L1049.04 281.98 L1050.76 281.91 L1052.48 281.83 L1054.19 281.74 L1055.91 281.64 L1057.63 281.53 L1059.35 281.38 L1061.07 281.19 L1062.79 280.94 L1064.51 280.64 L1066.23 280.25 L1067.95 279.79 L1069.67 279.13 L1071.39 277.3 L1073.11 273.89 L1074.83 265.8 L1076.55 254.87 L1078.27 244.41 L1079.99 235.27 L1081.71 226.33 L1083.43 218.16 L1085.15 211.12 L1086.87 205.27 L1088.59 200.05 L1090.3 195.44 L1092.02 191.47 L1093.74 188.24 L1095.46 185.64 L1097.18 183.44 L1098.9 181.52 L1100.62 179.73 L1102.34 177.96 L1104.06 176.08 L1105.78 173.98 L1107.5 171.78 L1109.22 169.56 L1110.94 167.23 L1112.66 164.71 L1114.38 161.93 L1116.1 158.64 L1117.82 154.37 L1119.54 149.48 L1121.26 144.43 L1122.98 139.63 L1124.69 135.51 L1126.41 132.5 L1128.13 130.47 L1129.85 128.66 L1131.57 127.03 L1133.29 125.53 L1135.01 124.14 L1136.73 122.84 L1138.45 121.6 L1140.17 120.4 L1141.89 119.22 L1143.61 118 L1145.33 116.75 L1147.05 115.49 L1148.77 114.2 L1150.49 112.88 L1152.21 111.57 L1153.93 110.3 L1155.65 109.11 L1157.37 108.05 L1159.08 107.11 L1160.8 106.3 L1162.52 105.62 L1164.24 105.09 L1165.96 104.72 L1167.68 104.46 L1169.4 104.24 L1171.12 104.05 L1172.84 103.88 L1174.56 103.72 L1176.28 103.58 L1178 103.44 L1179.72 103.28 L1181.44 103.11 L1183.16 102.91 L1184.88 102.68 L1186.6 102.4 L1188.32 102.11 L1190.04 101.82 L1191.75 101.54 L1193.47 101.26 L1195.19 101 L1196.91 100.75 L1198.63 100.52 L1200.35 100.31 L1202.07 100.13 L1203.79 99.97 L1205.51 99.85 L1207.23 99.78 L1208.95 99.75 L1210.67 99.77 L1212.39 99.8 L1214.11 99.86 L1215.83 99.93 L1217.55 100.02 L1219.27 100.12 L1220.99 100.24 L1222.71 100.37 L1224.43 100.51 L1226.14 100.65 L1227.86 100.81 L1229.58 100.97 L1231.3 101.14 L1233.02 101.36 L1234.74 101.61 L1236.46 101.9 L1238.18 102.2 L1239.9 102.52 L1241.62 102.85 L1243.34 103.17 L1245.06 103.48 L1246.78 103.77 L1248.5 104.02 L1250.22 104.22 L1251.94 104.37 L1253.66 104.46 L1255.38 104.47 L1257.1 104.42 L1258.82 104.32 L1260.53 104.16 L1262.25 103.97 L1263.97 103.74 L1265.69 103.48 L1267.41 103.2 L1269.13 102.91 L1270.85 102.62 L1272.57 102.35 L1274.29 102.1 L1276.01 101.88 L1277.73 101.7 L1279.45 101.57 L1281.17 101.51 L1282.89 101.51 L1284.61 101.55 L1286.33 101.61 L1288.05 101.69 L1289.77 101.78 L1291.49 101.88 L1293.21 101.97 L1294.92 102.05 L1296.64 102.12 L1298.36 102.2 L1300.08 102.28 L1301.8 102.37 L1303.52 102.45 L1305.24 102.51 L1306.96 102.56 L1308.68 102.59 L1310.4 102.57 L1312.12 102.47 L1313.84 102.28 L1315.56 102.01 L1317.28 101.68 L1319 101.31 L1320.72 100.9 L1322.44 100.46 L1324.16 100 L1325.88 99.41 L1327.6 98.68 L1329.32 97.87 L1331.03 97.03 L1332.75 96.11 L1334.47 95.16 L1336.19 94.24 L1337.91 93.38 L1339.63 92.63 L1341.35 92.01 L1343.07 91.55 L1344.79 91.26 L1346.51 91.1 L1348.23 91.02 L1349.95 90.93 L1351.67 90.85 L1353.39 90.76 L1355.11 90.67 L1356.83 90.58 L1358.55 90.47 L1360.27 90.35 L1361.99 90.2 L1363.71 90.04 L1365.42 89.85 L1367.14 89.65 L1368.86 89.44 L1370.58 89.22 L1372.3 89 L1374.02 88.78 L1375.74 88.56 L1377.46 88.34 L1379.18 88.13 L1380.9 87.93" stroke="#f45e24"/>
<path d="M1037 282.48 L1038.72 282.41 L1040.44 282.35 L1042.16 282.29 L1043.88 282.23 L1045.6 282.18 L1047.32 282.11 L1049.04 282.05 L1050.76 281.97 L1052.48 281.89 L1054.19 281.8 L1055.91 281.69 L1057.63 281.57 L1059.35 281.42 L1061.07 281.22 L1062.79 280.97 L1064.51 280.65 L1066.23 280.26 L1067.95 279.79 L1069.67 279.12 L1071.39 277.27 L1073.11 273.82 L1074.83 265.63 L1076.55 254.63 L1078.27 244.16 L1079.99 235.05 L1081.71 226.14 L1083.43 217.98 L1085.15 210.97 L1086.87 205.14 L1088.59 199.92 L1090.3 195.31 L1092.02 191.34 L1093.74 188.11 L1095.46 185.51 L1097.18 183.32 L1098.9 181.41 L1100.62 179.63 L1102.34 177.87 L1104.06 175.99 L1105.78 173.88 L1107.5 171.68 L1109.22 169.45 L1110.94 167.1 L1112.66 164.56 L1114.38 161.76 L1116.1 158.43 L1117.82 154.12 L1119.54 149.19 L1121.26 144.08 L1122.98 139.23 L1124.69 135.08 L1126.41 132.04 L1128.13 130 L1129.85 128.17 L1131.57 126.53 L1133.29 125.03 L1135.01 123.64 L1136.73 122.34 L1138.45 121.11 L1140.17 119.92 L1141.89 118.75 L1143.61 117.55 L1145.33 116.32 L1147.05 115.07 L1148.77 113.79 L1150.49 112.47 L1152.21 111.16 L1153.93 109.89 L1155.65 108.7 L1157.37 107.61 L1159.08 106.65 L1160.8 105.81 L1162.52 105.09 L1164.24 104.52 L1165.96 104.12 L1167.68 103.81 L1169.4 103.54 L1171.12 103.31 L1172.84 103.09 L1174.56 102.89 L1176.28 102.71 L1178 102.52 L1179.72 102.33 L1181.44 102.13 L1183.16 101.9 L1184.88 101.65 L1186.6 101.36 L1188.32 101.07 L1190.04 100.78 L1191.75 100.49 L1193.47 100.21 L1195.19 99.95 L1196.91 99.7 L1198.63 99.46 L1200.35 99.24 L1202.07 99.05 L1203.79 98.89 L1205.51 98.75 L1207.23 98.66 L1208.95 98.6 L1210.67 98.59 L1212.39 98.59 L1214.11 98.61 L1215.83 98.64 L1217.55 98.68 L1219.27 98.74 L1220.99 98.81 L1222.71 98.89 L1224.43 98.99 L1226.14 99.08 L1227.86 99.19 L1229.58 99.3 L1231.3 99.42 L1233.02 99.58 L1234.74 99.78 L1236.46 100 L1238.18 100.24 L1239.9 100.49 L1241.62 100.75 L1243.34 101.01 L1245.06 101.25 L1246.78 101.48 L1248.5 101.68 L1250.22 101.85 L1251.94 101.96 L1253.66 102.03 L1255.38 102.03 L1257.1 101.99 L1258.82 101.89 L1260.53 101.76 L1262.25 101.59 L1263.97 101.39 L1265.69 101.17 L1267.41 100.93 L1269.13 100.68 L1270.85 100.44 L1272.57 100.2 L1274.29 99.99 L1276.01 99.8 L1277.73 99.64 L1279.45 99.54 L1281.17 99.48 L1282.89 99.49 L1284.61 99.52 L1286.33 99.57 L1288.05 99.64 L1289.77 99.71 L1291.49 99.8 L1293.21 99.87 L1294.92 99.94 L1296.64 100 L1298.36 100.07 L1300.08 100.15 L1301.8 100.22 L1303.52 100.29 L1305.24 100.34 L1306.96 100.38 L1308.68 100.41 L1310.4 100.39 L1312.12 100.3 L1313.84 100.14 L1315.56 99.91 L1317.28 99.63 L1319 99.3 L1320.72 98.95 L1322.44 98.57 L1324.16 98.17 L1325.88 97.65 L1327.6 97.01 L1329.32 96.3 L1331.03 95.56 L1332.75 94.75 L1334.47 93.91 L1336.19 93.1 L1337.91 92.35 L1339.63 91.68 L1341.35 91.13 L1343.07 90.72 L1344.79 90.45 L1346.51 90.3 L1348.23 90.21 L1349.95 90.13 L1351.67 90.04 L1353.39 89.95 L1355.11 89.86 L1356.83 89.76 L1358.55 89.66 L1360.27 89.53 L1361.99 89.38 L1363.71 89.22 L1365.42 89.03 L1367.14 88.84 L1368.86 88.63 L1370.58 88.41 L1372.3 88.19 L1374.02 87.97 L1375.74 87.75 L1377.46 87.54 L1379.18 87.33 L1380.9 87.14" stroke="#f6692c"/>
<path d="M1037 282.56 L1038.72 282.49 L1040.44 282.43 L1042.16 282.37 L1043.88 282.31 L1045.6 282.25 L1047.32 282.18 L1049.04 282.11 L1050.76 282.04 L1052.48 281.95 L1054.19 281.85 L1055.91 281.74 L1057.63 281.61 L1059.35 281.45 L1061.07 281.25 L1062.79 280.99 L1064.51 280.67 L1066.23 280.28 L1067.95 279.79 L1069.67 279.12 L1071.39 277.24 L1073.11 273.74 L1074.83 265.46 L1076.55 254.38 L1078.27 243.92 L1079.99 234.84 L1081.71 225.95 L1083.43 217.8 L1085.15 210.81 L1086.87 205.01 L1088.59 199.79 L1090.3 195.18 L1092.02 191.21 L1093.74 187.98 L1095.46 185.39 L1097.18 183.2 L1098.9 181.3 L1100.62 179.53 L1102.34 177.77 L1104.06 175.9 L1105.78 173.79 L1107.5 171.58 L1109.22 169.33 L1110.94 166.96 L1112.66 164.41 L1114.38 161.58 L1116.1 158.23 L1117.82 153.87 L1119.54 148.9 L1121.26 143.74 L1122.98 138.84 L1124.69 134.64 L1126.41 131.58 L1128.13 129.52 L1129.85 127.68 L1131.57 126.03 L1133.29 124.52 L1135.01 123.13 L1136.73 121.84 L1138.45 120.62 L1140.17 119.44 L1141.89 118.28 L1143.61 117.1 L1145.33 115.88 L1147.05 114.64 L1148.77 113.37 L1150.49 112.06 L1152.21 110.76 L1153.93 109.48 L1155.65 108.28 L1157.37 107.18 L1159.08 106.19 L1160.8 105.31 L1162.52 104.56 L1164.24 103.96 L1165.96 103.51 L1167.68 103.16 L1169.4 102.85 L1171.12 102.57 L1172.84 102.31 L1174.56 102.06 L1176.28 101.83 L1178 101.61 L1179.72 101.38 L1181.44 101.14 L1183.16 100.89 L1184.88 100.62 L1186.6 100.33 L1188.32 100.03 L1190.04 99.73 L1191.75 99.44 L1193.47 99.16 L1195.19 98.89 L1196.91 98.64 L1198.63 98.4 L1200.35 98.18 L1202.07 97.98 L1203.79 97.8 L1205.51 97.65 L1207.23 97.54 L1208.95 97.46 L1210.67 97.41 L1212.39 97.38 L1214.11 97.36 L1215.83 97.35 L1217.55 97.35 L1219.27 97.36 L1220.99 97.39 L1222.71 97.42 L1224.43 97.47 L1226.14 97.52 L1227.86 97.57 L1229.58 97.63 L1231.3 97.7 L1233.02 97.81 L1234.74 97.94 L1236.46 98.1 L1238.18 98.27 L1239.9 98.46 L1241.62 98.65 L1243.34 98.84 L1245.06 99.03 L1246.78 99.2 L1248.5 99.35 L1250.22 99.47 L1251.94 99.56 L1253.66 99.6 L1255.38 99.59 L1257.1 99.55 L1258.82 99.46 L1260.53 99.35 L1262.25 99.21 L1263.97 99.04 L1265.69 98.86 L1267.41 98.66 L1269.13 98.45 L1270.85 98.25 L1272.57 98.05 L1274.29 97.87 L1276.01 97.72 L1277.73 97.59 L1279.45 97.5 L1281.17 97.46 L1282.89 97.46 L1284.61 97.48 L1286.33 97.53 L1288.05 97.58 L1289.77 97.65 L1291.49 97.72 L1293.21 97.78 L1294.92 97.84 L1296.64 97.89 L1298.36 97.95 L1300.08 98.01 L1301.8 98.07 L1303.52 98.12 L1305.24 98.17 L1306.96 98.21 L1308.68 98.22 L1310.4 98.21 L1312.12 98.14 L1313.84 98 L1315.56 97.81 L1317.28 97.57 L1319 97.3 L1320.72 97 L1322.44 96.67 L1324.16 96.34 L1325.88 95.89 L1327.6 95.34 L1329.32 94.74 L1331.03 94.1 L1332.75 93.4 L1334.47 92.69 L1336.19 91.99 L1337.91 91.34 L1339.63 90.77 L1341.35 90.29 L1343.07 89.92 L1344.79 89.68 L1346.51 89.54 L1348.23 89.45 L1349.95 89.36 L1351.67 89.27 L1353.39 89.18 L1355.11 89.09 L1356.83 88.99 L1358.55 88.88 L1360.27 88.75 L1361.99 88.61 L1363.71 88.44 L1365.42 88.26 L1367.14 88.06 L1368.86 87.85 L1370.58 87.64 L1372.3 87.43 L1374.02 87.21 L1375.74 86.99 L1377.46 86.78 L1379.18 86.58 L1380.9 86.38" stroke="#f87433"/>
<path d="M1037 282.64 L1038.72 282.57 L1040.44 282.5 L1042.16 282.44 L1043.88 282.38 L1045.6 282.32 L1047.32 282.25 L1049.04 282.18 L1050.76 282.1 L1052.48 282.01 L1054.19 281.91 L1055.91 281.79 L1057.63 281.66 L1059.35 281.49 L1061.07 281.28 L1062.79 281.02 L1064.51 280.69 L1066.23 280.29 L1067.95 279.79 L1069.67 279.11 L1071.39 277.2 L1073.11 273.67 L1074.83 265.3 L1076.55 254.14 L1078.27 243.67 L1079.99 234.62 L1081.71 225.76 L1083.43 217.62 L1085.15 210.66 L1086.87 204.88 L1088.59 199.67 L1090.3 195.05 L1092.02 191.08 L1093.74 187.85 L1095.46 185.26 L1097.18 183.08 L1098.9 181.19 L1100.62 179.43 L1102.34 177.68 L1104.06 175.81 L1105.78 173.7 L1107.5 171.48 L1109.22 169.22 L1110.94 166.83 L1112.66 164.25 L1114.38 161.41 L1116.1 158.02 L1117.82 153.63 L1119.54 148.6 L1121.26 143.39 L1122.98 138.45 L1124.69 134.21 L1126.41 131.12 L1128.13 129.04 L1129.85 127.19 L1131.57 125.53 L1133.29 124.01 L1135.01 122.63 L1136.73 121.34 L1138.45 120.12 L1140.17 118.96 L1141.89 117.81 L1143.61 116.64 L1145.33 115.45 L1147.05 114.22 L1148.77 112.95 L1150.49 111.65 L1152.21 110.35 L1153.93 109.08 L1155.65 107.86 L1157.37 106.74 L1159.08 105.73 L1160.8 104.82 L1162.52 104.03 L1164.24 103.39 L1165.96 102.9 L1167.68 102.51 L1169.4 102.16 L1171.12 101.83 L1172.84 101.52 L1174.56 101.23 L1176.28 100.96 L1178 100.69 L1179.72 100.43 L1181.44 100.16 L1183.16 99.88 L1184.88 99.6 L1186.6 99.29 L1188.32 98.98 L1190.04 98.68 L1191.75 98.39 L1193.47 98.11 L1195.19 97.84 L1196.91 97.58 L1198.63 97.34 L1200.35 97.11 L1202.07 96.9 L1203.79 96.72 L1205.51 96.55 L1207.23 96.42 L1208.95 96.31 L1210.67 96.23 L1212.39 96.16 L1214.11 96.1 L1215.83 96.06 L1217.55 96.02 L1219.27 95.99 L1220.99 95.97 L1222.71 95.95 L1224.43 95.95 L1226.14 95.95 L1227.86 95.95 L1229.58 95.96 L1231.3 95.98 L1233.02 96.03 L1234.74 96.1 L1236.46 96.19 L1238.18 96.3 L1239.9 96.42 L1241.62 96.55 L1243.34 96.68 L1245.06 96.8 L1246.78 96.92 L1248.5 97.02 L1250.22 97.09 L1251.94 97.15 L1253.66 97.17 L1255.38 97.15 L1257.1 97.11 L1258.82 97.04 L1260.53 96.94 L1262.25 96.83 L1263.97 96.7 L1265.69 96.55 L1267.41 96.39 L1269.13 96.23 L1270.85 96.06 L1272.57 95.91 L1274.29 95.76 L1276.01 95.64 L1277.73 95.54 L1279.45 95.46 L1281.17 95.43 L1282.89 95.43 L1284.61 95.45 L1286.33 95.48 L1288.05 95.53 L1289.77 95.58 L1291.49 95.64 L1293.21 95.69 L1294.92 95.73 L1296.64 95.78 L1298.36 95.82 L1300.08 95.87 L1301.8 95.92 L1303.52 95.96 L1305.24 96 L1306.96 96.03 L1308.68 96.04 L1310.4 96.03 L1312.12 95.97 L1313.84 95.86 L1315.56 95.71 L1317.28 95.52 L1319 95.29 L1320.72 95.04 L1322.44 94.78 L1324.16 94.5 L1325.88 94.13 L1327.6 93.68 L1329.32 93.18 L1331.03 92.65 L1332.75 92.07 L1334.47 91.48 L1336.19 90.9 L1337.91 90.36 L1339.63 89.88 L1341.35 89.47 L1343.07 89.16 L1344.79 88.95 L1346.51 88.81 L1348.23 88.72 L1349.95 88.63 L1351.67 88.54 L1353.39 88.45 L1355.11 88.35 L1356.83 88.26 L1358.55 88.15 L1360.27 88.02 L1361.99 87.87 L1363.71 87.7 L1365.42 87.52 L1367.14 87.32 L1368.86 87.12 L1370.58 86.91 L1372.3 86.69 L1374.02 86.48 L1375.74 86.27 L1377.46 86.06 L1379.18 85.86 L1380.9 85.67" stroke="#f9803b"/>
<path d="M1037 282.72 L1038.72 282.64 L1040.44 282.58 L1042.16 282.51 L1043.88 282.45 L1045.6 282.39 L1047.32 282.32 L1049.04 282.25 L1050.76 282.17 L1052.48 282.07 L1054.19 281.96 L1055.91 281.84 L1057.63 281.7 L1059.35 281.53 L1061.07 281.32 L1062.79 281.05 L1064.51 280.71 L1066.23 280.3 L1067.95 279.79 L1069.67 279.1 L1071.39 277.17 L1073.11 273.59 L1074.83 265.13 L1076.55 253.9 L1078.27 243.42 L1079.99 234.41 L1081.71 225.57 L1083.43 217.44 L1085.15 210.5 L1086.87 204.75 L1088.59 199.54 L1090.3 194.92 L1092.02 190.95 L1093.74 187.72 L1095.46 185.13 L1097.18 182.97 L1098.9 181.07 L1100.62 179.32 L1102.34 177.58 L1104.06 175.72 L1105.78 173.61 L1107.5 171.38 L1109.22 169.1 L1110.94 166.7 L1112.66 164.1 L1114.38 161.23 L1116.1 157.82 L1117.82 153.38 L1119.54 148.31 L1121.26 143.05 L1122.98 138.06 L1124.69 133.78 L1126.41 130.66 L1128.13 128.56 L1129.85 126.7 L1131.57 125.02 L1133.29 123.51 L1135.01 122.12 L1136.73 120.84 L1138.45 119.63 L1140.17 118.47 L1141.89 117.34 L1143.61 116.19 L1145.33 115.01 L1147.05 113.8 L1148.77 112.53 L1150.49 111.24 L1152.21 109.94 L1153.93 108.67 L1155.65 107.45 L1157.37 106.31 L1159.08 105.27 L1160.8 104.32 L1162.52 103.5 L1164.24 102.82 L1165.96 102.29 L1167.68 101.86 L1169.4 101.46 L1171.12 101.09 L1172.84 100.73 L1174.56 100.4 L1176.28 100.08 L1178 99.78 L1179.72 99.47 L1181.44 99.18 L1183.16 98.88 L1184.88 98.57 L1186.6 98.25 L1188.32 97.94 L1190.04 97.64 L1191.75 97.34 L1193.47 97.06 L1195.19 96.79 L1196.91 96.53 L1198.63 96.28 L1200.35 96.05 L1202.07 95.83 L1203.79 95.63 L1205.51 95.45 L1207.23 95.3 L1208.95 95.17 L1210.67 95.05 L1212.39 94.95 L1214.11 94.85 L1215.83 94.76 L1217.55 94.68 L1219.27 94.61 L1220.99 94.54 L1222.71 94.48 L1224.43 94.43 L1226.14 94.38 L1227.86 94.33 L1229.58 94.29 L1231.3 94.26 L1233.02 94.26 L1234.74 94.27 L1236.46 94.29 L1238.18 94.34 L1239.9 94.39 L1241.62 94.45 L1243.34 94.51 L1245.06 94.57 L1246.78 94.63 L1248.5 94.68 L1250.22 94.72 L1251.94 94.74 L1253.66 94.74 L1255.38 94.71 L1257.1 94.67 L1258.82 94.61 L1260.53 94.54 L1262.25 94.45 L1263.97 94.35 L1265.69 94.24 L1267.41 94.12 L1269.13 94 L1270.85 93.88 L1272.57 93.76 L1274.29 93.65 L1276.01 93.56 L1277.73 93.48 L1279.45 93.43 L1281.17 93.4 L1282.89 93.4 L1284.61 93.42 L1286.33 93.44 L1288.05 93.48 L1289.77 93.52 L1291.49 93.56 L1293.21 93.59 L1294.92 93.63 L1296.64 93.66 L1298.36 93.69 L1300.08 93.73 L1301.8 93.77 L1303.52 93.8 L1305.24 93.83 L1306.96 93.85 L1308.68 93.86 L1310.4 93.85 L1312.12 93.81 L1313.84 93.73 L1315.56 93.61 L1317.28 93.46 L1319 93.29 L1320.72 93.09 L1322.44 92.89 L1324.16 92.67 L1325.88 92.38 L1327.6 92.03 L1329.32 91.63 L1331.03 91.21 L1332.75 90.76 L1334.47 90.29 L1336.19 89.83 L1337.91 89.4 L1339.63 89.02 L1341.35 88.69 L1343.07 88.43 L1344.79 88.25 L1346.51 88.12 L1348.23 88.03 L1349.95 87.94 L1351.67 87.85 L1353.39 87.75 L1355.11 87.66 L1356.83 87.56 L1358.55 87.44 L1360.27 87.31 L1361.99 87.16 L1363.71 86.99 L1365.42 86.81 L1367.14 86.62 L1368.86 86.42 L1370.58 86.21 L1372.3 86 L1374.02 85.79 L1375.74 85.57 L1377.46 85.37 L1379.18 85.17 L1380.9 84.98" stroke="#fb8f49"/>
<path d="M1037 282.79 L1038.72 282.72 L1040.44 282.65 L1042.16 282.59 L1043.88 282.53 L1045.6 282.46 L1047.32 282.39 L1049.04 282.32 L1050.76 282.23 L1052.48 282.13 L1054.19 282.02 L1055.91 281.89 L1057.63 281.75 L1059.35 281.57 L1061.07 281.35 L1062.79 281.07 L1064.51 280.73 L1066.23 280.31 L1067.95 279.8 L1069.67 279.09 L1071.39 277.14 L1073.11 273.52 L1074.83 264.97 L1076.55 253.66 L1078.27 243.17 L1079.99 234.19 L1081.71 225.37 L1083.43 217.26 L1085.15 210.35 L1086.87 204.61 L1088.59 199.41 L1090.3 194.79 L1092.02 190.82 L1093.74 187.59 L1095.46 185.01 L1097.18 182.85 L1098.9 180.96 L1100.62 179.22 L1102.34 177.49 L1104.06 175.63 L1105.78 173.51 L1107.5 171.27 L1109.22 168.99 L1110.94 166.57 L1112.66 163.95 L1114.38 161.06 L1116.1 157.61 L1117.82 153.14 L1119.54 148.01 L1121.26 142.71 L1122.98 137.67 L1124.69 133.35 L1126.41 130.2 L1128.13 128.08 L1129.85 126.21 L1131.57 124.52 L1133.29 123 L1135.01 121.62 L1136.73 120.34 L1138.45 119.14 L1140.17 117.99 L1141.89 116.87 L1143.61 115.74 L1145.33 114.58 L1147.05 113.37 L1148.77 112.12 L1150.49 110.83 L1152.21 109.54 L1153.93 108.26 L1155.65 107.03 L1157.37 105.87 L1159.08 104.8 L1160.8 103.83 L1162.52 102.97 L1164.24 102.25 L1165.96 101.68 L1167.68 101.21 L1169.4 100.77 L1171.12 100.35 L1172.84 99.95 L1174.56 99.57 L1176.28 99.21 L1178 98.86 L1179.72 98.52 L1181.44 98.19 L1183.16 97.87 L1184.88 97.54 L1186.6 97.22 L1188.32 96.9 L1190.04 96.59 L1191.75 96.29 L1193.47 96.01 L1195.19 95.73 L1196.91 95.47 L1198.63 95.22 L1200.35 94.98 L1202.07 94.76 L1203.79 94.55 L1205.51 94.36 L1207.23 94.18 L1208.95 94.02 L1210.67 93.88 L1212.39 93.74 L1214.11 93.6 L1215.83 93.47 L1217.55 93.35 L1219.27 93.23 L1220.99 93.12 L1222.71 93.01 L1224.43 92.91 L1226.14 92.81 L1227.86 92.71 L1229.58 92.63 L1231.3 92.54 L1233.02 92.48 L1234.74 92.43 L1236.46 92.39 L1238.18 92.37 L1239.9 92.36 L1241.62 92.35 L1243.34 92.35 L1245.06 92.35 L1246.78 92.35 L1248.5 92.35 L1250.22 92.34 L1251.94 92.33 L1253.66 92.31 L1255.38 92.27 L1257.1 92.23 L1258.82 92.18 L1260.53 92.13 L1262.25 92.07 L1263.97 92.01 L1265.69 91.93 L1267.41 91.85 L1269.13 91.77 L1270.85 91.69 L1272.57 91.61 L1274.29 91.54 L1276.01 91.48 L1277.73 91.43 L1279.45 91.39 L1281.17 91.37 L1282.89 91.37 L1284.61 91.38 L1286.33 91.4 L1288.05 91.42 L1289.77 91.45 L1291.49 91.48 L1293.21 91.5 L1294.92 91.53 L1296.64 91.55 L1298.36 91.57 L1300.08 91.59 L1301.8 91.62 L1303.52 91.64 L1305.24 91.66 L1306.96 91.67 L1308.68 91.68 L1310.4 91.67 L1312.12 91.64 L1313.84 91.59 L1315.56 91.51 L1317.28 91.41 L1319 91.28 L1320.72 91.14 L1322.44 91 L1324.16 90.84 L1325.88 90.63 L1327.6 90.37 L1329.32 90.09 L1331.03 89.78 L1332.75 89.45 L1334.47 89.12 L1336.19 88.78 L1337.91 88.47 L1339.63 88.18 L1341.35 87.93 L1343.07 87.73 L1344.79 87.57 L1346.51 87.46 L1348.23 87.37 L1349.95 87.27 L1351.67 87.18 L1353.39 87.08 L1355.11 86.99 L1356.83 86.89 L1358.55 86.77 L1360.27 86.64 L1361.99 86.49 L1363.71 86.32 L1365.42 86.14 L1367.14 85.95 L1368.86 85.75 L1370.58 85.54 L1372.3 85.33 L1374.02 85.12 L1375.74 84.91 L1377.46 84.71 L1379.18 84.51 L1380.9 84.33" stroke="#fca25c"/>
<path d="M1037 282.87 L1038.72 282.8 L1040.44 282.73 L1042.16 282.66 L1043.88 282.6 L1045.6 282.53 L1047.32 282.46 L1049.04 282.38 L1050.76 282.29 L1052.48 282.19 L1054.19 282.07 L1055.91 281.94 L1057.63 281.79 L1059.35 281.61 L1061.07 281.38 L1062.79 281.1 L1064.51 280.75 L1066.23 280.32 L1067.95 279.8 L1069.67 279.08 L1071.39 277.11 L1073.11 273.45 L1074.83 264.8 L1076.55 253.42 L1078.27 242.92 L1079.99 233.98 L1081.71 225.18 L1083.43 217.08 L1085.15 210.19 L1086.87 204.48 L1088.59 199.28 L1090.3 194.66 L1092.02 190.69 L1093.74 187.46 L1095.46 184.88 L1097.18 182.73 L1098.9 180.85 L1100.62 179.12 L1102.34 177.39 L1104.06 175.54 L1105.78 173.42 L1107.5 171.17 L1109.22 168.87 L1110.94 166.44 L1112.66 163.8 L1114.38 160.88 L1116.1 157.41 L1117.82 152.89 L1119.54 147.72 L1121.26 142.36 L1122.98 137.28 L1124.69 132.91 L1126.41 129.74 L1128.13 127.61 L1129.85 125.71 L1131.57 124.02 L1133.29 122.5 L1135.01 121.11 L1136.73 119.84 L1138.45 118.64 L1140.17 117.51 L1141.89 116.4 L1143.61 115.29 L1145.33 114.14 L1147.05 112.95 L1148.77 111.7 L1150.49 110.42 L1152.21 109.13 L1153.93 107.85 L1155.65 106.62 L1157.37 105.44 L1159.08 104.34 L1160.8 103.34 L1162.52 102.44 L1164.24 101.68 L1165.96 101.08 L1167.68 100.56 L1169.4 100.07 L1171.12 99.61 L1172.84 99.16 L1174.56 98.74 L1176.28 98.33 L1178 97.95 L1179.72 97.57 L1181.44 97.21 L1183.16 96.86 L1184.88 96.52 L1186.6 96.18 L1188.32 95.86 L1190.04 95.54 L1191.75 95.24 L1193.47 94.95 L1195.19 94.68 L1196.91 94.41 L1198.63 94.16 L1200.35 93.92 L1202.07 93.68 L1203.79 93.46 L1205.51 93.26 L1207.23 93.06 L1208.95 92.87 L1210.67 92.7 L1212.39 92.52 L1214.11 92.35 L1215.83 92.18 L1217.55 92.02 L1219.27 91.85 L1220.99 91.69 L1222.71 91.54 L1224.43 91.39 L1226.14 91.24 L1227.86 91.1 L1229.58 90.96 L1231.3 90.83 L1233.02 90.7 L1234.74 90.59 L1236.46 90.49 L1238.18 90.4 L1239.9 90.32 L1241.62 90.25 L1243.34 90.18 L1245.06 90.12 L1246.78 90.07 L1248.5 90.01 L1250.22 89.97 L1251.94 89.92 L1253.66 89.88 L1255.38 89.83 L1257.1 89.79 L1258.82 89.75 L1260.53 89.72 L1262.25 89.69 L1263.97 89.66 L1265.69 89.62 L1267.41 89.58 L1269.13 89.54 L1270.85 89.5 L1272.57 89.46 L1274.29 89.43 L1276.01 89.4 L1277.73 89.37 L1279.45 89.35 L1281.17 89.34 L1282.89 89.34 L1284.61 89.35 L1286.33 89.36 L1288.05 89.37 L1289.77 89.38 L1291.49 89.4 L1293.21 89.41 L1294.92 89.42 L1296.64 89.43 L1298.36 89.44 L1300.08 89.45 L1301.8 89.47 L1303.52 89.48 L1305.24 89.49 L1306.96 89.49 L1308.68 89.5 L1310.4 89.5 L1312.12 89.48 L1313.84 89.45 L1315.56 89.41 L1317.28 89.35 L1319 89.28 L1320.72 89.19 L1322.44 89.1 L1324.16 89 L1325.88 88.87 L1327.6 88.72 L1329.32 88.55 L1331.03 88.36 L1332.75 88.16 L1334.47 87.96 L1336.19 87.75 L1337.91 87.55 L1339.63 87.37 L1341.35 87.2 L1343.07 87.05 L1344.79 86.93 L1346.51 86.83 L1348.23 86.73 L1349.95 86.64 L1351.67 86.54 L1353.39 86.44 L1355.11 86.35 L1356.83 86.25 L1358.55 86.13 L1360.27 85.99 L1361.99 85.84 L1363.71 85.67 L1365.42 85.49 L1367.14 85.3 L1368.86 85.1 L1370.58 84.9 L1372.3 84.69 L1374.02 84.49 L1375.74 84.28 L1377.46 84.08 L1379.18 83.88 L1380.9 83.7" stroke="#feb56f"/>
<path d="M1037 282.95 L1038.72 282.87 L1040.44 282.8 L1042.16 282.74 L1043.88 282.67 L1045.6 282.6 L1047.32 282.53 L1049.04 282.45 L1050.76 282.36 L1052.48 282.25 L1054.19 282.13 L1055.91 281.99 L1057.63 281.83 L1059.35 281.65 L1061.07 281.41 L1062.79 281.12 L1064.51 280.77 L1066.23 280.33 L1067.95 279.8 L1069.67 279.07 L1071.39 277.08 L1073.11 273.37 L1074.83 264.64 L1076.55 253.18 L1078.27 242.67 L1079.99 233.76 L1081.71 224.99 L1083.43 216.9 L1085.15 210.04 L1086.87 204.35 L1088.59 199.16 L1090.3 194.53 L1092.02 190.56 L1093.74 187.33 L1095.46 184.76 L1097.18 182.61 L1098.9 180.74 L1100.62 179.01 L1102.34 177.3 L1104.06 175.45 L1105.78 173.33 L1107.5 171.07 L1109.22 168.76 L1110.94 166.31 L1112.66 163.65 L1114.38 160.71 L1116.1 157.2 L1117.82 152.64 L1119.54 147.43 L1121.26 142.02 L1122.98 136.88 L1124.69 132.48 L1126.41 129.28 L1128.13 127.13 L1129.85 125.22 L1131.57 123.52 L1133.29 121.99 L1135.01 120.6 L1136.73 119.33 L1138.45 118.15 L1140.17 117.03 L1141.89 115.93 L1143.61 114.83 L1145.33 113.71 L1147.05 112.52 L1148.77 111.28 L1150.49 110.01 L1152.21 108.72 L1153.93 107.45 L1155.65 106.2 L1157.37 105.01 L1159.08 103.88 L1160.8 102.84 L1162.52 101.91 L1164.24 101.12 L1165.96 100.47 L1167.68 99.91 L1169.4 99.38 L1171.12 98.87 L1172.84 98.38 L1174.56 97.91 L1176.28 97.46 L1178 97.03 L1179.72 96.62 L1181.44 96.23 L1183.16 95.85 L1184.88 95.49 L1186.6 95.14 L1188.32 94.81 L1190.04 94.5 L1191.75 94.19 L1193.47 93.9 L1195.19 93.62 L1196.91 93.36 L1198.63 93.1 L1200.35 92.85 L1202.07 92.61 L1203.79 92.38 L1205.51 92.16 L1207.23 91.94 L1208.95 91.73 L1210.67 91.52 L1212.39 91.31 L1214.11 91.1 L1215.83 90.89 L1217.55 90.68 L1219.27 90.48 L1220.99 90.27 L1222.71 90.07 L1224.43 89.87 L1226.14 89.67 L1227.86 89.48 L1229.58 89.29 L1231.3 89.11 L1233.02 88.93 L1234.74 88.76 L1236.46 88.59 L1238.18 88.44 L1239.9 88.29 L1241.62 88.15 L1243.34 88.02 L1245.06 87.89 L1246.78 87.78 L1248.5 87.68 L1250.22 87.59 L1251.94 87.51 L1253.66 87.45 L1255.38 87.39 L1257.1 87.35 L1258.82 87.33 L1260.53 87.32 L1262.25 87.32 L1263.97 87.32 L1265.69 87.32 L1267.41 87.32 L1269.13 87.32 L1270.85 87.32 L1272.57 87.32 L1274.29 87.32 L1276.01 87.32 L1277.73 87.32 L1279.45 87.32 L1281.17 87.32 L1282.89 87.32 L1284.61 87.32 L1286.33 87.32 L1288.05 87.32 L1289.77 87.32 L1291.49 87.32 L1293.21 87.32 L1294.92 87.32 L1296.64 87.32 L1298.36 87.32 L1300.08 87.32 L1301.8 87.32 L1303.52 87.32 L1305.24 87.32 L1306.96 87.32 L1308.68 87.32 L1310.4 87.32 L1312.12 87.32 L1313.84 87.32 L1315.56 87.31 L1317.28 87.29 L1319 87.27 L1320.72 87.24 L1322.44 87.21 L1324.16 87.17 L1325.88 87.12 L1327.6 87.07 L1329.32 87.01 L1331.03 86.95 L1332.75 86.88 L1334.47 86.81 L1336.19 86.74 L1337.91 86.66 L1339.63 86.58 L1341.35 86.49 L1343.07 86.4 L1344.79 86.31 L1346.51 86.22 L1348.23 86.12 L1349.95 86.03 L1351.67 85.93 L1353.39 85.83 L1355.11 85.73 L1356.83 85.63 L1358.55 85.51 L1360.27 85.37 L1361.99 85.22 L1363.71 85.05 L1365.42 84.87 L1367.14 84.68 L1368.86 84.49 L1370.58 84.28 L1372.3 84.08 L1374.02 83.88 L1375.74 83.67 L1377.46 83.47 L1379.18 83.28 L1380.9 83.1" stroke="#ffc882"/>
</g>
<g clip-path="url(#clipc)" fill="none" stroke-width="2" shape-rendering="crispEdges">
<path d="M1037 271.17 L1050.76 273.09 L1062.22 275.28 L1072.54 276.65" stroke="#e8501a"/>
<path d="M1043.88 266.51 L1059.93 266.51 L1069.1 267.61 L1073.68 264.32" stroke="#f0601e"/>
<path d="M1037 273.09 L1054.19 278.02 L1071.39 279.66" stroke="#f47a30"/>
<path d="M1037 277.47 L1057.63 280.76 L1072.54 280.76" stroke="#fb9a4c"/>
<path d="M1037 280.76 L1059.93 282.68 L1072.54 282.13" stroke="#ffb468"/>
<path d="M1037 282.68 L1072.54 283.23" stroke="#ffc685"/>
<path d="M1037 275.28 L1048.46 274.18 L1065.66 272.54 L1073.68 268.43" stroke="#c82808"/>
</g>
<path d="M110.5 310.7V305.2M196.8 310.7V305.2M283.1 310.7V305.2M369.4 310.7V305.2M455.7 310.7V305.2M153.65 310.7V307.9M239.95 310.7V307.9M326.25 310.7V307.9M412.55 310.7V307.9M110.5 310.7H116M110.5 276.25H116M110.5 241.8H116M110.5 207.35H116M110.5 172.9H116M110.5 138.45H116M110.5 104H116M110.5 69.55H116M110.5 35.1H116M110.5 300.33H113.3M110.5 294.26H113.3M110.5 289.96H113.3M110.5 286.62H113.3M110.5 283.89H113.3M110.5 281.59H113.3M110.5 279.59H113.3M110.5 277.83H113.3M110.5 265.88H113.3M110.5 259.81H113.3M110.5 255.51H113.3M110.5 252.17H113.3M110.5 249.44H113.3M110.5 247.14H113.3M110.5 245.14H113.3M110.5 243.38H113.3M110.5 231.43H113.3M110.5 225.36H113.3M110.5 221.06H113.3M110.5 217.72H113.3M110.5 214.99H113.3M110.5 212.69H113.3M110.5 210.69H113.3M110.5 208.93H113.3M110.5 196.98H113.3M110.5 190.91H113.3M110.5 186.61H113.3M110.5 183.27H113.3M110.5 180.54H113.3M110.5 178.24H113.3M110.5 176.24H113.3M110.5 174.48H113.3M110.5 162.53H113.3M110.5 156.46H113.3M110.5 152.16H113.3M110.5 148.82H113.3M110.5 146.09H113.3M110.5 143.79H113.3M110.5 141.79H113.3M110.5 140.03H113.3M110.5 128.08H113.3M110.5 122.01H113.3M110.5 117.71H113.3M110.5 114.37H113.3M110.5 111.64H113.3M110.5 109.34H113.3M110.5 107.34H113.3M110.5 105.58H113.3M110.5 93.63H113.3M110.5 87.56H113.3M110.5 83.26H113.3M110.5 79.92H113.3M110.5 77.19H113.3M110.5 74.89H113.3M110.5 72.89H113.3M110.5 71.13H113.3M110.5 59.18H113.3M110.5 53.11H113.3M110.5 48.81H113.3M110.5 45.47H113.3M110.5 42.74H113.3M110.5 40.44H113.3M110.5 38.44H113.3M110.5 36.68H113.3" stroke="#000" stroke-width="1.5" fill="none"/>
<path d="M573.1 311.9V303.9M659.55 311.9V303.9M746 311.9V303.9M832.45 311.9V303.9M918.9 311.9V303.9M616.33 311.9V307.4M702.77 311.9V307.4M789.23 311.9V307.4M875.67 311.9V307.4M573.1 311.9H581.1M573.1 281.24H581.1M573.1 250.59H581.1M573.1 219.93H581.1M573.1 189.28H581.1M573.1 158.62H581.1M573.1 127.97H581.1M573.1 97.31H581.1M573.1 66.66H581.1M573.1 36H581.1M573.1 302.67H577.6M573.1 297.27H577.6M573.1 293.44H577.6M573.1 290.47H577.6M573.1 288.05H577.6M573.1 285.99H577.6M573.1 284.22H577.6M573.1 282.65H577.6M573.1 272.02H577.6M573.1 266.62H577.6M573.1 262.79H577.6M573.1 259.82H577.6M573.1 257.39H577.6M573.1 255.34H577.6M573.1 253.56H577.6M573.1 251.99H577.6M573.1 241.36H577.6M573.1 235.96H577.6M573.1 232.13H577.6M573.1 229.16H577.6M573.1 226.73H577.6M573.1 224.68H577.6M573.1 222.9H577.6M573.1 221.34H577.6M573.1 210.71H577.6M573.1 205.31H577.6M573.1 201.48H577.6M573.1 198.51H577.6M573.1 196.08H577.6M573.1 194.03H577.6M573.1 192.25H577.6M573.1 190.68H577.6M573.1 180.05H577.6M573.1 174.65H577.6M573.1 170.82H577.6M573.1 167.85H577.6M573.1 165.42H577.6M573.1 163.37H577.6M573.1 161.59H577.6M573.1 160.02H577.6M573.1 149.39H577.6M573.1 144H577.6M573.1 140.17H577.6M573.1 137.19H577.6M573.1 134.77H577.6M573.1 132.72H577.6M573.1 130.94H577.6M573.1 129.37H577.6M573.1 118.74H577.6M573.1 113.34H577.6M573.1 109.51H577.6M573.1 106.54H577.6M573.1 104.11H577.6M573.1 102.06H577.6M573.1 100.28H577.6M573.1 98.71H577.6M573.1 88.08H577.6M573.1 82.68H577.6M573.1 78.85H577.6M573.1 75.88H577.6M573.1 73.46H577.6M573.1 71.4H577.6M573.1 69.63H577.6M573.1 68.06H577.6M573.1 57.43H577.6M573.1 52.03H577.6M573.1 48.2H577.6M573.1 45.23H577.6M573.1 42.8H577.6M573.1 40.75H577.6M573.1 38.97H577.6M573.1 37.4H577.6" stroke="#000" stroke-width="1.5" fill="none"/>
<path d="M1037 310.9V302.4M1094.32 310.9V302.4M1151.63 310.9V302.4M1208.95 310.9V302.4M1266.27 310.9V302.4M1323.58 310.9V302.4M1380.9 310.9V302.4M1065.66 310.9V305.9M1122.97 310.9V305.9M1180.29 310.9V305.9M1237.61 310.9V305.9M1294.93 310.9V305.9M1352.24 310.9V305.9M1037 310.9H1045.5M1037 283.5H1045.5M1037 256.1H1045.5M1037 228.7H1045.5M1037 201.3H1045.5M1037 173.9H1045.5M1037 146.5H1045.5M1037 119.1H1045.5M1037 91.7H1045.5M1037 64.3H1045.5M1037 36.9H1045.5M1037 302.65H1042M1037 297.83H1042M1037 294.4H1042M1037 291.75H1042M1037 289.58H1042M1037 287.74H1042M1037 286.16H1042M1037 284.75H1042M1037 275.25H1042M1037 270.43H1042M1037 267H1042M1037 264.35H1042M1037 262.18H1042M1037 260.34H1042M1037 258.76H1042M1037 257.35H1042M1037 247.85H1042M1037 243.03H1042M1037 239.6H1042M1037 236.95H1042M1037 234.78H1042M1037 232.94H1042M1037 231.36H1042M1037 229.95H1042M1037 220.45H1042M1037 215.63H1042M1037 212.2H1042M1037 209.55H1042M1037 207.38H1042M1037 205.54H1042M1037 203.96H1042M1037 202.55H1042M1037 193.05H1042M1037 188.23H1042M1037 184.8H1042M1037 182.15H1042M1037 179.98H1042M1037 178.14H1042M1037 176.56H1042M1037 175.15H1042M1037 165.65H1042M1037 160.83H1042M1037 157.4H1042M1037 154.75H1042M1037 152.58H1042M1037 150.74H1042M1037 149.16H1042M1037 147.75H1042M1037 138.25H1042M1037 133.43H1042M1037 130H1042M1037 127.35H1042M1037 125.18H1042M1037 123.34H1042M1037 121.76H1042M1037 120.35H1042M1037 110.85H1042M1037 106.03H1042M1037 102.6H1042M1037 99.95H1042M1037 97.78H1042M1037 95.94H1042M1037 94.36H1042M1037 92.95H1042M1037 83.45H1042M1037 78.63H1042M1037 75.2H1042M1037 72.55H1042M1037 70.38H1042M1037 68.54H1042M1037 66.96H1042M1037 65.55H1042M1037 56.05H1042M1037 51.23H1042M1037 47.8H1042M1037 45.15H1042M1037 42.98H1042M1037 41.14H1042M1037 39.56H1042M1037 38.15H1042" stroke="#000" stroke-width="1.5" fill="none"/>
<path d="M111 684.5V677M179.74 684.5V677M248.48 684.5V677M317.22 684.5V677M385.96 684.5V677M454.7 684.5V677M145.37 684.5V680.7M214.11 684.5V680.7M282.85 684.5V680.7M351.59 684.5V680.7M420.33 684.5V680.7M111 684.5H118.5M111 627.74H118.5M111 570.98H118.5M111 514.22H118.5M111 457.46H118.5M111 400.7H118.5M111 656.12H114.8M111 599.36H114.8M111 542.6H114.8M111 485.84H114.8M111 429.08H114.8" stroke="#000" stroke-width="1.7" fill="none"/>
<path d="M575 684.8V677.3M643.76 684.8V677.3M712.52 684.8V677.3M781.28 684.8V677.3M850.04 684.8V677.3M918.8 684.8V677.3M609.38 684.8V681M678.14 684.8V681M746.9 684.8V681M815.66 684.8V681M884.42 684.8V681M575 684.8H582.5M575 613.77H582.5M575 542.75H582.5M575 471.72H582.5M575 400.7H582.5M575 649.29H578.8M575 578.26H578.8M575 507.24H578.8M575 436.21H578.8" stroke="#000" stroke-width="1.7" fill="none"/>
<path d="M1043 683.8V676.3M1111.78 683.8V676.3M1180.56 683.8V676.3M1249.34 683.8V676.3M1318.12 683.8V676.3M1386.9 683.8V676.3M1077.39 683.8V680M1146.17 683.8V680M1214.95 683.8V680M1283.73 683.8V680M1352.51 683.8V680M1043 683.8H1050.5M1043 636.62H1050.5M1043 589.43H1050.5M1043 542.25H1050.5M1043 495.07H1050.5M1043 447.88H1050.5M1043 400.7H1050.5M1043 660.21H1046.8M1043 613.02H1046.8M1043 565.84H1046.8M1043 518.66H1046.8M1043 471.47H1046.8M1043 424.29H1046.8" stroke="#000" stroke-width="1.7" fill="none"/>
<rect x="110.5" y="35.1" width="345.2" height="275.6" fill="none" stroke="#000" stroke-width="2.0"/>
<rect x="573.1" y="36" width="345.8" height="275.9" fill="none" stroke="#000" stroke-width="2.0"/>
<rect x="1037" y="36.9" width="343.9" height="274" fill="none" stroke="#000" stroke-width="2.0"/>
<rect x="111" y="400.7" width="343.7" height="283.8" fill="none" stroke="#000" stroke-width="2.0"/>
<rect x="575" y="400.7" width="343.8" height="284.1" fill="none" stroke="#000" stroke-width="2.0"/>
<rect x="1043" y="400.7" width="343.9" height="283.1" fill="none" stroke="#000" stroke-width="2.0"/>
<path d="M283.6 173.3L321.25 66.26" stroke="#111" stroke-width="1.2"/>
<path d="M324.4 57.3L325.49 69.87L315.68 66.42Z" fill="#000"/>
<path d="M732.8 198.3L798.34 96.98" stroke="#111" stroke-width="1.2"/>
<path d="M803.5 89L801.62 101.48L792.89 95.83Z" fill="#000"/>
<path d="M1174.5 181.6L1227.77 74.51" stroke="#111" stroke-width="1.2"/>
<path d="M1232 66L1231.53 78.61L1222.22 73.98Z" fill="#000"/>
<text transform="translate(103.3,319.8) scale(1,1.03)" font-size="22.2" text-anchor="end">10<tspan font-size="15.3" dy="-9.0">-14</tspan></text>
<text transform="translate(103.3,285.35) scale(1,1.03)" font-size="22.2" text-anchor="end">10<tspan font-size="15.3" dy="-9.0">-13</tspan></text>
<text transform="translate(103.3,250.9) scale(1,1.03)" font-size="22.2" text-anchor="end">10<tspan font-size="15.3" dy="-9.0">-12</tspan></text>
<text transform="translate(103.3,216.45) scale(1,1.03)" font-size="22.2" text-anchor="end">10<tspan font-size="15.3" dy="-9.0">-11</tspan></text>
<text transform="translate(103.3,182) scale(1,1.03)" font-size="22.2" text-anchor="end">10<tspan font-size="15.3" dy="-9.0">-10</tspan></text>
<text transform="translate(103.3,147.55) scale(1,1.03)" font-size="22.2" text-anchor="end">10<tspan font-size="15.3" dy="-9.0">-9</tspan></text>
<text transform="translate(103.3,113.1) scale(1,1.03)" font-size="22.2" text-anchor="end">10<tspan font-size="15.3" dy="-9.0">-8</tspan></text>
<text transform="translate(103.3,78.65) scale(1,1.03)" font-size="22.2" text-anchor="end">10<tspan font-size="15.3" dy="-9.0">-7</tspan></text>
<text transform="translate(103.3,44.2) scale(1,1.03)" font-size="22.2" text-anchor="end">10<tspan font-size="15.3" dy="-9.0">-6</tspan></text>
<text transform="translate(564,320.7) scale(1,1.03)" font-size="21" text-anchor="end">10<tspan font-size="15.4" dy="-10.0">-14</tspan></text>
<text transform="translate(564,290.04) scale(1,1.03)" font-size="21" text-anchor="end">10<tspan font-size="15.4" dy="-10.0">-13</tspan></text>
<text transform="translate(564,259.39) scale(1,1.03)" font-size="21" text-anchor="end">10<tspan font-size="15.4" dy="-10.0">-12</tspan></text>
<text transform="translate(564,228.73) scale(1,1.03)" font-size="21" text-anchor="end">10<tspan font-size="15.4" dy="-10.0">-11</tspan></text>
<text transform="translate(564,198.08) scale(1,1.03)" font-size="21" text-anchor="end">10<tspan font-size="15.4" dy="-10.0">-10</tspan></text>
<text transform="translate(564,167.42) scale(1,1.03)" font-size="21" text-anchor="end">10<tspan font-size="15.4" dy="-10.0">-9</tspan></text>
<text transform="translate(564,136.77) scale(1,1.03)" font-size="21" text-anchor="end">10<tspan font-size="15.4" dy="-10.0">-8</tspan></text>
<text transform="translate(564,106.11) scale(1,1.03)" font-size="21" text-anchor="end">10<tspan font-size="15.4" dy="-10.0">-7</tspan></text>
<text transform="translate(564,75.46) scale(1,1.03)" font-size="21" text-anchor="end">10<tspan font-size="15.4" dy="-10.0">-6</tspan></text>
<text transform="translate(564,44.8) scale(1,1.03)" font-size="21" text-anchor="end">10<tspan font-size="15.4" dy="-10.0">-5</tspan></text>
<text transform="translate(1027.4,319.4) scale(1,1.03)" font-size="21" text-anchor="end">10<tspan font-size="14.8" dy="-9.7">-15</tspan></text>
<text transform="translate(1027.4,292) scale(1,1.03)" font-size="21" text-anchor="end">10<tspan font-size="14.8" dy="-9.7">-14</tspan></text>
<text transform="translate(1027.4,264.6) scale(1,1.03)" font-size="21" text-anchor="end">10<tspan font-size="14.8" dy="-9.7">-13</tspan></text>
<text transform="translate(1027.4,237.2) scale(1,1.03)" font-size="21" text-anchor="end">10<tspan font-size="14.8" dy="-9.7">-12</tspan></text>
<text transform="translate(1027.4,209.8) scale(1,1.03)" font-size="21" text-anchor="end">10<tspan font-size="14.8" dy="-9.7">-11</tspan></text>
<text transform="translate(1027.4,182.4) scale(1,1.03)" font-size="21" text-anchor="end">10<tspan font-size="14.8" dy="-9.7">-10</tspan></text>
<text transform="translate(1027.4,155) scale(1,1.03)" font-size="21" text-anchor="end">10<tspan font-size="14.8" dy="-9.7">-9</tspan></text>
<text transform="translate(1027.4,127.6) scale(1,1.03)" font-size="21" text-anchor="end">10<tspan font-size="14.8" dy="-9.7">-8</tspan></text>
<text transform="translate(1027.4,100.2) scale(1,1.03)" font-size="21" text-anchor="end">10<tspan font-size="14.8" dy="-9.7">-7</tspan></text>
<text transform="translate(1027.4,72.8) scale(1,1.03)" font-size="21" text-anchor="end">10<tspan font-size="14.8" dy="-9.7">-6</tspan></text>
<text transform="translate(1027.4,45.4) scale(1,1.03)" font-size="21" text-anchor="end">10<tspan font-size="14.8" dy="-9.7">-5</tspan></text>
<text transform="translate(110.5,334.2) scale(1,1.03)" font-size="22.4" text-anchor="middle" font-weight="normal" >0.0</text>
<text transform="translate(196.8,334.2) scale(1,1.03)" font-size="22.4" text-anchor="middle" font-weight="normal" >0.5</text>
<text transform="translate(283.1,334.2) scale(1,1.03)" font-size="22.4" text-anchor="middle" font-weight="normal" >1.0</text>
<text transform="translate(369.4,334.2) scale(1,1.03)" font-size="22.4" text-anchor="middle" font-weight="normal" >1.5</text>
<text transform="translate(455.7,334.2) scale(1,1.03)" font-size="22.4" text-anchor="middle" font-weight="normal" >2.0</text>
<text transform="translate(573.1,337.6) scale(1,1.03)" font-size="22.4" text-anchor="middle" font-weight="normal" >0.0</text>
<text transform="translate(659.55,337.6) scale(1,1.03)" font-size="22.4" text-anchor="middle" font-weight="normal" >0.5</text>
<text transform="translate(746,337.6) scale(1,1.03)" font-size="22.4" text-anchor="middle" font-weight="normal" >1.0</text>
<text transform="translate(832.45,337.6) scale(1,1.03)" font-size="22.4" text-anchor="middle" font-weight="normal" >1.5</text>
<text transform="translate(918.9,337.6) scale(1,1.03)" font-size="22.4" text-anchor="middle" font-weight="normal" >2.0</text>
<text transform="translate(1037,336.4) scale(1,1.03)" font-size="22.4" text-anchor="middle" font-weight="normal" >0.0</text>
<text transform="translate(1094.32,336.4) scale(1,1.03)" font-size="22.4" text-anchor="middle" font-weight="normal" >0.5</text>
<text transform="translate(1151.63,336.4) scale(1,1.03)" font-size="22.4" text-anchor="middle" font-weight="normal" >1.0</text>
<text transform="translate(1208.95,336.4) scale(1,1.03)" font-size="22.4" text-anchor="middle" font-weight="normal" >1.5</text>
<text transform="translate(1266.27,336.4) scale(1,1.03)" font-size="22.4" text-anchor="middle" font-weight="normal" >2.0</text>
<text transform="translate(1323.58,336.4) scale(1,1.03)" font-size="22.4" text-anchor="middle" font-weight="normal" >2.5</text>
<text transform="translate(1380.9,336.4) scale(1,1.03)" font-size="22.4" text-anchor="middle" font-weight="normal" >3.0</text>
<text transform="translate(111,711.5) scale(1,1.03)" font-size="22.4" text-anchor="middle" font-weight="normal" >0.0</text>
<text transform="translate(179.74,711.5) scale(1,1.03)" font-size="22.4" text-anchor="middle" font-weight="normal" >0.1</text>
<text transform="translate(248.48,711.5) scale(1,1.03)" font-size="22.4" text-anchor="middle" font-weight="normal" >0.2</text>
<text transform="translate(317.22,711.5) scale(1,1.03)" font-size="22.4" text-anchor="middle" font-weight="normal" >0.3</text>
<text transform="translate(385.96,711.5) scale(1,1.03)" font-size="22.4" text-anchor="middle" font-weight="normal" >0.4</text>
<text transform="translate(454.7,711.5) scale(1,1.03)" font-size="22.4" text-anchor="middle" font-weight="normal" >0.5</text>
<text transform="translate(575,711.7) scale(1,1.03)" font-size="22.4" text-anchor="middle" font-weight="normal" >0.0</text>
<text transform="translate(643.76,711.7) scale(1,1.03)" font-size="22.4" text-anchor="middle" font-weight="normal" >0.1</text>
<text transform="translate(712.52,711.7) scale(1,1.03)" font-size="22.4" text-anchor="middle" font-weight="normal" >0.2</text>
<text transform="translate(781.28,711.7) scale(1,1.03)" font-size="22.4" text-anchor="middle" font-weight="normal" >0.3</text>
<text transform="translate(850.04,711.7) scale(1,1.03)" font-size="22.4" text-anchor="middle" font-weight="normal" >0.4</text>
<text transform="translate(918.8,711.7) scale(1,1.03)" font-size="22.4" text-anchor="middle" font-weight="normal" >0.5</text>
<text transform="translate(1043,711) scale(1,1.03)" font-size="22.4" text-anchor="middle" font-weight="normal" >0.0</text>
<text transform="translate(1111.78,711) scale(1,1.03)" font-size="22.4" text-anchor="middle" font-weight="normal" >0.1</text>
<text transform="translate(1180.56,711) scale(1,1.03)" font-size="22.4" text-anchor="middle" font-weight="normal" >0.2</text>
<text transform="translate(1249.34,711) scale(1,1.03)" font-size="22.4" text-anchor="middle" font-weight="normal" >0.3</text>
<text transform="translate(1318.12,711) scale(1,1.03)" font-size="22.4" text-anchor="middle" font-weight="normal" >0.4</text>
<text transform="translate(1386.9,711) scale(1,1.03)" font-size="22.4" text-anchor="middle" font-weight="normal" >0.5</text>
<text transform="translate(100.1,691.5) scale(1,1.03)" font-size="22.4" text-anchor="end" font-weight="normal" >0</text>
<text transform="translate(100.1,634.74) scale(1,1.03)" font-size="22.4" text-anchor="end" font-weight="normal" >5</text>
<text transform="translate(100.1,577.98) scale(1,1.03)" font-size="22.4" text-anchor="end" font-weight="normal" >10</text>
<text transform="translate(100.1,521.22) scale(1,1.03)" font-size="22.4" text-anchor="end" font-weight="normal" >15</text>
<text transform="translate(100.1,464.46) scale(1,1.03)" font-size="22.4" text-anchor="end" font-weight="normal" >20</text>
<text transform="translate(100.1,407.7) scale(1,1.03)" font-size="22.4" text-anchor="end" font-weight="normal" >25</text>
<text transform="translate(565.2,691.8) scale(1,1.03)" font-size="22.4" text-anchor="end" font-weight="normal" >0</text>
<text transform="translate(565.2,620.77) scale(1,1.03)" font-size="22.4" text-anchor="end" font-weight="normal" >10</text>
<text transform="translate(565.2,549.75) scale(1,1.03)" font-size="22.4" text-anchor="end" font-weight="normal" >20</text>
<text transform="translate(565.2,478.72) scale(1,1.03)" font-size="22.4" text-anchor="end" font-weight="normal" >30</text>
<text transform="translate(565.2,407.7) scale(1,1.03)" font-size="22.4" text-anchor="end" font-weight="normal" >40</text>
<text transform="translate(1032.8,690.8) scale(1,1.03)" font-size="22.4" text-anchor="end" font-weight="normal" >0</text>
<text transform="translate(1032.8,643.62) scale(1,1.03)" font-size="22.4" text-anchor="end" font-weight="normal" >20</text>
<text transform="translate(1032.8,596.43) scale(1,1.03)" font-size="22.4" text-anchor="end" font-weight="normal" >40</text>
<text transform="translate(1032.8,549.25) scale(1,1.03)" font-size="22.4" text-anchor="end" font-weight="normal" >60</text>
<text transform="translate(1032.8,502.07) scale(1,1.03)" font-size="22.4" text-anchor="end" font-weight="normal" >80</text>
<text transform="translate(1032.8,454.88) scale(1,1.03)" font-size="22.4" text-anchor="end" font-weight="normal" >100</text>
<text transform="translate(1032.8,407.7) scale(1,1.03)" font-size="22.4" text-anchor="end" font-weight="normal" >120</text>
<text transform="translate(283.1,363.8) scale(1,1.03)" font-size="24.5" text-anchor="middle">V<tspan font-size="16.3" dy="8">G</tspan><tspan dy="-8"> (V)</tspan></text>
<text transform="translate(746,364.5) scale(1,1.03)" font-size="24.5" text-anchor="middle">V<tspan font-size="16.3" dy="8">G</tspan><tspan dy="-8"> (V)</tspan></text>
<text transform="translate(1209,364) scale(1,1.03)" font-size="24.5" text-anchor="middle">V<tspan font-size="16.3" dy="8">G</tspan><tspan dy="-8"> (V)</tspan></text>
<text transform="translate(282.9,741.3) scale(1,1.03)" font-size="24.5" text-anchor="middle">V<tspan font-size="16.3" dy="8">D</tspan><tspan dy="-8"> (V)</tspan></text>
<text transform="translate(746.9,741.5) scale(1,1.03)" font-size="24.5" text-anchor="middle">V<tspan font-size="16.3" dy="8">D</tspan><tspan dy="-8"> (V)</tspan></text>
<text transform="translate(1215,740.8) scale(1,1.03)" font-size="24.5" text-anchor="middle">V<tspan font-size="16.3" dy="8">D</tspan><tspan dy="-8"> (V)</tspan></text>
<text transform="translate(45.4,152.3) rotate(-90) scale(1,1.03)" font-size="25.2" text-anchor="middle">I<tspan font-size="16.3" dy="7.5">D</tspan><tspan dy="-7.5"> (A)</tspan></text>
<text transform="translate(505,143.5) rotate(-90) scale(1,1.03)" font-size="25" text-anchor="middle">I<tspan font-size="16.3" dy="7.5">D</tspan><tspan dy="-7.5"> (A)</tspan></text>
<text transform="translate(970.5,145) rotate(-90) scale(1,1.03)" font-size="24.5" text-anchor="middle">|I<tspan font-size="16.3" dy="7.5">D</tspan><tspan dy="-7.5">| (A)</tspan></text>
<text transform="translate(61,531) rotate(-90) scale(1,1.03)" font-size="25.6" text-anchor="middle">I<tspan font-size="17.4" dy="8">Valley</tspan><tspan dy="-8"> (nA)</tspan></text>
<text transform="translate(524.7,531.1) rotate(-90) scale(1,1.03)" font-size="25.5" text-anchor="middle">I<tspan font-size="17.4" dy="8">Valley</tspan><tspan dy="-8"> (nA)</tspan></text>
<text transform="translate(979.8,531.3) rotate(-90) scale(1,1.03)" font-size="25.2" text-anchor="middle">I<tspan font-size="17.4" dy="8">valley</tspan><tspan dy="-8"> (nA)</tspan></text>
<text transform="translate(13.1,40.5) scale(1.0,1.0)" font-size="32">(a)</text>
<text transform="translate(474,40.5) scale(1.0,1.0)" font-size="32">(b)</text>
<text transform="translate(943,40.5) scale(1.0,1.0)" font-size="32">(c)</text>
<text transform="translate(13,399.2) scale(1.0,1.0)" font-size="32">(d)</text>
<text transform="translate(474,399.2) scale(1.0,1.0)" font-size="32">(e)</text>
<text transform="translate(943,399.2) scale(1.0,1.0)" font-size="32">(f)</text>
<text transform="translate(121.3,65.1) scale(1,1.01)" font-size="23" text-anchor="start" font-weight="bold" >SET-A</text>
<text transform="translate(587.6,65.2) scale(1,1.01)" font-size="23" text-anchor="start" font-weight="bold" >SET-B</text>
<text transform="translate(1051.6,64.9) scale(1,1.01)" font-size="23" text-anchor="start" font-weight="bold" >SET-C</text>
<text transform="translate(121.3,429.6) scale(1,1.01)" font-size="23" text-anchor="start" font-weight="bold" >SET-A</text>
<text transform="translate(587.7,428.6) scale(1,1.01)" font-size="23" text-anchor="start" font-weight="bold" >SET-B</text>
<text transform="translate(1050.8,428.6) scale(1,1.01)" font-size="23" text-anchor="start" font-weight="bold" >SET-C</text>
<text transform="translate(441.9,297.3) scale(1,1.03)" font-size="22" text-anchor="end" font-weight="normal" >Room Temp.</text>
<text transform="translate(906,298.5) scale(1,1.03)" font-size="22" text-anchor="end" font-weight="normal" >Room Temp.</text>
<text transform="translate(1368.5,297.5) scale(1,1.03)" font-size="22" text-anchor="end" font-weight="normal" >Room Temp.</text>
<text transform="translate(447.5,674) scale(1,1.03)" font-size="22" text-anchor="end" font-weight="normal" >Room Temp.</text>
<text transform="translate(911.9,674) scale(1,1.03)" font-size="22.2" text-anchor="end" font-weight="normal" >Room Temp.</text>
<text transform="translate(1381.2,671.5) scale(1,1.03)" font-size="22" text-anchor="end" font-weight="normal" >Room Temp.</text>
<text transform="translate(230.3,204.5) scale(1,1.03)" font-size="22">V<tspan font-size="15" dy="5">D</tspan><tspan dy="-5"> = 0.025 – 0.50 V</tspan></text>
<text transform="translate(230.3,230.9) scale(1,1.03)" font-size="22">(Step: 25 mV)</text>
<text transform="translate(699.3,216.5) scale(1,1.03)" font-size="22">V<tspan font-size="15" dy="5">D</tspan><tspan dy="-5"> = 0.02 – 0.50 V</tspan></text>
<text transform="translate(699.3,242.8) scale(1,1.03)" font-size="22">(Step: 20 mV)</text>
<text transform="translate(1148.2,202.6) scale(1,1.03)" font-size="22">V<tspan font-size="15" dy="5">D</tspan><tspan dy="-5"> = 0.02 – 0.50 V</tspan></text>
<text transform="translate(1148.2,229) scale(1,1.03)" font-size="22">(Step: 20 mV)</text>
<g clip-path="url(#clipd)">
<circle cx="125.71" cy="678.94" r="8.95" fill="url(#gb)"/>
<circle cx="143.09" cy="678.71" r="8.95" fill="url(#gb)"/>
<circle cx="160.47" cy="677.23" r="8.95" fill="url(#gb)"/>
<circle cx="177.84" cy="674.74" r="8.95" fill="url(#gb)"/>
<circle cx="195.22" cy="670.99" r="8.95" fill="url(#gb)"/>
<circle cx="212.6" cy="666.22" r="8.95" fill="url(#gb)"/>
<circle cx="229.98" cy="659.53" r="8.95" fill="url(#gb)"/>
<circle cx="247.35" cy="647.83" r="8.95" fill="url(#gb)"/>
<circle cx="264.73" cy="631.6" r="8.95" fill="url(#gb)"/>
<circle cx="282.11" cy="606.28" r="8.95" fill="url(#gb)"/>
<circle cx="299.49" cy="576.32" r="8.95" fill="url(#gb)"/>
<circle cx="316.67" cy="541.12" r="8.95" fill="url(#gb)"/>
<circle cx="333.86" cy="525.91" r="8.95" fill="url(#gb)"/>
<circle cx="351.04" cy="519.67" r="8.95" fill="url(#gb)"/>
<circle cx="368.23" cy="508.66" r="8.95" fill="url(#gb)"/>
<circle cx="385.41" cy="497.08" r="8.95" fill="url(#gb)"/>
<circle cx="402.6" cy="484.59" r="8.95" fill="url(#gb)"/>
<circle cx="419.78" cy="473.24" r="8.95" fill="url(#gb)"/>
<circle cx="436.97" cy="463.02" r="8.95" fill="url(#gb)"/>
<circle cx="454.15" cy="456.32" r="8.95" fill="url(#gb)"/>
</g>
<path d="M124.75 683.53 L127.36 683.32 L129.97 683.09 L132.58 682.86 L135.2 682.61 L137.81 682.35 L140.42 682.08 L143.03 681.8 L145.64 681.5 L148.26 681.19 L150.87 680.86 L153.48 680.52 L156.09 680.16 L158.71 679.78 L161.32 679.39 L163.93 678.97 L166.54 678.54 L169.15 678.08 L171.77 677.6 L174.38 677.1 L176.99 676.57 L179.6 676.02 L182.21 675.44 L184.83 674.83 L187.44 674.2 L190.05 673.53 L192.66 672.83 L195.28 672.1 L197.89 671.33 L200.5 670.52 L203.11 669.67 L205.72 668.79 L208.34 667.86 L210.95 666.88 L213.56 665.86 L216.17 664.78 L218.78 663.66 L221.4 662.48 L224.01 661.24 L226.62 659.94 L229.23 658.58 L231.84 657.16 L234.46 655.66 L237.07 654.09 L239.68 652.44 L242.29 650.72 L244.91 648.91 L247.52 647.01 L250.13 645.02 L252.74 642.94 L255.35 640.75 L257.97 638.45 L260.58 636.05 L263.19 633.52 L265.8 630.88 L268.41 628.1 L271.03 625.19 L273.64 622.14 L276.25 618.94 L278.86 615.59 L281.48 612.07 L284.09 608.38 L286.7 604.51 L289.31 600.45 L291.92 596.2 L294.54 591.73 L297.15 587.06 L299.76 582.15 L302.37 577 L304.98 571.61 L307.6 565.95 L310.21 560.02 L312.82 553.8 L315.43 547.27 L318.04 540.43 L320.66 533.25 L323.27 525.73 L325.88 517.84 L328.49 509.57 L331.11 500.89 L333.72 491.79" fill="none" stroke="#6cb8f6" stroke-width="3" clip-path="url(#clipd)"/>
<g clip-path="url(#clipe)">
<circle cx="586.35" cy="681.75" r="8.95" fill="url(#gg)"/>
<circle cx="600.1" cy="681.04" r="8.95" fill="url(#gg)"/>
<circle cx="613.85" cy="679.69" r="8.95" fill="url(#gg)"/>
<circle cx="627.6" cy="678.98" r="8.95" fill="url(#gg)"/>
<circle cx="641.35" cy="677.06" r="8.95" fill="url(#gg)"/>
<circle cx="655.11" cy="675.64" r="8.95" fill="url(#gg)"/>
<circle cx="668.86" cy="673.58" r="8.95" fill="url(#gg)"/>
<circle cx="682.61" cy="670.38" r="8.95" fill="url(#gg)"/>
<circle cx="696.36" cy="666.19" r="8.95" fill="url(#gg)"/>
<circle cx="710.11" cy="660.86" r="8.95" fill="url(#gg)"/>
<circle cx="723.87" cy="651.92" r="8.95" fill="url(#gg)"/>
<circle cx="737.62" cy="644.67" r="8.95" fill="url(#gg)"/>
<circle cx="752.17" cy="632.45" r="8.95" fill="url(#gg)"/>
<circle cx="766.73" cy="618.6" r="8.95" fill="url(#gg)"/>
<circle cx="781.28" cy="596.73" r="8.95" fill="url(#gg)"/>
<circle cx="795.03" cy="569.03" r="8.95" fill="url(#gg)"/>
<circle cx="808.78" cy="542.04" r="8.95" fill="url(#gg)"/>
<circle cx="822.54" cy="529.97" r="8.95" fill="url(#gg)"/>
<circle cx="836.29" cy="521.09" r="8.95" fill="url(#gg)"/>
<circle cx="850.04" cy="516.47" r="8.95" fill="url(#gg)"/>
<circle cx="863.79" cy="500.13" r="8.95" fill="url(#gg)"/>
<circle cx="877.54" cy="489.48" r="8.95" fill="url(#gg)"/>
<circle cx="891.3" cy="466.75" r="8.95" fill="url(#gg)"/>
<circle cx="905.05" cy="440.47" r="8.95" fill="url(#gg)"/>
<circle cx="918.8" cy="406.38" r="8.95" fill="url(#gg)"/>
</g>
<path d="M588.75 684 L591.76 683.8 L594.77 683.59 L597.78 683.37 L600.78 683.13 L603.79 682.89 L606.8 682.63 L609.81 682.36 L612.82 682.08 L615.83 681.78 L618.83 681.46 L621.84 681.13 L624.85 680.78 L627.86 680.42 L630.87 680.04 L633.88 679.63 L636.88 679.21 L639.89 678.76 L642.9 678.29 L645.91 677.8 L648.92 677.28 L651.93 676.74 L654.93 676.16 L657.94 675.56 L660.95 674.93 L663.96 674.26 L666.97 673.56 L669.97 672.83 L672.98 672.06 L675.99 671.24 L679 670.39 L682.01 669.49 L685.02 668.55 L688.02 667.56 L691.03 666.51 L694.04 665.42 L697.05 664.27 L700.06 663.05 L703.07 661.78 L706.07 660.44 L709.08 659.04 L712.09 657.56 L715.1 656 L718.11 654.37 L721.12 652.65 L724.12 650.84 L727.13 648.94 L730.14 646.95 L733.15 644.85 L736.16 642.65 L739.16 640.33 L742.17 637.89 L745.18 635.33 L748.19 632.63 L751.2 629.8 L754.21 626.83 L757.21 623.7 L760.22 620.41 L763.23 616.95 L766.24 613.32 L769.25 609.5 L772.26 605.48 L775.26 601.26 L778.27 596.82 L781.28 592.16 L784.29 587.25 L787.3 582.1 L790.3 576.68 L793.31 570.98 L796.32 564.99 L799.33 558.7 L802.34 552.08 L805.35 545.13 L808.35 537.81 L811.36 530.13 L814.37 522.05 L817.38 513.55 L820.39 504.62 L823.4 495.23 L826.4 485.37 L829.41 474.99" fill="none" stroke="#18ea18" stroke-width="3" clip-path="url(#clipe)"/>
<g clip-path="url(#clipf)">
<circle cx="1055.93" cy="681.44" r="8.95" fill="url(#gr)"/>
<circle cx="1069.75" cy="681.32" r="8.95" fill="url(#gr)"/>
<circle cx="1083.56" cy="680.97" r="8.95" fill="url(#gr)"/>
<circle cx="1097.38" cy="680.73" r="8.95" fill="url(#gr)"/>
<circle cx="1111.19" cy="680.26" r="8.95" fill="url(#gr)"/>
<circle cx="1125.01" cy="679.67" r="8.95" fill="url(#gr)"/>
<circle cx="1138.82" cy="678.61" r="8.95" fill="url(#gr)"/>
<circle cx="1152.64" cy="676.72" r="8.95" fill="url(#gr)"/>
<circle cx="1166.45" cy="675.07" r="8.95" fill="url(#gr)"/>
<circle cx="1180.27" cy="673.18" r="8.95" fill="url(#gr)"/>
<circle cx="1194.08" cy="669.64" r="8.95" fill="url(#gr)"/>
<circle cx="1207.9" cy="660.44" r="8.95" fill="url(#gr)"/>
<circle cx="1221.71" cy="650.3" r="8.95" fill="url(#gr)"/>
<circle cx="1235.53" cy="636.62" r="8.95" fill="url(#gr)"/>
<circle cx="1249.34" cy="617.74" r="8.95" fill="url(#gr)"/>
<circle cx="1263.1" cy="590.61" r="8.95" fill="url(#gr)"/>
<circle cx="1276.85" cy="573.16" r="8.95" fill="url(#gr)"/>
<circle cx="1290.61" cy="560.3" r="8.95" fill="url(#gr)"/>
<circle cx="1304.36" cy="548.74" r="8.95" fill="url(#gr)"/>
<circle cx="1318.12" cy="531.28" r="8.95" fill="url(#gr)"/>
<circle cx="1331.88" cy="514.18" r="8.95" fill="url(#gr)"/>
<circle cx="1345.63" cy="496.36" r="8.95" fill="url(#gr)"/>
<circle cx="1359.39" cy="484.33" r="8.95" fill="url(#gr)"/>
<circle cx="1373.14" cy="464.28" r="8.95" fill="url(#gr)"/>
<circle cx="1386.9" cy="450.12" r="8.95" fill="url(#gr)"/>
</g>
<path d="M1056.76 683.7 L1059.6 683.67 L1062.44 683.64 L1065.28 683.61 L1068.12 683.57 L1070.96 683.54 L1073.8 683.5 L1076.65 683.46 L1079.49 683.41 L1082.33 683.36 L1085.17 683.31 L1088.01 683.25 L1090.85 683.19 L1093.7 683.12 L1096.54 683.05 L1099.38 682.97 L1102.22 682.88 L1105.06 682.79 L1107.9 682.69 L1110.74 682.58 L1113.59 682.47 L1116.43 682.34 L1119.27 682.21 L1122.11 682.06 L1124.95 681.91 L1127.79 681.74 L1130.63 681.55 L1133.48 681.36 L1136.32 681.14 L1139.16 680.91 L1142 680.66 L1144.84 680.39 L1147.68 680.1 L1150.52 679.79 L1153.37 679.45 L1156.21 679.08 L1159.05 678.69 L1161.89 678.26 L1164.73 677.8 L1167.57 677.31 L1170.41 676.77 L1173.26 676.19 L1176.1 675.56 L1178.94 674.89 L1181.78 674.16 L1184.62 673.37 L1187.46 672.52 L1190.31 671.6 L1193.15 670.61 L1195.99 669.53 L1198.83 668.38 L1201.67 667.13 L1204.51 665.78 L1207.35 664.32 L1210.2 662.75 L1213.04 661.05 L1215.88 659.22 L1218.72 657.23 L1221.56 655.1 L1224.4 652.79 L1227.24 650.29 L1230.09 647.6 L1232.93 644.69 L1235.77 641.55 L1238.61 638.16 L1241.45 634.5 L1244.29 630.55 L1247.13 626.28 L1249.98 621.67 L1252.82 616.69 L1255.66 611.32 L1258.5 605.51 L1261.34 599.24 L1264.18 592.48 L1267.03 585.17 L1269.87 577.28 L1272.71 568.76 L1275.55 559.56 L1278.39 549.62 L1281.23 538.9 L1284.07 527.31" fill="none" stroke="#fab400" stroke-width="2.6" clip-path="url(#clipf)"/>
<circle cx="154" cy="457.1" r="8.95" fill="url(#gb)"/>
<path d="M129.3 483H178.9" stroke="#6cb8f6" stroke-width="3"/>
<text transform="translate(183,463.7) scale(1,1.03)" font-size="19" letter-spacing="0.95">Experimental</text>
<text transform="translate(183,489.8) scale(1,1.03)" font-size="19" letter-spacing="0.85">Best Fitted</text>
<circle cx="622.1" cy="455.1" r="8.95" fill="url(#gg)"/>
<path d="M598.5 480.3H646.5" stroke="#18ea18" stroke-width="3"/>
<text transform="translate(652.4,462) scale(1,1.03)" font-size="19" letter-spacing="0.95">Experimental</text>
<text transform="translate(652.4,487.5) scale(1,1.03)" font-size="19" letter-spacing="0.85">Best Fitted</text>
<circle cx="1089.6" cy="453.9" r="8.95" fill="url(#gr)"/>
<path d="M1070.5 477.5H1108.3" stroke="#f5b400" stroke-width="3"/>
<text transform="translate(1118.3,460.5) scale(1,1.03)" font-size="19" letter-spacing="0.95">Experimental</text>
<text transform="translate(1118.3,485.5) scale(1,1.03)" font-size="19" letter-spacing="0.85">Best Fitted</text>
<path d="M309.7 555.6C325 551 350 546 361 559" fill="none" stroke="#000" stroke-width="2" stroke-dasharray="2 1.8"/>
<path d="M364.8 567.7L355.4 559.8L361.3 561.2L365.8 555.6Z" fill="#000"/>
<path d="M828.5 532.6C800 524 748 511 726.3 526" fill="none" stroke="#000" stroke-width="2" stroke-dasharray="2 1.8"/>
<path d="M720.8 532.6L723.7 520.3L726.3 526L732.6 528.7Z" fill="#000"/>
<path d="M1274.6 555.6C1240 530 1205 524 1186.5 532.4" fill="none" stroke="#000" stroke-width="2" stroke-dasharray="2 1.8"/>
<path d="M1178.9 537.9L1184.4 527.3L1186.5 532.4L1190.3 535.7Z" fill="#000"/>
<text transform="translate(319.8,588.4) scale(1,1.03)" font-size="22">T<tspan font-size="15" dy="5">eff</tspan><tspan dy="-5"> = 376 K</tspan></text>
<text transform="translate(313.2,615.6) scale(1,1.03)" font-size="22">(Double-Dot)</text>
<text transform="translate(644.5,557.6) scale(1,1.03)" font-size="22">T<tspan font-size="15" dy="5">eff</tspan><tspan dy="-5"> = 349 K</tspan></text>
<text transform="translate(637.3,584.5) scale(1,1.03)" font-size="22">(Double-Dot)</text>
<text transform="translate(1096,564.3) scale(1,1.03)" font-size="22">T<tspan font-size="15" dy="5">eff</tspan><tspan dy="-5"> = 335 K</tspan></text>
<text transform="translate(1095.5,590.1) scale(1,1.03)" font-size="22">(Triple-Dot)</text>
</svg></body></html>
